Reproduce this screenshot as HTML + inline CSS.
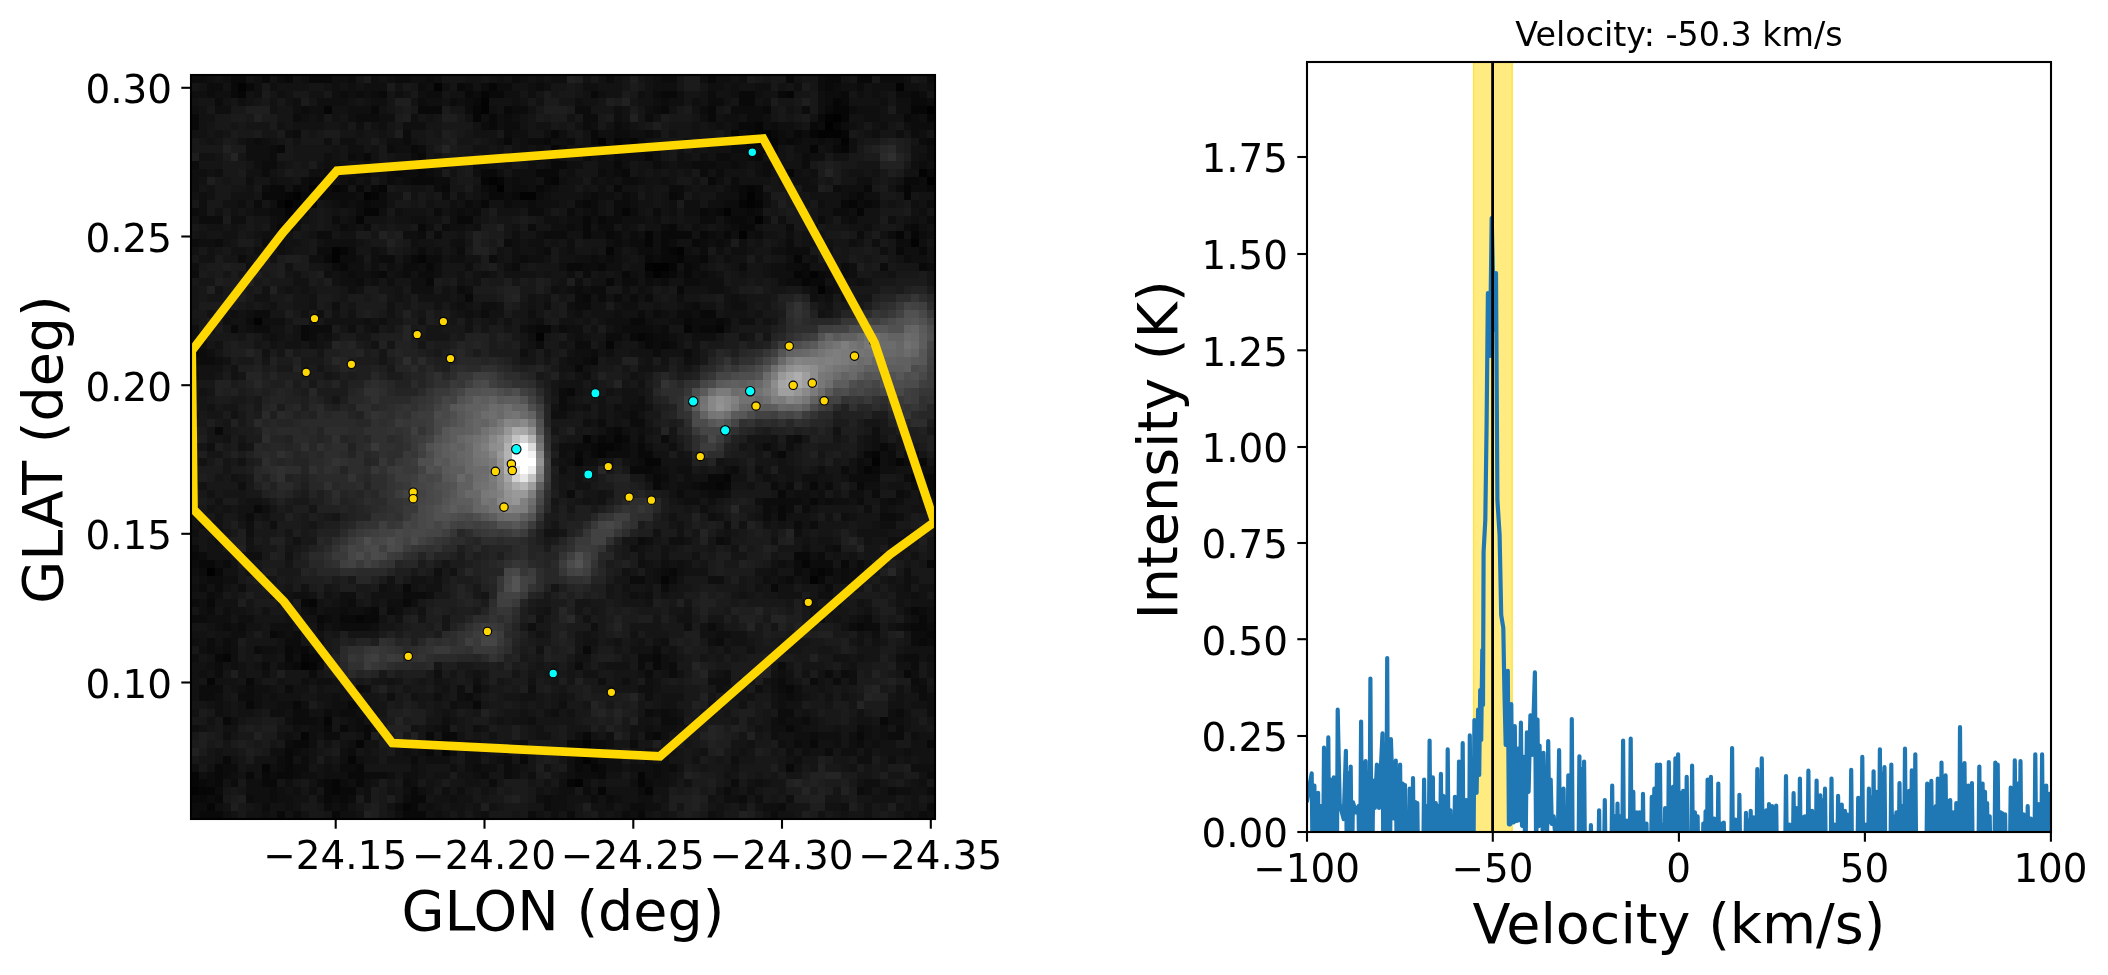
<!DOCTYPE html>
<html lang="en"><head><meta charset="utf-8"><title>Velocity: -50.3 km/s</title>
<style>html,body{margin:0;padding:0;background:#fff}body{width:2108px;height:975px;overflow:hidden}svg{display:block;will-change:transform;opacity:.999}text{font-family:"DejaVu Sans","Liberation Sans",sans-serif;fill:#000}</style>
</head><body>
<svg width="2108" height="975" viewBox="0 0 2108 975">
<rect width="2108" height="975" fill="#fff"/>
<defs><clipPath id="cl"><rect x="191.0" y="75.0" width="744.0" height="744.0"/></clipPath>
<clipPath id="cr"><rect x="1307.0" y="62.0" width="744.0" height="770.0"/></clipPath></defs>
<g clip-path="url(#cl)"><g transform="translate(183.54,67.11) scale(7.82700,7.82700)" shape-rendering="crispEdges">
<rect width="97" height="97" fill="rgb(18,18,18)"/>
<path fill="rgb(0,0,0)" d="M95 5h1v1h-1zM83 6h1v1h-1zM82 7h1v1h-1zM95 14h1v1h-1zM40 15h1v1h-1zM13 17h1v1h-1zM60 25h2v1h-2zM3 64h1v1h-1z"/>
<path fill="rgb(3,3,3)" d="M7 2h1v1h-1zM32 2h1v1h-1zM91 2h1v1h-1zM38 4h1v1h-1zM38 5h1v1h-1zM0 6h1v1h-1zM82 6h1v1h-1zM96 6h1v1h-1zM73 8h2v1h-2zM81 8h3v1h-3zM53 9h1v1h-1zM73 9h1v1h-1zM84 9h1v1h-1zM74 10h1v1h-1zM94 13h1v1h-1zM39 14h1v1h-1zM16 15h1v1h-1zM14 16h1v1h-1zM23 16h1v1h-1zM43 16h2v1h-2zM72 16h1v1h-1zM72 17h1v1h-1zM69 18h1v1h-1zM73 19h1v1h-1zM71 21h1v1h-1zM93 22h1v1h-1zM19 23h1v1h-1zM63 23h1v1h-1zM19 24h1v1h-1zM59 25h1v1h-1zM60 26h1v1h-1zM80 26h1v1h-1zM81 28h1v1h-1zM9 32h1v1h-1zM45 34h1v1h-1zM88 50h1v1h-1zM80 65h1v1h-1zM15 76h1v1h-1zM51 86h1v1h-1zM50 87h2v1h-2zM51 88h1v1h-1zM50 91h1v1h-1zM1 92h1v1h-1zM12 96h1v1h-1z"/>
<path fill="rgb(6,6,6)" d="M0 0h2v1h-2zM11 0h2v1h-2zM83 0h2v1h-2zM86 0h1v1h-1zM39 2h1v1h-1zM7 3h1v1h-1zM38 3h1v1h-1zM77 3h1v1h-1zM83 4h1v1h-1zM18 5h1v1h-1zM37 5h1v1h-1zM83 5h2v1h-2zM93 5h2v1h-2zM37 6h1v1h-1zM84 6h1v1h-1zM95 6h1v1h-1zM73 7h1v1h-1zM83 7h1v1h-1zM96 7h1v1h-1zM0 8h1v1h-1zM70 8h1v1h-1zM80 8h1v1h-1zM84 8h1v1h-1zM55 9h1v1h-1zM57 9h1v1h-1zM74 9h2v1h-2zM47 10h1v1h-1zM80 10h1v1h-1zM84 10h1v1h-1zM77 13h1v1h-1zM38 14h1v1h-1zM40 14h1v1h-1zM47 14h1v1h-1zM96 14h1v1h-1zM19 15h1v1h-1zM25 15h1v1h-1zM72 15h1v1h-1zM92 15h1v1h-1zM13 16h1v1h-1zM24 16h1v1h-1zM92 16h1v1h-1zM12 17h1v1h-1zM14 17h1v1h-1zM16 17h1v1h-1zM71 17h1v1h-1zM73 17h1v1h-1zM85 17h1v1h-1zM13 18h1v1h-1zM23 18h2v1h-2zM56 18h1v1h-1zM86 18h1v1h-1zM22 19h1v1h-1zM59 21h1v1h-1zM91 21h1v1h-1zM93 21h1v1h-1zM59 22h1v1h-1zM20 23h1v1h-1zM54 23h1v1h-1zM62 23h1v1h-1zM30 24h1v1h-1zM63 24h1v1h-1zM78 24h1v1h-1zM62 25h1v1h-1zM61 26h1v1h-1zM78 26h1v1h-1zM79 27h1v1h-1zM64 33h1v1h-1zM68 33h1v1h-1zM58 34h1v1h-1zM54 35h1v1h-1zM1 36h1v1h-1zM51 47h1v1h-1zM55 47h1v1h-1zM53 48h2v1h-2zM53 49h1v1h-1zM88 49h1v1h-1zM50 50h1v1h-1zM59 50h2v1h-2zM91 50h1v1h-1zM87 51h1v1h-1zM69 52h1v1h-1zM93 52h1v1h-1zM68 53h1v1h-1zM0 63h1v1h-1zM79 63h1v1h-1zM81 64h1v1h-1zM61 65h1v1h-1zM16 68h1v1h-1zM22 70h1v1h-1zM5 75h1v1h-1zM15 75h1v1h-1zM16 76h1v1h-1zM3 78h1v1h-1zM18 83h1v1h-1zM15 85h1v1h-1zM22 86h1v1h-1zM33 86h1v1h-1zM33 87h1v1h-1zM49 87h1v1h-1zM52 87h1v1h-1zM21 88h1v1h-1zM10 89h1v1h-1zM52 89h1v1h-1zM1 90h1v1h-1zM58 90h1v1h-1zM1 91h1v1h-1zM19 91h1v1h-1zM49 91h1v1h-1zM58 91h1v1h-1zM2 92h2v1h-2zM19 92h1v1h-1zM53 92h1v1h-1zM59 92h1v1h-1zM96 92h1v1h-1zM3 94h1v1h-1zM28 94h1v1h-1zM1 96h1v1h-1zM3 96h2v1h-2zM18 96h1v1h-1zM96 96h1v1h-1z"/>
<path fill="rgb(9,9,9)" d="M7 0h1v1h-1zM15 0h1v1h-1zM17 0h1v1h-1zM20 0h1v1h-1zM30 0h1v1h-1zM42 0h1v1h-1zM44 0h1v1h-1zM47 0h1v1h-1zM96 0h1v1h-1zM6 1h2v1h-2zM10 1h1v1h-1zM13 1h1v1h-1zM16 1h3v1h-3zM67 1h1v1h-1zM77 1h1v1h-1zM82 1h2v1h-2zM86 1h2v1h-2zM6 2h1v1h-1zM8 2h1v1h-1zM35 2h1v1h-1zM82 2h1v1h-1zM96 2h1v1h-1zM6 3h1v1h-1zM25 3h1v1h-1zM36 3h1v1h-1zM39 3h2v1h-2zM52 3h1v1h-1zM61 3h2v1h-2zM71 3h2v1h-2zM76 3h1v1h-1zM84 3h1v1h-1zM93 3h1v1h-1zM37 4h1v1h-1zM71 4h2v1h-2zM84 4h1v1h-1zM93 4h2v1h-2zM96 4h1v1h-1zM24 5h1v1h-1zM30 5h3v1h-3zM41 5h1v1h-1zM61 5h1v1h-1zM67 5h1v1h-1zM74 5h1v1h-1zM82 5h1v1h-1zM96 5h1v1h-1zM1 6h1v1h-1zM39 6h1v1h-1zM67 6h1v1h-1zM81 6h1v1h-1zM92 6h1v1h-1zM1 7h1v1h-1zM39 7h1v1h-1zM71 7h2v1h-2zM80 7h1v1h-1zM47 8h1v1h-1zM52 8h1v1h-1zM72 8h1v1h-1zM75 8h1v1h-1zM78 8h1v1h-1zM41 9h1v1h-1zM46 9h1v1h-1zM52 9h1v1h-1zM56 9h1v1h-1zM72 9h1v1h-1zM77 9h1v1h-1zM95 9h1v1h-1zM12 10h1v1h-1zM29 10h1v1h-1zM54 10h1v1h-1zM56 10h1v1h-1zM72 10h1v1h-1zM75 10h1v1h-1zM83 10h1v1h-1zM23 11h1v1h-1zM30 11h1v1h-1zM59 11h1v1h-1zM73 11h1v1h-1zM47 12h2v1h-2zM55 12h1v1h-1zM27 13h1v1h-1zM30 13h1v1h-1zM38 13h2v1h-2zM45 13h3v1h-3zM56 13h1v1h-1zM95 13h2v1h-2zM0 14h1v1h-1zM16 14h2v1h-2zM29 14h3v1h-3zM46 14h1v1h-1zM67 14h1v1h-1zM92 14h2v1h-2zM11 15h2v1h-2zM14 15h1v1h-1zM20 15h1v1h-1zM22 15h1v1h-1zM24 15h1v1h-1zM33 15h1v1h-1zM39 15h1v1h-1zM45 15h1v1h-1zM55 15h1v1h-1zM71 15h1v1h-1zM73 15h1v1h-1zM87 15h1v1h-1zM95 15h2v1h-2zM10 16h3v1h-3zM15 16h3v1h-3zM39 16h2v1h-2zM42 16h1v1h-1zM62 16h1v1h-1zM71 16h1v1h-1zM73 16h1v1h-1zM86 16h1v1h-1zM15 17h1v1h-1zM23 17h1v1h-1zM38 17h1v1h-1zM51 17h1v1h-1zM84 17h1v1h-1zM87 17h1v1h-1zM14 18h1v1h-1zM66 18h1v1h-1zM68 18h1v1h-1zM72 18h1v1h-1zM13 19h1v1h-1zM35 19h2v1h-2zM51 19h1v1h-1zM53 19h1v1h-1zM70 19h2v1h-2zM12 20h2v1h-2zM30 20h1v1h-1zM51 20h1v1h-1zM62 20h1v1h-1zM71 20h2v1h-2zM93 20h1v1h-1zM51 21h1v1h-1zM54 21h1v1h-1zM61 21h4v1h-4zM66 21h1v1h-1zM69 21h1v1h-1zM61 22h1v1h-1zM65 22h1v1h-1zM61 23h1v1h-1zM91 23h1v1h-1zM94 23h1v1h-1zM18 24h1v1h-1zM29 24h1v1h-1zM59 24h1v1h-1zM61 24h2v1h-2zM66 24h1v1h-1zM20 25h1v1h-1zM31 25h1v1h-1zM49 25h2v1h-2zM53 25h1v1h-1zM64 25h1v1h-1zM79 25h1v1h-1zM94 25h1v1h-1zM25 26h1v1h-1zM56 26h1v1h-1zM59 26h1v1h-1zM62 26h1v1h-1zM64 26h1v1h-1zM79 26h1v1h-1zM81 26h1v1h-1zM31 27h1v1h-1zM54 27h1v1h-1zM80 27h2v1h-2zM63 28h1v1h-1zM36 29h1v1h-1zM51 29h1v1h-1zM66 31h2v1h-2zM57 32h2v1h-2zM64 32h1v1h-1zM68 32h1v1h-1zM6 33h1v1h-1zM15 33h1v1h-1zM45 33h2v1h-2zM66 33h2v1h-2zM15 34h1v1h-1zM57 34h1v1h-1zM59 34h1v1h-1zM59 35h1v1h-1zM61 35h1v1h-1zM52 37h1v1h-1zM0 38h1v1h-1zM50 38h1v1h-1zM49 41h1v1h-1zM4 46h1v1h-1zM55 46h1v1h-1zM53 47h1v1h-1zM56 47h1v1h-1zM52 48h1v1h-1zM55 48h1v1h-1zM58 48h1v1h-1zM89 48h1v1h-1zM50 49h1v1h-1zM52 49h1v1h-1zM58 49h2v1h-2zM76 49h1v1h-1zM87 49h1v1h-1zM94 50h1v1h-1zM57 51h3v1h-3zM88 51h1v1h-1zM60 52h1v1h-1zM67 52h2v1h-2zM95 52h1v1h-1zM60 53h1v1h-1zM66 53h2v1h-2zM69 53h1v1h-1zM80 53h1v1h-1zM86 53h1v1h-1zM95 53h1v1h-1zM76 54h1v1h-1zM80 55h1v1h-1zM9 56h1v1h-1zM76 56h1v1h-1zM76 57h1v1h-1zM1 62h1v1h-1zM78 62h2v1h-2zM2 63h2v1h-2zM84 63h1v1h-1zM95 63h1v1h-1zM4 64h1v1h-1zM62 64h1v1h-1zM80 64h1v1h-1zM82 64h1v1h-1zM81 65h1v1h-1zM28 66h1v1h-1zM75 66h1v1h-1zM3 68h1v1h-1zM15 68h1v1h-1zM28 68h1v1h-1zM24 69h1v1h-1zM93 69h1v1h-1zM17 70h1v1h-1zM20 70h2v1h-2zM23 70h2v1h-2zM94 70h1v1h-1zM86 71h1v1h-1zM93 71h2v1h-2zM11 72h1v1h-1zM95 72h1v1h-1zM94 73h1v1h-1zM13 74h1v1h-1zM15 74h1v1h-1zM51 74h1v1h-1zM4 75h1v1h-1zM13 75h1v1h-1zM16 75h2v1h-2zM60 75h1v1h-1zM14 76h1v1h-1zM60 76h1v1h-1zM92 77h1v1h-1zM8 78h1v1h-1zM77 79h1v1h-1zM8 81h1v1h-1zM14 81h1v1h-1zM21 81h1v1h-1zM37 81h1v1h-1zM23 82h1v1h-1zM5 83h1v1h-1zM89 83h1v1h-1zM18 84h1v1h-1zM20 84h1v1h-1zM23 84h1v1h-1zM77 84h1v1h-1zM23 85h1v1h-1zM31 85h1v1h-1zM33 85h2v1h-2zM51 85h1v1h-1zM60 85h1v1h-1zM86 85h1v1h-1zM14 86h2v1h-2zM32 86h1v1h-1zM49 86h2v1h-2zM80 86h1v1h-1zM95 86h1v1h-1zM13 87h1v1h-1zM31 87h1v1h-1zM96 87h1v1h-1zM5 88h1v1h-1zM13 88h1v1h-1zM43 88h1v1h-1zM50 88h1v1h-1zM52 88h1v1h-1zM4 89h1v1h-1zM13 89h1v1h-1zM22 89h1v1h-1zM50 89h1v1h-1zM53 89h1v1h-1zM77 89h1v1h-1zM0 90h1v1h-1zM4 90h1v1h-1zM8 90h1v1h-1zM10 90h1v1h-1zM12 90h2v1h-2zM21 90h2v1h-2zM53 90h1v1h-1zM2 91h1v1h-1zM4 91h1v1h-1zM10 91h2v1h-2zM18 91h1v1h-1zM22 91h1v1h-1zM18 92h1v1h-1zM20 92h2v1h-2zM29 92h1v1h-1zM0 93h3v1h-3zM4 93h1v1h-1zM18 93h1v1h-1zM20 93h1v1h-1zM29 93h2v1h-2zM29 94h1v1h-1zM0 95h1v1h-1zM2 95h3v1h-3zM12 95h1v1h-1zM19 95h1v1h-1zM28 95h3v1h-3zM58 95h1v1h-1zM2 96h1v1h-1zM13 96h1v1h-1zM57 96h1v1h-1zM84 96h1v1h-1z"/>
<path fill="rgb(12,12,12)" d="M2 0h1v1h-1zM6 0h1v1h-1zM10 0h1v1h-1zM18 0h2v1h-2zM26 0h1v1h-1zM28 0h2v1h-2zM36 0h2v1h-2zM45 0h2v1h-2zM76 0h2v1h-2zM81 0h1v1h-1zM85 0h1v1h-1zM87 0h1v1h-1zM94 0h2v1h-2zM0 1h3v1h-3zM12 1h1v1h-1zM21 1h1v1h-1zM27 1h2v1h-2zM31 1h1v1h-1zM42 1h1v1h-1zM54 1h1v1h-1zM61 1h2v1h-2zM81 1h1v1h-1zM89 1h3v1h-3zM95 1h2v1h-2zM3 2h2v1h-2zM30 2h1v1h-1zM36 2h1v1h-1zM38 2h1v1h-1zM40 2h2v1h-2zM45 2h1v1h-1zM81 2h1v1h-1zM83 2h1v1h-1zM86 2h1v1h-1zM3 3h1v1h-1zM20 3h1v1h-1zM22 3h1v1h-1zM24 3h1v1h-1zM31 3h2v1h-2zM37 3h1v1h-1zM60 3h1v1h-1zM67 3h1v1h-1zM82 3h2v1h-2zM91 3h2v1h-2zM94 3h1v1h-1zM96 3h1v1h-1zM4 4h1v1h-1zM30 4h1v1h-1zM34 4h1v1h-1zM36 4h1v1h-1zM61 4h1v1h-1zM67 4h2v1h-2zM82 4h1v1h-1zM95 4h1v1h-1zM0 5h1v1h-1zM15 5h1v1h-1zM36 5h1v1h-1zM42 5h2v1h-2zM50 5h2v1h-2zM60 5h1v1h-1zM66 5h1v1h-1zM70 5h4v1h-4zM79 5h1v1h-1zM85 5h1v1h-1zM14 6h1v1h-1zM22 6h3v1h-3zM41 6h1v1h-1zM51 6h2v1h-2zM59 6h1v1h-1zM72 6h2v1h-2zM93 6h1v1h-1zM38 7h1v1h-1zM41 7h2v1h-2zM51 7h1v1h-1zM55 7h1v1h-1zM75 7h1v1h-1zM81 7h1v1h-1zM84 7h1v1h-1zM93 7h3v1h-3zM14 8h1v1h-1zM28 8h1v1h-1zM41 8h1v1h-1zM55 8h2v1h-2zM59 8h1v1h-1zM71 8h1v1h-1zM76 8h1v1h-1zM79 8h1v1h-1zM93 8h1v1h-1zM96 8h1v1h-1zM9 9h1v1h-1zM28 9h1v1h-1zM44 9h2v1h-2zM49 9h1v1h-1zM58 9h1v1h-1zM76 9h1v1h-1zM78 9h1v1h-1zM81 9h1v1h-1zM83 9h1v1h-1zM94 9h1v1h-1zM11 10h1v1h-1zM26 10h1v1h-1zM30 10h1v1h-1zM48 10h1v1h-1zM53 10h1v1h-1zM55 10h1v1h-1zM59 10h1v1h-1zM70 10h2v1h-2zM73 10h1v1h-1zM95 10h1v1h-1zM11 11h1v1h-1zM21 11h1v1h-1zM29 11h1v1h-1zM44 11h2v1h-2zM47 11h1v1h-1zM51 11h1v1h-1zM55 11h1v1h-1zM68 11h2v1h-2zM72 11h1v1h-1zM79 11h1v1h-1zM95 11h2v1h-2zM1 12h1v1h-1zM10 12h2v1h-2zM37 12h1v1h-1zM60 12h1v1h-1zM65 12h3v1h-3zM70 12h1v1h-1zM74 12h2v1h-2zM79 12h1v1h-1zM94 12h1v1h-1zM10 13h1v1h-1zM18 13h1v1h-1zM22 13h2v1h-2zM26 13h1v1h-1zM28 13h2v1h-2zM31 13h1v1h-1zM53 13h1v1h-1zM55 13h1v1h-1zM66 13h1v1h-1zM68 13h1v1h-1zM74 13h1v1h-1zM15 14h1v1h-1zM18 14h1v1h-1zM21 14h1v1h-1zM26 14h1v1h-1zM28 14h1v1h-1zM32 14h2v1h-2zM42 14h1v1h-1zM56 14h2v1h-2zM70 14h1v1h-1zM94 14h1v1h-1zM10 15h1v1h-1zM15 15h1v1h-1zM18 15h1v1h-1zM32 15h1v1h-1zM38 15h1v1h-1zM42 15h2v1h-2zM46 15h1v1h-1zM62 15h2v1h-2zM70 15h1v1h-1zM83 15h1v1h-1zM91 15h1v1h-1zM93 15h2v1h-2zM18 16h4v1h-4zM25 16h1v1h-1zM33 16h1v1h-1zM41 16h1v1h-1zM45 16h1v1h-1zM52 16h1v1h-1zM56 16h1v1h-1zM63 16h1v1h-1zM85 16h1v1h-1zM9 17h1v1h-1zM20 17h1v1h-1zM22 17h1v1h-1zM24 17h2v1h-2zM36 17h1v1h-1zM41 17h1v1h-1zM44 17h1v1h-1zM50 17h1v1h-1zM52 17h1v1h-1zM55 17h2v1h-2zM69 17h2v1h-2zM86 17h1v1h-1zM88 17h1v1h-1zM95 17h1v1h-1zM1 18h1v1h-1zM11 18h2v1h-2zM15 18h1v1h-1zM22 18h1v1h-1zM32 18h1v1h-1zM35 18h1v1h-1zM37 18h1v1h-1zM44 18h2v1h-2zM49 18h1v1h-1zM52 18h1v1h-1zM55 18h1v1h-1zM57 18h1v1h-1zM60 18h1v1h-1zM67 18h1v1h-1zM70 18h2v1h-2zM73 18h1v1h-1zM83 18h2v1h-2zM2 19h3v1h-3zM12 19h1v1h-1zM14 19h1v1h-1zM19 19h1v1h-1zM54 19h2v1h-2zM66 19h2v1h-2zM69 19h1v1h-1zM72 19h1v1h-1zM81 19h1v1h-1zM85 19h1v1h-1zM95 19h1v1h-1zM20 20h1v1h-1zM23 20h1v1h-1zM33 20h1v1h-1zM44 20h1v1h-1zM49 20h1v1h-1zM53 20h2v1h-2zM61 20h1v1h-1zM70 20h1v1h-1zM77 20h1v1h-1zM80 20h1v1h-1zM92 20h1v1h-1zM17 21h2v1h-2zM30 21h1v1h-1zM32 21h1v1h-1zM46 21h3v1h-3zM55 21h1v1h-1zM57 21h1v1h-1zM67 21h1v1h-1zM73 21h1v1h-1zM86 21h1v1h-1zM90 21h1v1h-1zM94 21h1v1h-1zM1 22h1v1h-1zM4 22h1v1h-1zM10 22h1v1h-1zM41 22h1v1h-1zM55 22h1v1h-1zM57 22h2v1h-2zM62 22h1v1h-1zM66 22h1v1h-1zM68 22h1v1h-1zM77 22h1v1h-1zM91 22h2v1h-2zM17 23h2v1h-2zM21 23h1v1h-1zM30 23h1v1h-1zM35 23h1v1h-1zM46 23h1v1h-1zM58 23h2v1h-2zM66 23h1v1h-1zM77 23h3v1h-3zM0 24h1v1h-1zM7 24h1v1h-1zM20 24h2v1h-2zM25 24h2v1h-2zM31 24h2v1h-2zM39 24h1v1h-1zM43 24h1v1h-1zM52 24h1v1h-1zM54 24h1v1h-1zM60 24h1v1h-1zM64 24h2v1h-2zM92 24h1v1h-1zM0 25h1v1h-1zM19 25h1v1h-1zM28 25h2v1h-2zM42 25h1v1h-1zM51 25h2v1h-2zM65 25h1v1h-1zM71 25h1v1h-1zM77 25h2v1h-2zM84 25h1v1h-1zM89 25h1v1h-1zM95 25h1v1h-1zM1 26h1v1h-1zM21 26h1v1h-1zM24 26h1v1h-1zM28 26h1v1h-1zM30 26h2v1h-2zM51 26h1v1h-1zM66 26h1v1h-1zM82 26h1v1h-1zM84 26h1v1h-1zM0 27h1v1h-1zM22 27h1v1h-1zM56 27h2v1h-2zM59 27h1v1h-1zM61 27h1v1h-1zM64 27h2v1h-2zM77 27h2v1h-2zM35 28h1v1h-1zM50 28h1v1h-1zM52 28h2v1h-2zM82 28h1v1h-1zM50 29h1v1h-1zM53 29h1v1h-1zM55 29h1v1h-1zM57 29h1v1h-1zM59 29h1v1h-1zM50 30h2v1h-2zM65 30h1v1h-1zM9 31h2v1h-2zM38 31h1v1h-1zM58 31h1v1h-1zM60 31h1v1h-1zM63 31h2v1h-2zM8 32h1v1h-1zM65 32h3v1h-3zM69 32h1v1h-1zM9 33h2v1h-2zM16 33h3v1h-3zM44 33h1v1h-1zM48 33h1v1h-1zM56 33h4v1h-4zM61 33h1v1h-1zM65 33h1v1h-1zM16 34h1v1h-1zM54 34h2v1h-2zM60 34h2v1h-2zM1 35h1v1h-1zM45 35h1v1h-1zM50 35h2v1h-2zM60 35h1v1h-1zM62 35h1v1h-1zM2 36h1v1h-1zM52 36h1v1h-1zM60 36h1v1h-1zM64 36h1v1h-1zM1 37h3v1h-3zM51 37h1v1h-1zM0 39h2v1h-2zM48 41h1v1h-1zM48 42h1v1h-1zM48 43h1v1h-1zM57 44h1v1h-1zM53 45h1v1h-1zM57 45h2v1h-2zM54 46h1v1h-1zM54 47h1v1h-1zM58 47h1v1h-1zM61 47h1v1h-1zM78 47h1v1h-1zM50 48h2v1h-2zM56 48h1v1h-1zM74 48h1v1h-1zM54 49h3v1h-3zM90 49h1v1h-1zM93 49h1v1h-1zM58 50h1v1h-1zM86 50h1v1h-1zM90 50h1v1h-1zM92 50h1v1h-1zM60 51h1v1h-1zM70 51h1v1h-1zM84 51h1v1h-1zM86 51h1v1h-1zM61 52h1v1h-1zM85 52h4v1h-4zM92 52h1v1h-1zM94 52h1v1h-1zM65 53h1v1h-1zM75 53h1v1h-1zM77 53h1v1h-1zM82 53h1v1h-1zM93 53h1v1h-1zM49 54h1v1h-1zM63 54h1v1h-1zM67 54h2v1h-2zM88 54h1v1h-1zM91 54h1v1h-1zM94 54h2v1h-2zM74 55h5v1h-5zM82 55h1v1h-1zM86 55h1v1h-1zM90 55h1v1h-1zM74 56h1v1h-1zM77 56h1v1h-1zM79 56h1v1h-1zM8 57h1v1h-1zM74 57h1v1h-1zM89 57h2v1h-2zM78 58h1v1h-1zM80 58h1v1h-1zM58 60h1v1h-1zM68 60h1v1h-1zM1 61h1v1h-1zM83 61h1v1h-1zM0 62h1v1h-1zM2 62h1v1h-1zM81 62h1v1h-1zM1 63h1v1h-1zM5 63h1v1h-1zM78 63h1v1h-1zM80 63h3v1h-3zM86 63h1v1h-1zM96 63h1v1h-1zM0 64h1v1h-1zM2 64h1v1h-1zM61 64h1v1h-1zM78 64h1v1h-1zM84 64h1v1h-1zM86 64h1v1h-1zM3 65h2v1h-2zM57 65h2v1h-2zM62 65h1v1h-1zM77 65h1v1h-1zM84 65h1v1h-1zM0 66h1v1h-1zM2 66h1v1h-1zM4 66h1v1h-1zM61 66h1v1h-1zM82 66h1v1h-1zM0 67h1v1h-1zM3 67h1v1h-1zM28 67h3v1h-3zM0 68h2v1h-2zM21 68h1v1h-1zM83 68h1v1h-1zM96 68h1v1h-1zM3 69h1v1h-1zM16 69h1v1h-1zM20 69h1v1h-1zM23 69h1v1h-1zM26 69h1v1h-1zM94 69h1v1h-1zM1 70h2v1h-2zM18 70h1v1h-1zM81 70h1v1h-1zM87 70h1v1h-1zM5 71h1v1h-1zM7 71h1v1h-1zM17 71h1v1h-1zM20 71h4v1h-4zM67 71h1v1h-1zM85 71h1v1h-1zM87 71h2v1h-2zM92 71h1v1h-1zM95 71h1v1h-1zM12 72h1v1h-1zM14 72h1v1h-1zM93 72h2v1h-2zM96 72h1v1h-1zM3 73h1v1h-1zM5 73h1v1h-1zM13 73h2v1h-2zM68 73h1v1h-1zM93 73h1v1h-1zM95 73h1v1h-1zM3 74h1v1h-1zM5 74h1v1h-1zM9 74h1v1h-1zM14 74h1v1h-1zM17 74h1v1h-1zM60 74h1v1h-1zM58 75h2v1h-2zM92 75h2v1h-2zM4 76h1v1h-1zM10 76h1v1h-1zM13 76h1v1h-1zM17 76h1v1h-1zM50 76h1v1h-1zM58 76h1v1h-1zM62 76h1v1h-1zM76 76h1v1h-1zM93 76h1v1h-1zM4 77h1v1h-1zM16 77h1v1h-1zM59 77h1v1h-1zM62 77h1v1h-1zM82 77h1v1h-1zM84 77h1v1h-1zM76 78h1v1h-1zM80 78h1v1h-1zM83 78h1v1h-1zM93 78h1v1h-1zM2 79h3v1h-3zM8 79h1v1h-1zM13 79h1v1h-1zM22 79h1v1h-1zM37 79h1v1h-1zM76 79h1v1h-1zM94 79h1v1h-1zM2 80h2v1h-2zM7 80h2v1h-2zM36 80h1v1h-1zM77 80h1v1h-1zM94 80h1v1h-1zM22 81h1v1h-1zM14 82h2v1h-2zM18 82h1v1h-1zM20 82h2v1h-2zM59 82h1v1h-1zM61 82h1v1h-1zM76 82h2v1h-2zM91 82h1v1h-1zM14 83h3v1h-3zM22 83h1v1h-1zM61 83h2v1h-2zM76 83h1v1h-1zM79 83h1v1h-1zM22 84h1v1h-1zM33 84h1v1h-1zM86 84h1v1h-1zM91 84h1v1h-1zM18 85h2v1h-2zM59 85h1v1h-1zM80 85h1v1h-1zM90 85h2v1h-2zM13 86h1v1h-1zM31 86h1v1h-1zM36 86h1v1h-1zM52 86h2v1h-2zM57 86h1v1h-1zM78 86h1v1h-1zM86 86h1v1h-1zM14 87h1v1h-1zM21 87h1v1h-1zM34 87h1v1h-1zM53 87h1v1h-1zM82 87h1v1h-1zM12 88h1v1h-1zM15 88h1v1h-1zM29 88h1v1h-1zM41 88h1v1h-1zM5 89h2v1h-2zM12 89h1v1h-1zM14 89h2v1h-2zM20 89h2v1h-2zM37 89h1v1h-1zM41 89h1v1h-1zM51 89h1v1h-1zM60 89h1v1h-1zM62 89h1v1h-1zM96 89h1v1h-1zM3 90h1v1h-1zM5 90h1v1h-1zM11 90h1v1h-1zM14 90h1v1h-1zM23 90h3v1h-3zM38 90h1v1h-1zM41 90h1v1h-1zM50 90h3v1h-3zM60 90h1v1h-1zM95 90h1v1h-1zM0 91h1v1h-1zM3 91h1v1h-1zM6 91h1v1h-1zM17 91h1v1h-1zM20 91h1v1h-1zM28 91h1v1h-1zM39 91h1v1h-1zM59 91h1v1h-1zM70 91h1v1h-1zM96 91h1v1h-1zM0 92h1v1h-1zM4 92h1v1h-1zM11 92h1v1h-1zM51 92h1v1h-1zM58 92h1v1h-1zM69 92h1v1h-1zM86 92h1v1h-1zM90 92h1v1h-1zM95 92h1v1h-1zM3 93h1v1h-1zM8 93h1v1h-1zM11 93h1v1h-1zM19 93h1v1h-1zM21 93h1v1h-1zM28 93h1v1h-1zM46 93h1v1h-1zM52 93h1v1h-1zM54 93h1v1h-1zM71 93h1v1h-1zM96 93h1v1h-1zM1 94h2v1h-2zM10 94h1v1h-1zM18 94h1v1h-1zM20 94h1v1h-1zM27 94h1v1h-1zM46 94h1v1h-1zM57 94h2v1h-2zM76 94h1v1h-1zM95 94h1v1h-1zM1 95h1v1h-1zM14 95h1v1h-1zM44 95h1v1h-1zM49 95h1v1h-1zM56 95h1v1h-1zM75 95h1v1h-1zM94 95h1v1h-1zM96 95h1v1h-1zM0 96h1v1h-1zM11 96h1v1h-1zM19 96h3v1h-3zM27 96h2v1h-2zM30 96h1v1h-1zM45 96h1v1h-1zM58 96h1v1h-1zM77 96h1v1h-1zM87 96h1v1h-1z"/>
<path fill="rgb(15,15,15)" d="M3 0h1v1h-1zM5 0h1v1h-1zM8 0h1v1h-1zM13 0h2v1h-2zM16 0h1v1h-1zM21 0h1v1h-1zM27 0h1v1h-1zM31 0h1v1h-1zM35 0h1v1h-1zM39 0h1v1h-1zM43 0h1v1h-1zM53 0h1v1h-1zM62 0h1v1h-1zM67 0h1v1h-1zM75 0h1v1h-1zM82 0h1v1h-1zM88 0h2v1h-2zM92 0h2v1h-2zM3 1h1v1h-1zM5 1h1v1h-1zM9 1h1v1h-1zM15 1h1v1h-1zM19 1h2v1h-2zM24 1h1v1h-1zM26 1h1v1h-1zM29 1h2v1h-2zM32 1h1v1h-1zM40 1h1v1h-1zM43 1h1v1h-1zM45 1h1v1h-1zM47 1h2v1h-2zM60 1h1v1h-1zM66 1h1v1h-1zM68 1h2v1h-2zM71 1h1v1h-1zM92 1h1v1h-1zM0 2h1v1h-1zM9 2h1v1h-1zM11 2h1v1h-1zM19 2h1v1h-1zM21 2h1v1h-1zM23 2h3v1h-3zM31 2h1v1h-1zM33 2h1v1h-1zM44 2h1v1h-1zM46 2h1v1h-1zM51 2h2v1h-2zM60 2h3v1h-3zM67 2h2v1h-2zM70 2h1v1h-1zM73 2h2v1h-2zM78 2h1v1h-1zM84 2h2v1h-2zM88 2h3v1h-3zM92 2h2v1h-2zM95 2h1v1h-1zM1 3h2v1h-2zM4 3h2v1h-2zM9 3h1v1h-1zM12 3h1v1h-1zM19 3h1v1h-1zM21 3h1v1h-1zM23 3h1v1h-1zM27 3h1v1h-1zM30 3h1v1h-1zM41 3h2v1h-2zM44 3h1v1h-1zM53 3h1v1h-1zM58 3h1v1h-1zM63 3h1v1h-1zM70 3h1v1h-1zM73 3h1v1h-1zM81 3h1v1h-1zM86 3h1v1h-1zM88 3h1v1h-1zM7 4h1v1h-1zM14 4h1v1h-1zM17 4h4v1h-4zM24 4h2v1h-2zM31 4h2v1h-2zM35 4h1v1h-1zM42 4h1v1h-1zM50 4h1v1h-1zM60 4h1v1h-1zM62 4h2v1h-2zM65 4h1v1h-1zM74 4h1v1h-1zM81 4h1v1h-1zM89 4h1v1h-1zM91 4h2v1h-2zM1 5h1v1h-1zM4 5h2v1h-2zM14 5h1v1h-1zM16 5h2v1h-2zM21 5h3v1h-3zM39 5h1v1h-1zM55 5h1v1h-1zM59 5h1v1h-1zM81 5h1v1h-1zM86 5h3v1h-3zM91 5h2v1h-2zM15 6h1v1h-1zM17 6h1v1h-1zM21 6h1v1h-1zM25 6h2v1h-2zM29 6h1v1h-1zM38 6h1v1h-1zM40 6h1v1h-1zM42 6h1v1h-1zM55 6h1v1h-1zM66 6h1v1h-1zM69 6h2v1h-2zM74 6h1v1h-1zM87 6h2v1h-2zM94 6h1v1h-1zM0 7h1v1h-1zM22 7h1v1h-1zM25 7h1v1h-1zM28 7h3v1h-3zM40 7h1v1h-1zM52 7h1v1h-1zM56 7h1v1h-1zM68 7h1v1h-1zM70 7h1v1h-1zM74 7h1v1h-1zM76 7h2v1h-2zM85 7h1v1h-1zM89 7h1v1h-1zM92 7h1v1h-1zM13 8h1v1h-1zM42 8h2v1h-2zM46 8h1v1h-1zM48 8h1v1h-1zM53 8h2v1h-2zM57 8h2v1h-2zM60 8h1v1h-1zM77 8h1v1h-1zM88 8h1v1h-1zM91 8h1v1h-1zM94 8h1v1h-1zM8 9h1v1h-1zM10 9h1v1h-1zM18 9h1v1h-1zM20 9h2v1h-2zM26 9h2v1h-2zM40 9h1v1h-1zM43 9h1v1h-1zM47 9h2v1h-2zM54 9h1v1h-1zM64 9h1v1h-1zM79 9h2v1h-2zM82 9h1v1h-1zM85 9h1v1h-1zM8 10h3v1h-3zM21 10h2v1h-2zM27 10h2v1h-2zM43 10h1v1h-1zM45 10h1v1h-1zM57 10h2v1h-2zM60 10h1v1h-1zM78 10h2v1h-2zM82 10h1v1h-1zM85 10h1v1h-1zM8 11h3v1h-3zM18 11h1v1h-1zM22 11h1v1h-1zM43 11h1v1h-1zM46 11h1v1h-1zM53 11h1v1h-1zM56 11h3v1h-3zM60 11h1v1h-1zM63 11h1v1h-1zM66 11h1v1h-1zM70 11h2v1h-2zM75 11h1v1h-1zM80 11h2v1h-2zM94 11h1v1h-1zM0 12h1v1h-1zM9 12h1v1h-1zM18 12h2v1h-2zM23 12h1v1h-1zM28 12h4v1h-4zM33 12h1v1h-1zM38 12h1v1h-1zM44 12h1v1h-1zM46 12h1v1h-1zM49 12h2v1h-2zM53 12h2v1h-2zM56 12h1v1h-1zM61 12h1v1h-1zM63 12h2v1h-2zM68 12h2v1h-2zM71 12h1v1h-1zM73 12h1v1h-1zM93 12h1v1h-1zM95 12h1v1h-1zM0 13h3v1h-3zM4 13h1v1h-1zM16 13h2v1h-2zM19 13h1v1h-1zM32 13h1v1h-1zM37 13h1v1h-1zM40 13h1v1h-1zM42 13h3v1h-3zM49 13h1v1h-1zM54 13h1v1h-1zM73 13h1v1h-1zM78 13h1v1h-1zM80 13h1v1h-1zM1 14h1v1h-1zM8 14h1v1h-1zM11 14h1v1h-1zM20 14h1v1h-1zM23 14h1v1h-1zM27 14h1v1h-1zM41 14h1v1h-1zM43 14h2v1h-2zM48 14h1v1h-1zM52 14h1v1h-1zM54 14h1v1h-1zM58 14h1v1h-1zM61 14h1v1h-1zM68 14h1v1h-1zM78 14h2v1h-2zM86 14h2v1h-2zM0 15h2v1h-2zM17 15h1v1h-1zM41 15h1v1h-1zM44 15h1v1h-1zM47 15h1v1h-1zM53 15h1v1h-1zM69 15h1v1h-1zM77 15h1v1h-1zM79 15h2v1h-2zM84 15h3v1h-3zM0 16h1v1h-1zM2 16h1v1h-1zM22 16h1v1h-1zM35 16h1v1h-1zM38 16h1v1h-1zM46 16h1v1h-1zM51 16h1v1h-1zM53 16h2v1h-2zM57 16h1v1h-1zM68 16h3v1h-3zM74 16h1v1h-1zM84 16h1v1h-1zM87 16h2v1h-2zM96 16h1v1h-1zM2 17h1v1h-1zM7 17h1v1h-1zM11 17h1v1h-1zM19 17h1v1h-1zM21 17h1v1h-1zM34 17h1v1h-1zM37 17h1v1h-1zM42 17h2v1h-2zM45 17h3v1h-3zM57 17h1v1h-1zM62 17h1v1h-1zM64 17h2v1h-2zM67 17h2v1h-2zM74 17h1v1h-1zM81 17h1v1h-1zM93 17h1v1h-1zM0 18h1v1h-1zM2 18h1v1h-1zM9 18h2v1h-2zM25 18h1v1h-1zM27 18h1v1h-1zM34 18h1v1h-1zM36 18h1v1h-1zM51 18h1v1h-1zM62 18h1v1h-1zM64 18h2v1h-2zM85 18h1v1h-1zM94 18h1v1h-1zM96 18h1v1h-1zM6 19h2v1h-2zM11 19h1v1h-1zM21 19h1v1h-1zM29 19h2v1h-2zM34 19h1v1h-1zM46 19h2v1h-2zM49 19h2v1h-2zM52 19h1v1h-1zM56 19h3v1h-3zM60 19h1v1h-1zM74 19h1v1h-1zM76 19h1v1h-1zM84 19h1v1h-1zM90 19h1v1h-1zM93 19h1v1h-1zM11 20h1v1h-1zM14 20h1v1h-1zM21 20h1v1h-1zM31 20h1v1h-1zM34 20h2v1h-2zM37 20h1v1h-1zM47 20h2v1h-2zM50 20h1v1h-1zM56 20h1v1h-1zM65 20h1v1h-1zM69 20h1v1h-1zM87 20h1v1h-1zM94 20h1v1h-1zM10 21h3v1h-3zM28 21h2v1h-2zM42 21h1v1h-1zM45 21h1v1h-1zM52 21h2v1h-2zM58 21h1v1h-1zM60 21h1v1h-1zM68 21h1v1h-1zM70 21h1v1h-1zM72 21h1v1h-1zM77 21h1v1h-1zM95 21h1v1h-1zM2 22h2v1h-2zM12 22h1v1h-1zM18 22h4v1h-4zM29 22h1v1h-1zM34 22h2v1h-2zM42 22h1v1h-1zM44 22h2v1h-2zM49 22h1v1h-1zM54 22h1v1h-1zM56 22h1v1h-1zM60 22h1v1h-1zM67 22h1v1h-1zM69 22h1v1h-1zM71 22h1v1h-1zM85 22h1v1h-1zM88 22h1v1h-1zM94 22h1v1h-1zM9 23h1v1h-1zM12 23h1v1h-1zM24 23h1v1h-1zM32 23h1v1h-1zM42 23h1v1h-1zM45 23h1v1h-1zM49 23h1v1h-1zM55 23h1v1h-1zM60 23h1v1h-1zM64 23h1v1h-1zM68 23h1v1h-1zM70 23h2v1h-2zM75 23h2v1h-2zM82 23h1v1h-1zM89 23h1v1h-1zM92 23h2v1h-2zM16 24h2v1h-2zM22 24h1v1h-1zM24 24h1v1h-1zM28 24h1v1h-1zM34 24h2v1h-2zM42 24h1v1h-1zM44 24h2v1h-2zM50 24h2v1h-2zM53 24h1v1h-1zM55 24h1v1h-1zM69 24h1v1h-1zM77 24h1v1h-1zM80 24h1v1h-1zM93 24h2v1h-2zM1 25h1v1h-1zM8 25h1v1h-1zM21 25h2v1h-2zM24 25h1v1h-1zM26 25h1v1h-1zM30 25h1v1h-1zM32 25h1v1h-1zM36 25h1v1h-1zM41 25h1v1h-1zM48 25h1v1h-1zM54 25h2v1h-2zM75 25h2v1h-2zM82 25h1v1h-1zM85 25h1v1h-1zM96 25h1v1h-1zM18 26h1v1h-1zM20 26h1v1h-1zM22 26h2v1h-2zM27 26h1v1h-1zM32 26h1v1h-1zM38 26h1v1h-1zM49 26h1v1h-1zM57 26h1v1h-1zM63 26h1v1h-1zM65 26h1v1h-1zM67 26h1v1h-1zM75 26h3v1h-3zM83 26h1v1h-1zM85 26h1v1h-1zM96 26h1v1h-1zM20 27h2v1h-2zM24 27h1v1h-1zM26 27h1v1h-1zM29 27h2v1h-2zM50 27h1v1h-1zM60 27h1v1h-1zM66 27h3v1h-3zM76 27h1v1h-1zM83 27h1v1h-1zM86 27h1v1h-1zM0 28h1v1h-1zM21 28h1v1h-1zM29 28h3v1h-3zM36 28h1v1h-1zM47 28h1v1h-1zM49 28h1v1h-1zM51 28h1v1h-1zM56 28h1v1h-1zM58 28h1v1h-1zM67 28h2v1h-2zM80 28h1v1h-1zM83 28h1v1h-1zM63 29h1v1h-1zM70 29h1v1h-1zM80 29h1v1h-1zM82 29h1v1h-1zM84 29h1v1h-1zM19 30h1v1h-1zM35 30h1v1h-1zM38 30h2v1h-2zM46 30h1v1h-1zM49 30h1v1h-1zM56 30h2v1h-2zM64 30h1v1h-1zM70 30h2v1h-2zM6 31h1v1h-1zM8 31h1v1h-1zM17 31h1v1h-1zM36 31h1v1h-1zM44 31h1v1h-1zM50 31h1v1h-1zM55 31h1v1h-1zM61 31h1v1h-1zM65 31h1v1h-1zM0 32h1v1h-1zM5 32h1v1h-1zM10 32h3v1h-3zM23 32h1v1h-1zM25 32h1v1h-1zM45 32h1v1h-1zM54 32h3v1h-3zM59 32h1v1h-1zM62 32h2v1h-2zM71 32h2v1h-2zM1 33h1v1h-1zM8 33h1v1h-1zM21 33h1v1h-1zM24 33h1v1h-1zM43 33h1v1h-1zM49 33h2v1h-2zM55 33h1v1h-1zM60 33h1v1h-1zM69 33h1v1h-1zM1 34h1v1h-1zM11 34h1v1h-1zM18 34h1v1h-1zM44 34h1v1h-1zM50 34h1v1h-1zM62 34h1v1h-1zM65 34h3v1h-3zM2 35h1v1h-1zM16 35h1v1h-1zM58 35h1v1h-1zM0 36h1v1h-1zM3 36h1v1h-1zM43 36h1v1h-1zM50 36h2v1h-2zM54 36h1v1h-1zM4 37h1v1h-1zM49 37h2v1h-2zM64 37h1v1h-1zM1 38h1v1h-1zM51 39h1v1h-1zM0 40h1v1h-1zM58 42h1v1h-1zM49 43h1v1h-1zM51 43h1v1h-1zM55 43h1v1h-1zM57 43h2v1h-2zM47 44h2v1h-2zM56 44h1v1h-1zM51 45h1v1h-1zM56 46h1v1h-1zM58 46h1v1h-1zM88 46h1v1h-1zM52 47h1v1h-1zM77 47h1v1h-1zM88 47h1v1h-1zM3 48h1v1h-1zM48 48h2v1h-2zM57 48h1v1h-1zM59 48h1v1h-1zM62 48h1v1h-1zM77 48h1v1h-1zM88 48h1v1h-1zM90 48h1v1h-1zM48 49h1v1h-1zM51 49h1v1h-1zM57 49h1v1h-1zM75 49h1v1h-1zM89 49h1v1h-1zM92 49h1v1h-1zM49 50h1v1h-1zM51 50h2v1h-2zM57 50h1v1h-1zM87 50h1v1h-1zM89 50h1v1h-1zM93 50h1v1h-1zM48 51h1v1h-1zM61 51h1v1h-1zM63 51h2v1h-2zM69 51h1v1h-1zM73 51h1v1h-1zM81 51h1v1h-1zM89 51h2v1h-2zM93 51h4v1h-4zM0 52h1v1h-1zM59 52h1v1h-1zM64 52h1v1h-1zM74 52h1v1h-1zM79 52h2v1h-2zM7 53h1v1h-1zM61 53h1v1h-1zM63 53h2v1h-2zM87 53h2v1h-2zM96 53h1v1h-1zM66 54h1v1h-1zM69 54h1v1h-1zM78 54h2v1h-2zM81 54h1v1h-1zM85 54h2v1h-2zM92 54h1v1h-1zM64 55h2v1h-2zM67 55h1v1h-1zM73 55h1v1h-1zM79 55h1v1h-1zM81 55h1v1h-1zM83 55h2v1h-2zM89 55h1v1h-1zM91 55h1v1h-1zM10 56h1v1h-1zM66 56h1v1h-1zM75 56h1v1h-1zM87 56h1v1h-1zM89 56h1v1h-1zM0 57h1v1h-1zM67 57h1v1h-1zM84 57h1v1h-1zM91 57h1v1h-1zM2 58h2v1h-2zM8 58h1v1h-1zM11 58h1v1h-1zM69 58h1v1h-1zM89 58h2v1h-2zM96 58h1v1h-1zM0 59h2v1h-2zM4 59h1v1h-1zM8 59h1v1h-1zM78 59h1v1h-1zM0 60h1v1h-1zM4 60h1v1h-1zM59 60h1v1h-1zM62 60h2v1h-2zM69 60h1v1h-1zM90 60h2v1h-2zM0 61h1v1h-1zM57 61h1v1h-1zM79 61h1v1h-1zM82 61h1v1h-1zM96 61h1v1h-1zM8 62h2v1h-2zM80 62h1v1h-1zM4 63h1v1h-1zM58 63h1v1h-1zM61 63h1v1h-1zM63 63h1v1h-1zM76 63h1v1h-1zM1 64h1v1h-1zM32 64h1v1h-1zM60 64h1v1h-1zM63 64h1v1h-1zM75 64h1v1h-1zM79 64h1v1h-1zM83 64h1v1h-1zM85 64h1v1h-1zM92 64h1v1h-1zM2 65h1v1h-1zM5 65h2v1h-2zM60 65h1v1h-1zM67 65h2v1h-2zM74 65h1v1h-1zM76 65h1v1h-1zM79 65h1v1h-1zM83 65h1v1h-1zM85 65h1v1h-1zM92 65h1v1h-1zM1 66h1v1h-1zM7 66h1v1h-1zM25 66h1v1h-1zM92 66h1v1h-1zM4 67h1v1h-1zM11 67h2v1h-2zM14 67h2v1h-2zM20 67h2v1h-2zM31 67h1v1h-1zM57 67h1v1h-1zM59 67h1v1h-1zM81 67h2v1h-2zM93 67h1v1h-1zM96 67h1v1h-1zM2 68h1v1h-1zM20 68h1v1h-1zM26 68h2v1h-2zM29 68h1v1h-1zM2 69h1v1h-1zM5 69h1v1h-1zM15 69h1v1h-1zM18 69h2v1h-2zM21 69h2v1h-2zM27 69h1v1h-1zM82 69h1v1h-1zM92 69h1v1h-1zM95 69h1v1h-1zM0 70h1v1h-1zM3 70h3v1h-3zM7 70h2v1h-2zM14 70h1v1h-1zM19 70h1v1h-1zM80 70h1v1h-1zM86 70h1v1h-1zM93 70h1v1h-1zM95 70h2v1h-2zM4 71h1v1h-1zM6 71h1v1h-1zM11 71h3v1h-3zM19 71h1v1h-1zM24 71h1v1h-1zM44 71h1v1h-1zM52 71h1v1h-1zM64 71h1v1h-1zM91 71h1v1h-1zM96 71h1v1h-1zM6 72h2v1h-2zM13 72h1v1h-1zM68 72h2v1h-2zM88 72h1v1h-1zM1 73h1v1h-1zM6 73h1v1h-1zM17 73h1v1h-1zM61 73h1v1h-1zM67 73h1v1h-1zM96 73h1v1h-1zM2 74h1v1h-1zM4 74h1v1h-1zM6 74h1v1h-1zM10 74h2v1h-2zM16 74h1v1h-1zM0 75h2v1h-2zM6 75h1v1h-1zM14 75h1v1h-1zM61 75h1v1h-1zM91 75h1v1h-1zM95 75h1v1h-1zM3 76h1v1h-1zM6 76h1v1h-1zM12 76h1v1h-1zM61 76h1v1h-1zM2 77h1v1h-1zM10 77h1v1h-1zM32 77h1v1h-1zM69 77h1v1h-1zM76 77h1v1h-1zM85 77h1v1h-1zM93 77h1v1h-1zM15 78h1v1h-1zM17 78h2v1h-2zM37 78h1v1h-1zM53 78h1v1h-1zM56 78h1v1h-1zM59 78h1v1h-1zM67 78h3v1h-3zM75 78h1v1h-1zM85 78h1v1h-1zM94 78h1v1h-1zM7 79h1v1h-1zM9 79h2v1h-2zM23 79h1v1h-1zM35 79h1v1h-1zM44 79h1v1h-1zM58 79h2v1h-2zM68 79h1v1h-1zM73 79h1v1h-1zM75 79h1v1h-1zM78 79h1v1h-1zM93 79h1v1h-1zM4 80h1v1h-1zM9 80h1v1h-1zM11 80h1v1h-1zM19 80h1v1h-1zM26 80h1v1h-1zM32 80h1v1h-1zM35 80h1v1h-1zM59 80h1v1h-1zM76 80h1v1h-1zM78 80h1v1h-1zM95 80h1v1h-1zM0 81h1v1h-1zM4 81h1v1h-1zM9 81h1v1h-1zM12 81h2v1h-2zM15 81h1v1h-1zM19 81h2v1h-2zM34 81h1v1h-1zM48 81h1v1h-1zM76 81h1v1h-1zM95 81h1v1h-1zM4 82h1v1h-1zM11 82h2v1h-2zM19 82h1v1h-1zM22 82h1v1h-1zM47 82h1v1h-1zM60 82h1v1h-1zM62 82h1v1h-1zM90 82h1v1h-1zM95 82h1v1h-1zM0 83h1v1h-1zM6 83h1v1h-1zM13 83h1v1h-1zM17 83h1v1h-1zM21 83h1v1h-1zM24 83h1v1h-1zM33 83h1v1h-1zM44 83h1v1h-1zM63 83h1v1h-1zM75 83h1v1h-1zM77 83h2v1h-2zM90 83h2v1h-2zM1 84h1v1h-1zM14 84h1v1h-1zM16 84h2v1h-2zM21 84h1v1h-1zM24 84h1v1h-1zM32 84h1v1h-1zM37 84h1v1h-1zM59 84h1v1h-1zM61 84h2v1h-2zM75 84h2v1h-2zM78 84h1v1h-1zM87 84h1v1h-1zM89 84h1v1h-1zM96 84h1v1h-1zM0 85h1v1h-1zM5 85h1v1h-1zM13 85h1v1h-1zM16 85h1v1h-1zM50 85h1v1h-1zM54 85h1v1h-1zM61 85h1v1h-1zM75 85h1v1h-1zM78 85h2v1h-2zM81 85h3v1h-3zM85 85h1v1h-1zM87 85h1v1h-1zM89 85h1v1h-1zM93 85h1v1h-1zM96 85h1v1h-1zM16 86h1v1h-1zM21 86h1v1h-1zM29 86h1v1h-1zM34 86h1v1h-1zM37 86h1v1h-1zM43 86h1v1h-1zM54 86h1v1h-1zM76 86h1v1h-1zM79 86h1v1h-1zM83 86h1v1h-1zM85 86h1v1h-1zM88 86h1v1h-1zM96 86h1v1h-1zM11 87h2v1h-2zM15 87h1v1h-1zM20 87h1v1h-1zM28 87h1v1h-1zM30 87h1v1h-1zM36 87h2v1h-2zM43 87h1v1h-1zM59 87h1v1h-1zM77 87h1v1h-1zM79 87h1v1h-1zM84 87h2v1h-2zM87 87h1v1h-1zM92 87h1v1h-1zM0 88h1v1h-1zM20 88h1v1h-1zM22 88h1v1h-1zM31 88h3v1h-3zM36 88h2v1h-2zM40 88h1v1h-1zM49 88h1v1h-1zM53 88h3v1h-3zM59 88h1v1h-1zM61 88h1v1h-1zM70 88h1v1h-1zM78 88h1v1h-1zM86 88h2v1h-2zM90 88h1v1h-1zM1 89h1v1h-1zM11 89h1v1h-1zM18 89h1v1h-1zM29 89h1v1h-1zM34 89h1v1h-1zM36 89h1v1h-1zM38 89h2v1h-2zM42 89h1v1h-1zM49 89h1v1h-1zM54 89h2v1h-2zM57 89h3v1h-3zM61 89h1v1h-1zM93 89h3v1h-3zM2 90h1v1h-1zM6 90h1v1h-1zM15 90h2v1h-2zM18 90h3v1h-3zM26 90h1v1h-1zM28 90h2v1h-2zM37 90h1v1h-1zM42 90h1v1h-1zM44 90h1v1h-1zM49 90h1v1h-1zM59 90h1v1h-1zM61 90h1v1h-1zM96 90h1v1h-1zM8 91h2v1h-2zM13 91h1v1h-1zM21 91h1v1h-1zM23 91h1v1h-1zM29 91h1v1h-1zM48 91h1v1h-1zM51 91h1v1h-1zM57 91h1v1h-1zM60 91h2v1h-2zM73 91h1v1h-1zM87 91h2v1h-2zM94 91h1v1h-1zM8 92h3v1h-3zM12 92h1v1h-1zM14 92h1v1h-1zM16 92h1v1h-1zM23 92h1v1h-1zM28 92h1v1h-1zM30 92h1v1h-1zM33 92h1v1h-1zM35 92h1v1h-1zM48 92h2v1h-2zM72 92h1v1h-1zM87 92h1v1h-1zM91 92h2v1h-2zM9 93h2v1h-2zM12 93h2v1h-2zM17 93h1v1h-1zM23 93h1v1h-1zM34 93h1v1h-1zM45 93h1v1h-1zM47 93h2v1h-2zM55 93h1v1h-1zM58 93h2v1h-2zM69 93h2v1h-2zM73 93h1v1h-1zM77 93h1v1h-1zM0 94h1v1h-1zM4 94h1v1h-1zM13 94h1v1h-1zM19 94h1v1h-1zM31 94h1v1h-1zM47 94h2v1h-2zM54 94h1v1h-1zM59 94h2v1h-2zM74 94h2v1h-2zM84 94h1v1h-1zM5 95h1v1h-1zM10 95h1v1h-1zM20 95h2v1h-2zM27 95h1v1h-1zM32 95h1v1h-1zM38 95h1v1h-1zM47 95h1v1h-1zM57 95h1v1h-1zM67 95h1v1h-1zM92 95h1v1h-1zM95 95h1v1h-1zM5 96h2v1h-2zM17 96h1v1h-1zM36 96h1v1h-1zM47 96h1v1h-1zM49 96h1v1h-1zM53 96h1v1h-1zM55 96h1v1h-1zM66 96h1v1h-1zM74 96h3v1h-3zM86 96h1v1h-1z"/>
<path fill="rgb(21,21,21)" d="M4 0h1v1h-1zM23 0h1v1h-1zM40 0h2v1h-2zM51 0h1v1h-1zM57 0h1v1h-1zM59 0h1v1h-1zM63 0h1v1h-1zM66 0h1v1h-1zM73 0h1v1h-1zM79 0h1v1h-1zM91 0h1v1h-1zM22 1h1v1h-1zM33 1h3v1h-3zM38 1h1v1h-1zM56 1h1v1h-1zM58 1h1v1h-1zM63 1h1v1h-1zM74 1h1v1h-1zM79 1h2v1h-2zM85 1h1v1h-1zM94 1h1v1h-1zM1 2h1v1h-1zM16 2h2v1h-2zM29 2h1v1h-1zM34 2h1v1h-1zM47 2h2v1h-2zM50 2h1v1h-1zM56 2h1v1h-1zM63 2h1v1h-1zM66 2h1v1h-1zM77 2h1v1h-1zM80 2h1v1h-1zM11 3h1v1h-1zM26 3h1v1h-1zM33 3h1v1h-1zM43 3h1v1h-1zM45 3h1v1h-1zM47 3h1v1h-1zM50 3h1v1h-1zM64 3h2v1h-2zM78 3h2v1h-2zM85 3h1v1h-1zM90 3h1v1h-1zM95 3h1v1h-1zM2 4h2v1h-2zM6 4h1v1h-1zM9 4h1v1h-1zM16 4h1v1h-1zM22 4h1v1h-1zM26 4h1v1h-1zM48 4h2v1h-2zM53 4h1v1h-1zM57 4h1v1h-1zM64 4h1v1h-1zM70 4h1v1h-1zM76 4h2v1h-2zM90 4h1v1h-1zM12 5h2v1h-2zM26 5h1v1h-1zM34 5h2v1h-2zM52 5h3v1h-3zM58 5h1v1h-1zM68 5h1v1h-1zM75 5h1v1h-1zM78 5h1v1h-1zM12 6h2v1h-2zM20 6h1v1h-1zM30 6h1v1h-1zM32 6h1v1h-1zM44 6h1v1h-1zM58 6h1v1h-1zM65 6h1v1h-1zM75 6h1v1h-1zM77 6h1v1h-1zM3 7h1v1h-1zM6 7h1v1h-1zM8 7h3v1h-3zM13 7h1v1h-1zM18 7h2v1h-2zM26 7h1v1h-1zM31 7h2v1h-2zM44 7h1v1h-1zM48 7h1v1h-1zM58 7h1v1h-1zM62 7h3v1h-3zM66 7h1v1h-1zM79 7h1v1h-1zM90 7h1v1h-1zM3 8h1v1h-1zM5 8h1v1h-1zM10 8h2v1h-2zM16 8h1v1h-1zM20 8h2v1h-2zM23 8h2v1h-2zM26 8h1v1h-1zM29 8h2v1h-2zM32 8h1v1h-1zM36 8h1v1h-1zM44 8h2v1h-2zM49 8h1v1h-1zM63 8h2v1h-2zM66 8h2v1h-2zM86 8h1v1h-1zM89 8h2v1h-2zM92 8h1v1h-1zM95 8h1v1h-1zM2 9h1v1h-1zM4 9h1v1h-1zM12 9h1v1h-1zM22 9h2v1h-2zM25 9h1v1h-1zM30 9h1v1h-1zM35 9h2v1h-2zM38 9h1v1h-1zM50 9h1v1h-1zM60 9h2v1h-2zM63 9h1v1h-1zM66 9h1v1h-1zM71 9h1v1h-1zM86 9h1v1h-1zM93 9h1v1h-1zM14 10h5v1h-5zM20 10h1v1h-1zM23 10h1v1h-1zM31 10h1v1h-1zM39 10h1v1h-1zM61 10h1v1h-1zM66 10h1v1h-1zM77 10h1v1h-1zM0 11h1v1h-1zM4 11h1v1h-1zM7 11h1v1h-1zM14 11h4v1h-4zM20 11h1v1h-1zM26 11h1v1h-1zM31 11h1v1h-1zM36 11h1v1h-1zM40 11h3v1h-3zM49 11h2v1h-2zM61 11h1v1h-1zM65 11h1v1h-1zM77 11h1v1h-1zM2 12h3v1h-3zM8 12h1v1h-1zM13 12h1v1h-1zM15 12h1v1h-1zM21 12h1v1h-1zM26 12h2v1h-2zM34 12h1v1h-1zM40 12h1v1h-1zM43 12h1v1h-1zM51 12h2v1h-2zM57 12h1v1h-1zM86 12h3v1h-3zM12 13h1v1h-1zM41 13h1v1h-1zM50 13h3v1h-3zM57 13h1v1h-1zM59 13h1v1h-1zM61 13h1v1h-1zM63 13h1v1h-1zM72 13h1v1h-1zM84 13h1v1h-1zM87 13h1v1h-1zM5 14h1v1h-1zM9 14h2v1h-2zM14 14h1v1h-1zM34 14h1v1h-1zM37 14h1v1h-1zM69 14h1v1h-1zM75 14h1v1h-1zM82 14h1v1h-1zM84 14h2v1h-2zM88 14h1v1h-1zM90 14h1v1h-1zM2 15h1v1h-1zM6 15h2v1h-2zM21 15h1v1h-1zM27 15h2v1h-2zM31 15h1v1h-1zM34 15h2v1h-2zM52 15h1v1h-1zM54 15h1v1h-1zM58 15h1v1h-1zM60 15h2v1h-2zM65 15h1v1h-1zM68 15h1v1h-1zM75 15h2v1h-2zM9 16h1v1h-1zM31 16h1v1h-1zM36 16h1v1h-1zM60 16h1v1h-1zM66 16h2v1h-2zM78 16h2v1h-2zM91 16h1v1h-1zM93 16h1v1h-1zM8 17h1v1h-1zM10 17h1v1h-1zM17 17h1v1h-1zM29 17h1v1h-1zM32 17h2v1h-2zM49 17h1v1h-1zM54 17h1v1h-1zM60 17h1v1h-1zM66 17h1v1h-1zM75 17h1v1h-1zM89 17h1v1h-1zM91 17h1v1h-1zM7 18h1v1h-1zM16 18h1v1h-1zM18 18h1v1h-1zM20 18h1v1h-1zM31 18h1v1h-1zM38 18h1v1h-1zM43 18h1v1h-1zM48 18h1v1h-1zM54 18h1v1h-1zM59 18h1v1h-1zM63 18h1v1h-1zM75 18h1v1h-1zM80 18h1v1h-1zM95 18h1v1h-1zM9 19h2v1h-2zM16 19h1v1h-1zM18 19h1v1h-1zM26 19h1v1h-1zM38 19h1v1h-1zM40 19h2v1h-2zM45 19h1v1h-1zM61 19h1v1h-1zM63 19h1v1h-1zM79 19h2v1h-2zM91 19h1v1h-1zM0 20h1v1h-1zM2 20h1v1h-1zM5 20h1v1h-1zM7 20h1v1h-1zM9 20h1v1h-1zM16 20h1v1h-1zM18 20h1v1h-1zM25 20h1v1h-1zM27 20h2v1h-2zM41 20h1v1h-1zM45 20h2v1h-2zM55 20h1v1h-1zM64 20h1v1h-1zM67 20h1v1h-1zM74 20h3v1h-3zM82 20h3v1h-3zM88 20h1v1h-1zM91 20h1v1h-1zM0 21h2v1h-2zM3 21h2v1h-2zM8 21h1v1h-1zM15 21h1v1h-1zM19 21h1v1h-1zM24 21h1v1h-1zM33 21h2v1h-2zM41 21h1v1h-1zM43 21h2v1h-2zM76 21h1v1h-1zM78 21h1v1h-1zM87 21h1v1h-1zM6 22h1v1h-1zM9 22h1v1h-1zM15 22h1v1h-1zM23 22h1v1h-1zM32 22h2v1h-2zM36 22h1v1h-1zM46 22h1v1h-1zM48 22h1v1h-1zM51 22h3v1h-3zM72 22h1v1h-1zM75 22h1v1h-1zM78 22h1v1h-1zM83 22h2v1h-2zM90 22h1v1h-1zM95 22h1v1h-1zM0 23h1v1h-1zM4 23h1v1h-1zM8 23h1v1h-1zM11 23h1v1h-1zM14 23h2v1h-2zM22 23h2v1h-2zM28 23h1v1h-1zM33 23h1v1h-1zM41 23h1v1h-1zM50 23h2v1h-2zM53 23h1v1h-1zM56 23h1v1h-1zM69 23h1v1h-1zM73 23h2v1h-2zM84 23h1v1h-1zM90 23h1v1h-1zM5 24h2v1h-2zM9 24h1v1h-1zM27 24h1v1h-1zM41 24h1v1h-1zM57 24h1v1h-1zM68 24h1v1h-1zM75 24h2v1h-2zM83 24h2v1h-2zM87 24h1v1h-1zM90 24h1v1h-1zM16 25h2v1h-2zM23 25h1v1h-1zM25 25h1v1h-1zM33 25h3v1h-3zM40 25h1v1h-1zM43 25h1v1h-1zM45 25h3v1h-3zM56 25h1v1h-1zM67 25h1v1h-1zM69 25h1v1h-1zM72 25h2v1h-2zM83 25h1v1h-1zM91 25h3v1h-3zM5 26h1v1h-1zM7 26h1v1h-1zM13 26h1v1h-1zM33 26h2v1h-2zM45 26h1v1h-1zM47 26h2v1h-2zM52 26h1v1h-1zM54 26h1v1h-1zM70 26h1v1h-1zM72 26h2v1h-2zM88 26h2v1h-2zM95 26h1v1h-1zM2 27h2v1h-2zM25 27h1v1h-1zM27 27h2v1h-2zM36 27h1v1h-1zM42 27h1v1h-1zM47 27h1v1h-1zM70 27h2v1h-2zM73 27h1v1h-1zM75 27h1v1h-1zM95 27h1v1h-1zM1 28h1v1h-1zM12 28h1v1h-1zM14 28h1v1h-1zM16 28h1v1h-1zM20 28h1v1h-1zM25 28h2v1h-2zM34 28h1v1h-1zM57 28h1v1h-1zM61 28h1v1h-1zM70 28h1v1h-1zM75 28h2v1h-2zM84 28h1v1h-1zM1 29h1v1h-1zM3 29h2v1h-2zM14 29h2v1h-2zM20 29h1v1h-1zM26 29h1v1h-1zM28 29h1v1h-1zM34 29h1v1h-1zM45 29h1v1h-1zM48 29h1v1h-1zM60 29h1v1h-1zM62 29h1v1h-1zM64 29h2v1h-2zM72 29h3v1h-3zM86 29h2v1h-2zM0 30h2v1h-2zM5 30h1v1h-1zM8 30h1v1h-1zM10 30h1v1h-1zM14 30h2v1h-2zM21 30h1v1h-1zM28 30h1v1h-1zM37 30h1v1h-1zM43 30h1v1h-1zM45 30h1v1h-1zM58 30h2v1h-2zM61 30h2v1h-2zM72 30h1v1h-1zM74 30h1v1h-1zM81 30h1v1h-1zM0 31h1v1h-1zM11 31h2v1h-2zM30 31h1v1h-1zM34 31h1v1h-1zM42 31h2v1h-2zM45 31h1v1h-1zM51 31h1v1h-1zM68 31h1v1h-1zM72 31h1v1h-1zM82 31h1v1h-1zM1 32h1v1h-1zM13 32h1v1h-1zM26 32h2v1h-2zM34 32h1v1h-1zM38 32h1v1h-1zM43 32h1v1h-1zM50 32h1v1h-1zM70 32h1v1h-1zM75 32h1v1h-1zM5 33h1v1h-1zM20 33h1v1h-1zM26 33h1v1h-1zM31 33h2v1h-2zM38 33h1v1h-1zM41 33h1v1h-1zM62 33h2v1h-2zM70 33h1v1h-1zM0 34h1v1h-1zM7 34h1v1h-1zM13 34h1v1h-1zM19 34h1v1h-1zM22 34h2v1h-2zM31 34h3v1h-3zM43 34h1v1h-1zM46 34h1v1h-1zM52 34h2v1h-2zM64 34h1v1h-1zM68 34h1v1h-1zM72 34h1v1h-1zM74 34h1v1h-1zM3 35h1v1h-1zM9 35h1v1h-1zM12 35h1v1h-1zM15 35h1v1h-1zM18 35h1v1h-1zM26 35h1v1h-1zM30 35h1v1h-1zM43 35h1v1h-1zM49 35h1v1h-1zM56 35h2v1h-2zM4 36h1v1h-1zM12 36h1v1h-1zM17 36h1v1h-1zM25 36h1v1h-1zM44 36h1v1h-1zM55 36h2v1h-2zM10 37h1v1h-1zM25 37h1v1h-1zM43 37h2v1h-2zM46 37h1v1h-1zM54 37h2v1h-2zM58 37h1v1h-1zM17 38h1v1h-1zM52 38h1v1h-1zM56 38h1v1h-1zM60 38h2v1h-2zM64 38h1v1h-1zM4 39h1v1h-1zM7 39h1v1h-1zM18 39h1v1h-1zM48 39h1v1h-1zM58 39h1v1h-1zM1 40h1v1h-1zM47 40h1v1h-1zM56 40h1v1h-1zM0 41h2v1h-2zM3 41h1v1h-1zM47 41h1v1h-1zM51 41h2v1h-2zM55 41h1v1h-1zM58 41h1v1h-1zM0 42h3v1h-3zM19 42h1v1h-1zM50 42h1v1h-1zM52 42h1v1h-1zM0 43h1v1h-1zM2 43h1v1h-1zM5 43h2v1h-2zM54 43h1v1h-1zM0 44h1v1h-1zM3 44h2v1h-2zM49 44h1v1h-1zM51 44h1v1h-1zM54 44h1v1h-1zM0 45h1v1h-1zM5 45h1v1h-1zM54 45h1v1h-1zM56 45h1v1h-1zM59 45h1v1h-1zM87 45h2v1h-2zM3 46h1v1h-1zM5 46h1v1h-1zM47 46h1v1h-1zM50 46h1v1h-1zM52 46h1v1h-1zM60 46h1v1h-1zM62 46h1v1h-1zM3 47h2v1h-2zM7 47h1v1h-1zM49 47h2v1h-2zM59 47h1v1h-1zM62 47h1v1h-1zM72 47h3v1h-3zM79 47h1v1h-1zM83 47h1v1h-1zM86 47h1v1h-1zM89 47h1v1h-1zM91 47h1v1h-1zM1 48h2v1h-2zM8 48h1v1h-1zM60 48h2v1h-2zM71 48h1v1h-1zM78 48h1v1h-1zM86 48h1v1h-1zM91 48h1v1h-1zM3 49h2v1h-2zM64 49h1v1h-1zM73 49h1v1h-1zM77 49h1v1h-1zM81 49h1v1h-1zM94 49h1v1h-1zM0 50h2v1h-2zM5 50h1v1h-1zM47 50h1v1h-1zM53 50h2v1h-2zM69 50h2v1h-2zM73 50h3v1h-3zM77 50h1v1h-1zM83 50h1v1h-1zM95 50h1v1h-1zM5 51h1v1h-1zM49 51h1v1h-1zM51 51h2v1h-2zM66 51h1v1h-1zM68 51h1v1h-1zM71 51h1v1h-1zM74 51h1v1h-1zM78 51h1v1h-1zM80 51h1v1h-1zM82 51h2v1h-2zM4 52h1v1h-1zM7 52h1v1h-1zM48 52h2v1h-2zM52 52h1v1h-1zM63 52h1v1h-1zM73 52h1v1h-1zM76 52h1v1h-1zM78 52h1v1h-1zM83 52h1v1h-1zM91 52h1v1h-1zM1 53h1v1h-1zM48 53h1v1h-1zM59 53h1v1h-1zM70 53h2v1h-2zM83 53h1v1h-1zM85 53h1v1h-1zM89 53h1v1h-1zM92 53h1v1h-1zM5 54h3v1h-3zM48 54h1v1h-1zM51 54h2v1h-2zM54 54h1v1h-1zM75 54h1v1h-1zM87 54h1v1h-1zM93 54h1v1h-1zM7 55h1v1h-1zM10 55h1v1h-1zM47 55h1v1h-1zM50 55h1v1h-1zM52 55h1v1h-1zM62 55h1v1h-1zM66 55h1v1h-1zM68 55h1v1h-1zM87 55h2v1h-2zM92 55h2v1h-2zM95 55h1v1h-1zM0 56h1v1h-1zM4 56h1v1h-1zM6 56h1v1h-1zM11 56h1v1h-1zM16 56h1v1h-1zM49 56h1v1h-1zM64 56h1v1h-1zM67 56h1v1h-1zM73 56h1v1h-1zM81 56h5v1h-5zM91 56h2v1h-2zM96 56h1v1h-1zM2 57h1v1h-1zM9 57h1v1h-1zM19 57h1v1h-1zM72 57h1v1h-1zM80 57h1v1h-1zM86 57h3v1h-3zM92 57h1v1h-1zM96 57h1v1h-1zM7 58h1v1h-1zM16 58h1v1h-1zM47 58h1v1h-1zM62 58h1v1h-1zM75 58h1v1h-1zM77 58h1v1h-1zM81 58h4v1h-4zM86 58h2v1h-2zM2 59h2v1h-2zM5 59h1v1h-1zM13 59h1v1h-1zM48 59h1v1h-1zM65 59h1v1h-1zM68 59h1v1h-1zM70 59h1v1h-1zM75 59h1v1h-1zM79 59h1v1h-1zM81 59h2v1h-2zM90 59h2v1h-2zM93 59h1v1h-1zM96 59h1v1h-1zM2 60h1v1h-1zM56 60h2v1h-2zM60 60h1v1h-1zM67 60h1v1h-1zM78 60h1v1h-1zM80 60h1v1h-1zM83 60h1v1h-1zM88 60h2v1h-2zM93 60h1v1h-1zM95 60h2v1h-2zM2 61h1v1h-1zM9 61h1v1h-1zM13 61h1v1h-1zM59 61h1v1h-1zM62 61h1v1h-1zM67 61h1v1h-1zM76 61h3v1h-3zM80 61h2v1h-2zM87 61h2v1h-2zM92 61h1v1h-1zM95 61h1v1h-1zM6 62h1v1h-1zM70 62h2v1h-2zM75 62h1v1h-1zM82 62h1v1h-1zM84 62h1v1h-1zM87 62h2v1h-2zM90 62h2v1h-2zM95 62h1v1h-1zM8 63h1v1h-1zM13 63h1v1h-1zM33 63h1v1h-1zM60 63h1v1h-1zM66 63h1v1h-1zM83 63h1v1h-1zM92 63h1v1h-1zM94 63h1v1h-1zM9 64h1v1h-1zM57 64h1v1h-1zM76 64h2v1h-2zM87 64h2v1h-2zM96 64h1v1h-1zM11 65h1v1h-1zM31 65h1v1h-1zM55 65h2v1h-2zM71 65h1v1h-1zM73 65h1v1h-1zM86 65h1v1h-1zM89 65h1v1h-1zM91 65h1v1h-1zM6 66h1v1h-1zM13 66h1v1h-1zM18 66h1v1h-1zM27 66h1v1h-1zM30 66h1v1h-1zM47 66h1v1h-1zM54 66h1v1h-1zM57 66h2v1h-2zM63 66h2v1h-2zM71 66h1v1h-1zM74 66h1v1h-1zM79 66h2v1h-2zM83 66h2v1h-2zM86 66h1v1h-1zM88 66h1v1h-1zM90 66h1v1h-1zM96 66h1v1h-1zM6 67h1v1h-1zM19 67h1v1h-1zM38 67h1v1h-1zM54 67h1v1h-1zM56 67h1v1h-1zM62 67h2v1h-2zM70 67h1v1h-1zM72 67h1v1h-1zM74 67h2v1h-2zM80 67h1v1h-1zM83 67h2v1h-2zM8 68h1v1h-1zM12 68h1v1h-1zM18 68h1v1h-1zM22 68h1v1h-1zM25 68h1v1h-1zM50 68h2v1h-2zM56 68h3v1h-3zM64 68h1v1h-1zM77 68h1v1h-1zM79 68h1v1h-1zM82 68h1v1h-1zM87 68h1v1h-1zM92 68h1v1h-1zM1 69h1v1h-1zM4 69h1v1h-1zM8 69h1v1h-1zM28 69h1v1h-1zM45 69h1v1h-1zM50 69h1v1h-1zM52 69h1v1h-1zM62 69h2v1h-2zM83 69h2v1h-2zM86 69h1v1h-1zM91 69h1v1h-1zM6 70h1v1h-1zM9 70h4v1h-4zM30 70h1v1h-1zM33 70h1v1h-1zM60 70h1v1h-1zM67 70h2v1h-2zM82 70h1v1h-1zM84 70h1v1h-1zM88 70h1v1h-1zM1 71h2v1h-2zM10 71h1v1h-1zM14 71h1v1h-1zM16 71h1v1h-1zM25 71h2v1h-2zM33 71h1v1h-1zM57 71h4v1h-4zM75 71h1v1h-1zM0 72h1v1h-1zM3 72h1v1h-1zM8 72h1v1h-1zM10 72h1v1h-1zM15 72h2v1h-2zM19 72h1v1h-1zM21 72h4v1h-4zM46 72h1v1h-1zM50 72h1v1h-1zM52 72h1v1h-1zM59 72h3v1h-3zM87 72h1v1h-1zM92 72h1v1h-1zM8 73h4v1h-4zM15 73h1v1h-1zM50 73h1v1h-1zM54 73h1v1h-1zM57 73h1v1h-1zM69 73h1v1h-1zM72 73h1v1h-1zM76 73h1v1h-1zM78 73h2v1h-2zM85 73h1v1h-1zM89 73h1v1h-1zM92 73h1v1h-1zM0 74h1v1h-1zM8 74h1v1h-1zM50 74h1v1h-1zM52 74h1v1h-1zM55 74h1v1h-1zM61 74h1v1h-1zM67 74h1v1h-1zM76 74h3v1h-3zM81 74h2v1h-2zM86 74h3v1h-3zM91 74h1v1h-1zM2 75h1v1h-1zM8 75h1v1h-1zM12 75h1v1h-1zM18 75h1v1h-1zM56 75h1v1h-1zM63 75h1v1h-1zM66 75h1v1h-1zM68 75h1v1h-1zM70 75h1v1h-1zM85 75h1v1h-1zM87 75h2v1h-2zM96 75h1v1h-1zM0 76h1v1h-1zM8 76h1v1h-1zM11 76h1v1h-1zM32 76h1v1h-1zM45 76h1v1h-1zM47 76h1v1h-1zM49 76h1v1h-1zM51 76h1v1h-1zM53 76h1v1h-1zM59 76h1v1h-1zM75 76h1v1h-1zM77 76h1v1h-1zM79 76h3v1h-3zM84 76h1v1h-1zM5 77h1v1h-1zM8 77h2v1h-2zM11 77h1v1h-1zM13 77h3v1h-3zM17 77h1v1h-1zM34 77h1v1h-1zM36 77h1v1h-1zM38 77h1v1h-1zM42 77h1v1h-1zM44 77h1v1h-1zM46 77h2v1h-2zM49 77h1v1h-1zM55 77h3v1h-3zM60 77h1v1h-1zM67 77h1v1h-1zM83 77h1v1h-1zM91 77h1v1h-1zM2 78h1v1h-1zM7 78h1v1h-1zM13 78h2v1h-2zM24 78h2v1h-2zM27 78h1v1h-1zM30 78h1v1h-1zM33 78h1v1h-1zM40 78h1v1h-1zM47 78h1v1h-1zM49 78h1v1h-1zM55 78h1v1h-1zM57 78h1v1h-1zM72 78h1v1h-1zM78 78h1v1h-1zM82 78h1v1h-1zM84 78h1v1h-1zM0 79h1v1h-1zM5 79h1v1h-1zM12 79h1v1h-1zM18 79h2v1h-2zM28 79h1v1h-1zM32 79h1v1h-1zM48 79h1v1h-1zM54 79h4v1h-4zM61 79h3v1h-3zM71 79h1v1h-1zM74 79h1v1h-1zM79 79h2v1h-2zM82 79h1v1h-1zM84 79h1v1h-1zM95 79h2v1h-2zM0 80h1v1h-1zM5 80h1v1h-1zM15 80h2v1h-2zM23 80h2v1h-2zM30 80h2v1h-2zM33 80h1v1h-1zM41 80h2v1h-2zM45 80h1v1h-1zM47 80h1v1h-1zM49 80h1v1h-1zM60 80h1v1h-1zM67 80h1v1h-1zM70 80h2v1h-2zM80 80h1v1h-1zM85 80h1v1h-1zM90 80h1v1h-1zM92 80h2v1h-2zM96 80h1v1h-1zM1 81h2v1h-2zM6 81h1v1h-1zM17 81h1v1h-1zM24 81h2v1h-2zM30 81h1v1h-1zM32 81h1v1h-1zM38 81h1v1h-1zM43 81h1v1h-1zM45 81h1v1h-1zM47 81h1v1h-1zM51 81h1v1h-1zM58 81h1v1h-1zM60 81h1v1h-1zM82 81h1v1h-1zM85 81h1v1h-1zM92 81h1v1h-1zM6 82h1v1h-1zM9 82h1v1h-1zM25 82h1v1h-1zM32 82h1v1h-1zM34 82h1v1h-1zM37 82h1v1h-1zM41 82h2v1h-2zM44 82h1v1h-1zM48 82h1v1h-1zM58 82h1v1h-1zM66 82h2v1h-2zM69 82h1v1h-1zM74 82h1v1h-1zM78 82h1v1h-1zM80 82h1v1h-1zM7 83h1v1h-1zM19 83h1v1h-1zM31 83h2v1h-2zM35 83h1v1h-1zM39 83h1v1h-1zM41 83h1v1h-1zM45 83h5v1h-5zM60 83h1v1h-1zM70 83h1v1h-1zM72 83h1v1h-1zM74 83h1v1h-1zM81 83h1v1h-1zM85 83h1v1h-1zM88 83h1v1h-1zM93 83h1v1h-1zM95 83h2v1h-2zM3 84h1v1h-1zM12 84h2v1h-2zM19 84h1v1h-1zM25 84h1v1h-1zM30 84h1v1h-1zM35 84h1v1h-1zM44 84h1v1h-1zM49 84h3v1h-3zM74 84h1v1h-1zM81 84h2v1h-2zM84 84h2v1h-2zM90 84h1v1h-1zM93 84h2v1h-2zM6 85h1v1h-1zM20 85h2v1h-2zM25 85h1v1h-1zM30 85h1v1h-1zM32 85h1v1h-1zM37 85h1v1h-1zM44 85h1v1h-1zM49 85h1v1h-1zM53 85h1v1h-1zM62 85h2v1h-2zM71 85h1v1h-1zM73 85h1v1h-1zM84 85h1v1h-1zM0 86h1v1h-1zM5 86h1v1h-1zM11 86h1v1h-1zM38 86h2v1h-2zM41 86h1v1h-1zM55 86h2v1h-2zM58 86h2v1h-2zM61 86h1v1h-1zM64 86h1v1h-1zM70 86h2v1h-2zM84 86h1v1h-1zM3 87h1v1h-1zM5 87h2v1h-2zM17 87h1v1h-1zM22 87h1v1h-1zM24 87h1v1h-1zM38 87h3v1h-3zM48 87h1v1h-1zM55 87h1v1h-1zM58 87h1v1h-1zM60 87h2v1h-2zM63 87h1v1h-1zM65 87h1v1h-1zM70 87h1v1h-1zM72 87h1v1h-1zM75 87h1v1h-1zM78 87h1v1h-1zM83 87h1v1h-1zM86 87h1v1h-1zM88 87h1v1h-1zM2 88h2v1h-2zM7 88h1v1h-1zM19 88h1v1h-1zM34 88h1v1h-1zM42 88h1v1h-1zM44 88h1v1h-1zM48 88h1v1h-1zM58 88h1v1h-1zM60 88h1v1h-1zM62 88h2v1h-2zM68 88h1v1h-1zM71 88h2v1h-2zM76 88h1v1h-1zM79 88h2v1h-2zM83 88h2v1h-2zM89 88h1v1h-1zM91 88h1v1h-1zM93 88h1v1h-1zM7 89h1v1h-1zM16 89h1v1h-1zM23 89h6v1h-6zM31 89h3v1h-3zM35 89h1v1h-1zM40 89h1v1h-1zM44 89h1v1h-1zM66 89h1v1h-1zM69 89h1v1h-1zM76 89h1v1h-1zM80 89h1v1h-1zM84 89h1v1h-1zM87 89h1v1h-1zM89 89h1v1h-1zM27 90h1v1h-1zM31 90h1v1h-1zM39 90h2v1h-2zM43 90h1v1h-1zM47 90h1v1h-1zM63 90h1v1h-1zM70 90h1v1h-1zM73 90h1v1h-1zM75 90h1v1h-1zM77 90h2v1h-2zM86 90h2v1h-2zM90 90h2v1h-2zM12 91h1v1h-1zM14 91h1v1h-1zM26 91h1v1h-1zM32 91h1v1h-1zM34 91h2v1h-2zM38 91h1v1h-1zM40 91h1v1h-1zM44 91h1v1h-1zM52 91h1v1h-1zM54 91h3v1h-3zM69 91h1v1h-1zM75 91h2v1h-2zM89 91h1v1h-1zM92 91h1v1h-1zM5 92h1v1h-1zM7 92h1v1h-1zM15 92h1v1h-1zM17 92h1v1h-1zM27 92h1v1h-1zM34 92h1v1h-1zM36 92h1v1h-1zM39 92h1v1h-1zM46 92h1v1h-1zM71 92h1v1h-1zM73 92h1v1h-1zM76 92h1v1h-1zM83 92h1v1h-1zM88 92h1v1h-1zM27 93h1v1h-1zM31 93h1v1h-1zM38 93h1v1h-1zM60 93h1v1h-1zM68 93h1v1h-1zM72 93h1v1h-1zM75 93h1v1h-1zM82 93h2v1h-2zM86 93h2v1h-2zM92 93h1v1h-1zM95 93h1v1h-1zM8 94h1v1h-1zM17 94h1v1h-1zM22 94h1v1h-1zM33 94h1v1h-1zM36 94h1v1h-1zM40 94h1v1h-1zM44 94h2v1h-2zM50 94h1v1h-1zM55 94h1v1h-1zM61 94h1v1h-1zM63 94h1v1h-1zM67 94h1v1h-1zM69 94h1v1h-1zM77 94h3v1h-3zM89 94h1v1h-1zM92 94h1v1h-1zM94 94h1v1h-1zM18 95h1v1h-1zM26 95h1v1h-1zM42 95h1v1h-1zM46 95h1v1h-1zM48 95h1v1h-1zM50 95h1v1h-1zM54 95h1v1h-1zM60 95h1v1h-1zM62 95h1v1h-1zM78 95h1v1h-1zM83 95h1v1h-1zM85 95h2v1h-2zM91 95h1v1h-1zM7 96h2v1h-2zM22 96h1v1h-1zM31 96h1v1h-1zM35 96h1v1h-1zM37 96h1v1h-1zM39 96h1v1h-1zM44 96h1v1h-1zM46 96h1v1h-1zM54 96h1v1h-1zM56 96h1v1h-1zM80 96h1v1h-1zM88 96h4v1h-4zM93 96h2v1h-2z"/>
<path fill="rgb(24,24,24)" d="M24 0h2v1h-2zM49 0h1v1h-1zM52 0h1v1h-1zM65 0h1v1h-1zM70 0h1v1h-1zM72 0h1v1h-1zM74 0h1v1h-1zM78 0h1v1h-1zM52 1h1v1h-1zM73 1h1v1h-1zM75 1h2v1h-2zM88 1h1v1h-1zM93 1h1v1h-1zM10 2h1v1h-1zM28 2h1v1h-1zM49 2h1v1h-1zM58 2h1v1h-1zM75 2h1v1h-1zM14 3h2v1h-2zM18 3h1v1h-1zM29 3h1v1h-1zM48 3h2v1h-2zM57 3h1v1h-1zM80 3h1v1h-1zM10 4h1v1h-1zM12 4h1v1h-1zM44 4h1v1h-1zM78 4h1v1h-1zM80 4h1v1h-1zM3 5h1v1h-1zM6 5h2v1h-2zM27 5h1v1h-1zM29 5h1v1h-1zM45 5h1v1h-1zM63 5h1v1h-1zM69 5h1v1h-1zM76 5h1v1h-1zM80 5h1v1h-1zM4 6h2v1h-2zM8 6h1v1h-1zM18 6h1v1h-1zM35 6h1v1h-1zM46 6h1v1h-1zM50 6h1v1h-1zM53 6h1v1h-1zM62 6h3v1h-3zM76 6h1v1h-1zM78 6h1v1h-1zM4 7h2v1h-2zM7 7h1v1h-1zM21 7h1v1h-1zM23 7h1v1h-1zM27 7h1v1h-1zM33 7h4v1h-4zM47 7h1v1h-1zM49 7h1v1h-1zM53 7h1v1h-1zM59 7h1v1h-1zM61 7h1v1h-1zM87 7h1v1h-1zM91 7h1v1h-1zM7 8h2v1h-2zM15 8h1v1h-1zM17 8h1v1h-1zM31 8h1v1h-1zM35 8h1v1h-1zM40 8h1v1h-1zM50 8h1v1h-1zM61 8h1v1h-1zM68 8h1v1h-1zM85 8h1v1h-1zM1 9h1v1h-1zM6 9h1v1h-1zM13 9h1v1h-1zM15 9h3v1h-3zM19 9h1v1h-1zM31 9h2v1h-2zM37 9h1v1h-1zM62 9h1v1h-1zM65 9h1v1h-1zM67 9h1v1h-1zM87 9h2v1h-2zM1 10h4v1h-4zM13 10h1v1h-1zM25 10h1v1h-1zM35 10h2v1h-2zM41 10h1v1h-1zM62 10h1v1h-1zM64 10h1v1h-1zM86 10h1v1h-1zM12 11h2v1h-2zM25 11h1v1h-1zM33 11h3v1h-3zM37 11h1v1h-1zM62 11h1v1h-1zM82 11h1v1h-1zM85 11h2v1h-2zM5 12h3v1h-3zM14 12h1v1h-1zM25 12h1v1h-1zM35 12h1v1h-1zM42 12h1v1h-1zM80 12h1v1h-1zM84 12h2v1h-2zM92 12h1v1h-1zM5 13h2v1h-2zM14 13h2v1h-2zM35 13h1v1h-1zM65 13h1v1h-1zM89 13h1v1h-1zM4 14h1v1h-1zM6 14h2v1h-2zM24 14h1v1h-1zM35 14h2v1h-2zM51 14h1v1h-1zM63 14h2v1h-2zM66 14h1v1h-1zM81 14h1v1h-1zM89 14h1v1h-1zM4 15h2v1h-2zM9 15h1v1h-1zM26 15h1v1h-1zM50 15h1v1h-1zM74 15h1v1h-1zM78 15h1v1h-1zM88 15h1v1h-1zM4 16h2v1h-2zM30 16h1v1h-1zM32 16h1v1h-1zM34 16h1v1h-1zM58 16h1v1h-1zM64 16h1v1h-1zM77 16h1v1h-1zM89 16h2v1h-2zM1 17h1v1h-1zM3 17h2v1h-2zM27 17h2v1h-2zM30 17h1v1h-1zM77 17h2v1h-2zM80 17h1v1h-1zM92 17h1v1h-1zM3 18h1v1h-1zM5 18h1v1h-1zM17 18h1v1h-1zM26 18h1v1h-1zM47 18h1v1h-1zM74 18h1v1h-1zM76 18h1v1h-1zM78 18h1v1h-1zM89 18h3v1h-3zM0 19h1v1h-1zM8 19h1v1h-1zM17 19h1v1h-1zM33 19h1v1h-1zM39 19h1v1h-1zM42 19h1v1h-1zM44 19h1v1h-1zM77 19h2v1h-2zM83 19h1v1h-1zM1 20h1v1h-1zM8 20h1v1h-1zM10 20h1v1h-1zM15 20h1v1h-1zM17 20h1v1h-1zM24 20h1v1h-1zM26 20h1v1h-1zM29 20h1v1h-1zM32 20h1v1h-1zM43 20h1v1h-1zM58 20h1v1h-1zM78 20h2v1h-2zM81 20h1v1h-1zM89 20h2v1h-2zM96 20h1v1h-1zM7 21h1v1h-1zM14 21h1v1h-1zM31 21h1v1h-1zM36 21h1v1h-1zM82 21h2v1h-2zM85 21h1v1h-1zM16 22h1v1h-1zM24 22h2v1h-2zM28 22h1v1h-1zM39 22h1v1h-1zM50 22h1v1h-1zM74 22h1v1h-1zM81 22h1v1h-1zM87 22h1v1h-1zM89 22h1v1h-1zM96 22h1v1h-1zM2 23h1v1h-1zM5 23h1v1h-1zM16 23h1v1h-1zM27 23h1v1h-1zM36 23h1v1h-1zM47 23h1v1h-1zM67 23h1v1h-1zM80 23h1v1h-1zM83 23h1v1h-1zM85 23h2v1h-2zM88 23h1v1h-1zM1 24h1v1h-1zM23 24h1v1h-1zM47 24h1v1h-1zM74 24h1v1h-1zM81 24h1v1h-1zM86 24h1v1h-1zM88 24h1v1h-1zM2 25h1v1h-1zM37 25h1v1h-1zM44 25h1v1h-1zM68 25h1v1h-1zM87 25h1v1h-1zM90 25h1v1h-1zM0 26h1v1h-1zM3 26h1v1h-1zM10 26h1v1h-1zM15 26h1v1h-1zM36 26h1v1h-1zM40 26h1v1h-1zM50 26h1v1h-1zM69 26h1v1h-1zM86 26h2v1h-2zM91 26h3v1h-3zM1 27h1v1h-1zM9 27h1v1h-1zM11 27h3v1h-3zM17 27h1v1h-1zM33 27h1v1h-1zM39 27h2v1h-2zM44 27h1v1h-1zM51 27h1v1h-1zM69 27h1v1h-1zM72 27h1v1h-1zM74 27h1v1h-1zM88 27h3v1h-3zM2 28h1v1h-1zM5 28h1v1h-1zM8 28h1v1h-1zM17 28h3v1h-3zM28 28h1v1h-1zM32 28h1v1h-1zM43 28h2v1h-2zM46 28h1v1h-1zM54 28h2v1h-2zM60 28h1v1h-1zM62 28h1v1h-1zM74 28h1v1h-1zM77 28h2v1h-2zM85 28h4v1h-4zM0 29h1v1h-1zM2 29h1v1h-1zM5 29h1v1h-1zM8 29h1v1h-1zM11 29h2v1h-2zM19 29h1v1h-1zM23 29h1v1h-1zM37 29h3v1h-3zM43 29h1v1h-1zM49 29h1v1h-1zM61 29h1v1h-1zM66 29h2v1h-2zM75 29h1v1h-1zM83 29h1v1h-1zM85 29h1v1h-1zM7 30h1v1h-1zM9 30h1v1h-1zM12 30h2v1h-2zM18 30h1v1h-1zM20 30h1v1h-1zM27 30h1v1h-1zM30 30h2v1h-2zM33 30h1v1h-1zM47 30h1v1h-1zM68 30h1v1h-1zM73 30h1v1h-1zM84 30h1v1h-1zM86 30h1v1h-1zM1 31h2v1h-2zM4 31h1v1h-1zM14 31h1v1h-1zM20 31h1v1h-1zM25 31h1v1h-1zM27 31h1v1h-1zM29 31h1v1h-1zM32 31h1v1h-1zM47 31h1v1h-1zM74 31h2v1h-2zM2 32h1v1h-1zM4 32h1v1h-1zM17 32h1v1h-1zM33 32h1v1h-1zM37 32h1v1h-1zM40 32h1v1h-1zM42 32h1v1h-1zM46 32h1v1h-1zM52 32h1v1h-1zM73 32h1v1h-1zM0 33h1v1h-1zM2 33h1v1h-1zM13 33h1v1h-1zM22 33h1v1h-1zM25 33h1v1h-1zM29 33h1v1h-1zM33 33h3v1h-3zM42 33h1v1h-1zM51 33h1v1h-1zM71 33h4v1h-4zM3 34h4v1h-4zM9 34h1v1h-1zM30 34h1v1h-1zM35 34h1v1h-1zM42 34h1v1h-1zM47 34h1v1h-1zM10 35h1v1h-1zM23 35h1v1h-1zM46 35h2v1h-2zM52 35h1v1h-1zM64 35h1v1h-1zM67 35h2v1h-2zM14 36h1v1h-1zM32 36h1v1h-1zM47 36h1v1h-1zM66 36h1v1h-1zM7 37h2v1h-2zM15 37h3v1h-3zM53 37h1v1h-1zM63 37h1v1h-1zM66 37h1v1h-1zM5 38h1v1h-1zM12 38h2v1h-2zM15 38h1v1h-1zM26 38h1v1h-1zM47 38h1v1h-1zM53 38h2v1h-2zM63 38h1v1h-1zM19 39h1v1h-1zM45 39h1v1h-1zM49 39h1v1h-1zM52 39h1v1h-1zM56 39h1v1h-1zM59 39h1v1h-1zM2 40h2v1h-2zM16 40h1v1h-1zM51 40h1v1h-1zM53 40h1v1h-1zM57 40h1v1h-1zM53 41h1v1h-1zM59 41h1v1h-1zM3 42h1v1h-1zM6 42h2v1h-2zM9 42h1v1h-1zM47 42h1v1h-1zM51 42h1v1h-1zM54 42h2v1h-2zM59 42h1v1h-1zM1 43h1v1h-1zM4 43h1v1h-1zM9 43h1v1h-1zM52 43h1v1h-1zM2 44h1v1h-1zM7 44h1v1h-1zM50 44h1v1h-1zM52 44h1v1h-1zM59 44h2v1h-2zM96 44h1v1h-1zM1 45h2v1h-2zM4 45h1v1h-1zM7 45h1v1h-1zM47 45h4v1h-4zM89 45h1v1h-1zM96 45h1v1h-1zM6 46h1v1h-1zM51 46h1v1h-1zM87 46h1v1h-1zM89 46h2v1h-2zM95 46h1v1h-1zM48 47h1v1h-1zM60 47h1v1h-1zM84 47h1v1h-1zM5 48h1v1h-1zM47 48h1v1h-1zM63 48h1v1h-1zM72 48h1v1h-1zM76 48h1v1h-1zM81 48h3v1h-3zM93 48h1v1h-1zM0 49h2v1h-2zM72 49h1v1h-1zM78 49h1v1h-1zM84 49h1v1h-1zM91 49h1v1h-1zM96 49h1v1h-1zM3 50h1v1h-1zM6 50h1v1h-1zM71 50h1v1h-1zM78 50h1v1h-1zM81 50h1v1h-1zM84 50h1v1h-1zM54 51h1v1h-1zM56 51h1v1h-1zM65 51h1v1h-1zM67 51h1v1h-1zM79 51h1v1h-1zM1 52h1v1h-1zM5 52h1v1h-1zM8 52h1v1h-1zM51 52h1v1h-1zM57 52h2v1h-2zM89 52h2v1h-2zM3 53h4v1h-4zM8 53h1v1h-1zM49 53h1v1h-1zM52 53h1v1h-1zM73 53h2v1h-2zM2 54h1v1h-1zM4 54h1v1h-1zM8 54h2v1h-2zM61 54h1v1h-1zM70 54h5v1h-5zM82 54h1v1h-1zM84 54h1v1h-1zM89 54h2v1h-2zM96 54h1v1h-1zM0 55h1v1h-1zM3 55h1v1h-1zM14 55h2v1h-2zM49 55h1v1h-1zM69 55h1v1h-1zM2 56h1v1h-1zM13 56h1v1h-1zM47 56h1v1h-1zM52 56h1v1h-1zM62 56h2v1h-2zM65 56h1v1h-1zM68 56h1v1h-1zM71 56h2v1h-2zM78 56h1v1h-1zM86 56h1v1h-1zM88 56h1v1h-1zM3 57h1v1h-1zM5 57h2v1h-2zM11 57h2v1h-2zM15 57h1v1h-1zM18 57h1v1h-1zM61 57h1v1h-1zM63 57h2v1h-2zM66 57h1v1h-1zM69 57h1v1h-1zM94 57h2v1h-2zM5 58h1v1h-1zM10 58h1v1h-1zM15 58h1v1h-1zM64 58h1v1h-1zM85 58h1v1h-1zM91 58h2v1h-2zM6 59h1v1h-1zM9 59h3v1h-3zM15 59h1v1h-1zM71 59h1v1h-1zM80 59h1v1h-1zM83 59h1v1h-1zM85 59h1v1h-1zM94 59h1v1h-1zM10 60h1v1h-1zM13 60h1v1h-1zM15 60h2v1h-2zM46 60h1v1h-1zM61 60h1v1h-1zM65 60h1v1h-1zM70 60h2v1h-2zM5 61h1v1h-1zM10 61h2v1h-2zM14 61h1v1h-1zM56 61h1v1h-1zM60 61h1v1h-1zM63 61h1v1h-1zM65 61h2v1h-2zM69 61h1v1h-1zM72 61h1v1h-1zM91 61h1v1h-1zM93 61h1v1h-1zM10 62h1v1h-1zM56 62h1v1h-1zM59 62h2v1h-2zM62 62h3v1h-3zM67 62h1v1h-1zM76 62h2v1h-2zM86 62h1v1h-1zM92 62h1v1h-1zM94 62h1v1h-1zM9 63h1v1h-1zM65 63h1v1h-1zM69 63h2v1h-2zM74 63h1v1h-1zM89 63h1v1h-1zM93 63h1v1h-1zM7 64h1v1h-1zM12 64h3v1h-3zM29 64h1v1h-1zM33 64h1v1h-1zM91 64h1v1h-1zM93 64h3v1h-3zM0 65h1v1h-1zM7 65h1v1h-1zM13 65h1v1h-1zM21 65h1v1h-1zM28 65h1v1h-1zM33 65h1v1h-1zM64 65h3v1h-3zM69 65h1v1h-1zM72 65h1v1h-1zM87 65h1v1h-1zM94 65h2v1h-2zM8 66h2v1h-2zM11 66h2v1h-2zM19 66h1v1h-1zM22 66h2v1h-2zM37 66h1v1h-1zM55 66h1v1h-1zM60 66h1v1h-1zM65 66h1v1h-1zM68 66h3v1h-3zM72 66h1v1h-1zM78 66h1v1h-1zM93 66h1v1h-1zM5 67h1v1h-1zM7 67h1v1h-1zM9 67h2v1h-2zM23 67h1v1h-1zM32 67h2v1h-2zM37 67h1v1h-1zM46 67h1v1h-1zM55 67h1v1h-1zM60 67h1v1h-1zM73 67h1v1h-1zM89 67h1v1h-1zM95 67h1v1h-1zM23 68h1v1h-1zM30 68h1v1h-1zM45 68h2v1h-2zM52 68h2v1h-2zM55 68h1v1h-1zM62 68h1v1h-1zM70 68h1v1h-1zM72 68h5v1h-5zM81 68h1v1h-1zM84 68h2v1h-2zM90 68h1v1h-1zM9 69h1v1h-1zM11 69h2v1h-2zM14 69h1v1h-1zM25 69h1v1h-1zM29 69h1v1h-1zM44 69h1v1h-1zM53 69h1v1h-1zM58 69h3v1h-3zM69 69h1v1h-1zM77 69h1v1h-1zM79 69h1v1h-1zM85 69h1v1h-1zM88 69h1v1h-1zM26 70h1v1h-1zM46 70h1v1h-1zM53 70h1v1h-1zM62 70h1v1h-1zM65 70h1v1h-1zM70 70h1v1h-1zM74 70h1v1h-1zM79 70h1v1h-1zM90 70h1v1h-1zM27 71h1v1h-1zM43 71h1v1h-1zM45 71h2v1h-2zM53 71h1v1h-1zM61 71h3v1h-3zM69 71h2v1h-2zM73 71h1v1h-1zM80 71h1v1h-1zM83 71h1v1h-1zM89 71h1v1h-1zM18 72h1v1h-1zM44 72h1v1h-1zM53 72h1v1h-1zM62 72h2v1h-2zM72 72h2v1h-2zM77 72h2v1h-2zM83 72h2v1h-2zM89 72h1v1h-1zM16 73h1v1h-1zM18 73h1v1h-1zM45 73h2v1h-2zM53 73h1v1h-1zM56 73h1v1h-1zM59 73h1v1h-1zM66 73h1v1h-1zM73 73h1v1h-1zM75 73h1v1h-1zM80 73h2v1h-2zM87 73h1v1h-1zM91 73h1v1h-1zM1 74h1v1h-1zM7 74h1v1h-1zM18 74h1v1h-1zM56 74h1v1h-1zM63 74h1v1h-1zM68 74h1v1h-1zM70 74h2v1h-2zM73 74h3v1h-3zM79 74h2v1h-2zM83 74h1v1h-1zM7 75h1v1h-1zM9 75h1v1h-1zM43 75h1v1h-1zM45 75h1v1h-1zM49 75h1v1h-1zM57 75h1v1h-1zM64 75h1v1h-1zM67 75h1v1h-1zM71 75h1v1h-1zM78 75h2v1h-2zM81 75h2v1h-2zM90 75h1v1h-1zM35 76h2v1h-2zM44 76h1v1h-1zM46 76h1v1h-1zM57 76h1v1h-1zM63 76h2v1h-2zM68 76h2v1h-2zM82 76h1v1h-1zM86 76h2v1h-2zM94 76h1v1h-1zM96 76h1v1h-1zM18 77h1v1h-1zM25 77h1v1h-1zM31 77h1v1h-1zM45 77h1v1h-1zM48 77h1v1h-1zM50 77h1v1h-1zM53 77h2v1h-2zM64 77h1v1h-1zM72 77h1v1h-1zM87 77h1v1h-1zM90 77h1v1h-1zM94 77h1v1h-1zM96 77h1v1h-1zM0 78h1v1h-1zM10 78h2v1h-2zM22 78h1v1h-1zM29 78h1v1h-1zM31 78h1v1h-1zM34 78h1v1h-1zM36 78h1v1h-1zM38 78h1v1h-1zM41 78h1v1h-1zM46 78h1v1h-1zM51 78h2v1h-2zM54 78h1v1h-1zM61 78h1v1h-1zM63 78h1v1h-1zM95 78h1v1h-1zM16 79h1v1h-1zM26 79h1v1h-1zM29 79h2v1h-2zM34 79h1v1h-1zM39 79h2v1h-2zM42 79h1v1h-1zM47 79h1v1h-1zM52 79h2v1h-2zM64 79h2v1h-2zM67 79h1v1h-1zM83 79h1v1h-1zM85 79h1v1h-1zM89 79h1v1h-1zM92 79h1v1h-1zM6 80h1v1h-1zM22 80h1v1h-1zM25 80h1v1h-1zM27 80h1v1h-1zM34 80h1v1h-1zM38 80h1v1h-1zM40 80h1v1h-1zM46 80h1v1h-1zM58 80h1v1h-1zM64 80h2v1h-2zM73 80h2v1h-2zM81 80h1v1h-1zM83 80h1v1h-1zM86 80h1v1h-1zM27 81h1v1h-1zM31 81h1v1h-1zM33 81h1v1h-1zM39 81h2v1h-2zM42 81h1v1h-1zM44 81h1v1h-1zM46 81h1v1h-1zM49 81h2v1h-2zM54 81h1v1h-1zM59 81h1v1h-1zM63 81h2v1h-2zM69 81h2v1h-2zM73 81h1v1h-1zM80 81h2v1h-2zM3 82h1v1h-1zM10 82h1v1h-1zM31 82h1v1h-1zM36 82h1v1h-1zM40 82h1v1h-1zM45 82h1v1h-1zM50 82h2v1h-2zM64 82h1v1h-1zM68 82h1v1h-1zM73 82h1v1h-1zM75 82h1v1h-1zM82 82h2v1h-2zM85 82h1v1h-1zM87 82h1v1h-1zM93 82h2v1h-2zM1 83h2v1h-2zM4 83h1v1h-1zM8 83h2v1h-2zM12 83h1v1h-1zM25 83h1v1h-1zM36 83h1v1h-1zM50 83h1v1h-1zM56 83h1v1h-1zM65 83h1v1h-1zM67 83h3v1h-3zM73 83h1v1h-1zM82 83h2v1h-2zM4 84h1v1h-1zM36 84h1v1h-1zM40 84h2v1h-2zM43 84h1v1h-1zM46 84h2v1h-2zM53 84h1v1h-1zM56 84h1v1h-1zM65 84h1v1h-1zM72 84h1v1h-1zM95 84h1v1h-1zM1 85h1v1h-1zM4 85h1v1h-1zM7 85h2v1h-2zM28 85h1v1h-1zM36 85h1v1h-1zM38 85h1v1h-1zM40 85h2v1h-2zM43 85h1v1h-1zM47 85h1v1h-1zM58 85h1v1h-1zM64 85h2v1h-2zM74 85h1v1h-1zM92 85h1v1h-1zM3 86h1v1h-1zM9 86h1v1h-1zM12 86h1v1h-1zM17 86h1v1h-1zM19 86h1v1h-1zM26 86h1v1h-1zM28 86h1v1h-1zM40 86h1v1h-1zM47 86h2v1h-2zM65 86h1v1h-1zM73 86h2v1h-2zM91 86h2v1h-2zM7 87h1v1h-1zM10 87h1v1h-1zM18 87h1v1h-1zM25 87h1v1h-1zM35 87h1v1h-1zM42 87h1v1h-1zM64 87h1v1h-1zM69 87h1v1h-1zM76 87h1v1h-1zM1 88h1v1h-1zM25 88h1v1h-1zM35 88h1v1h-1zM38 88h1v1h-1zM56 88h1v1h-1zM64 88h1v1h-1zM67 88h1v1h-1zM69 88h1v1h-1zM73 88h3v1h-3zM85 88h1v1h-1zM2 89h1v1h-1zM47 89h1v1h-1zM65 89h1v1h-1zM67 89h2v1h-2zM71 89h4v1h-4zM79 89h1v1h-1zM82 89h2v1h-2zM88 89h1v1h-1zM56 90h1v1h-1zM68 90h1v1h-1zM72 90h1v1h-1zM74 90h1v1h-1zM88 90h1v1h-1zM7 91h1v1h-1zM15 91h1v1h-1zM27 91h1v1h-1zM30 91h1v1h-1zM45 91h1v1h-1zM47 91h1v1h-1zM63 91h1v1h-1zM68 91h1v1h-1zM71 91h1v1h-1zM85 91h1v1h-1zM90 91h1v1h-1zM95 91h1v1h-1zM6 92h1v1h-1zM25 92h1v1h-1zM32 92h1v1h-1zM37 92h1v1h-1zM41 92h1v1h-1zM44 92h1v1h-1zM50 92h1v1h-1zM63 92h1v1h-1zM66 92h1v1h-1zM74 92h2v1h-2zM5 93h1v1h-1zM16 93h1v1h-1zM25 93h1v1h-1zM37 93h1v1h-1zM39 93h2v1h-2zM44 93h1v1h-1zM74 93h1v1h-1zM76 93h1v1h-1zM84 93h1v1h-1zM91 93h1v1h-1zM94 93h1v1h-1zM7 94h1v1h-1zM15 94h2v1h-2zM25 94h1v1h-1zM41 94h3v1h-3zM70 94h1v1h-1zM86 94h1v1h-1zM88 94h1v1h-1zM7 95h1v1h-1zM16 95h2v1h-2zM25 95h1v1h-1zM34 95h1v1h-1zM36 95h1v1h-1zM39 95h3v1h-3zM43 95h1v1h-1zM51 95h1v1h-1zM66 95h1v1h-1zM69 95h2v1h-2zM73 95h1v1h-1zM82 95h1v1h-1zM88 95h1v1h-1zM90 95h1v1h-1zM24 96h1v1h-1zM26 96h1v1h-1zM33 96h2v1h-2zM48 96h1v1h-1zM62 96h2v1h-2zM72 96h1v1h-1zM78 96h2v1h-2z"/>
<path fill="rgb(27,27,27)" d="M56 0h1v1h-1zM71 0h1v1h-1zM23 1h1v1h-1zM64 1h2v1h-2zM72 1h1v1h-1zM26 2h1v1h-1zM57 2h1v1h-1zM64 2h2v1h-2zM79 2h1v1h-1zM10 3h1v1h-1zM46 3h1v1h-1zM56 3h1v1h-1zM15 4h1v1h-1zM46 4h2v1h-2zM55 4h1v1h-1zM75 4h1v1h-1zM28 5h1v1h-1zM33 5h1v1h-1zM49 5h1v1h-1zM57 5h1v1h-1zM64 5h1v1h-1zM90 5h1v1h-1zM6 6h2v1h-2zM10 6h2v1h-2zM27 6h1v1h-1zM45 6h1v1h-1zM47 6h2v1h-2zM54 6h1v1h-1zM61 6h1v1h-1zM79 6h1v1h-1zM11 7h1v1h-1zM6 8h1v1h-1zM9 8h1v1h-1zM12 8h1v1h-1zM18 8h2v1h-2zM34 8h1v1h-1zM5 9h1v1h-1zM24 9h1v1h-1zM33 9h1v1h-1zM92 9h1v1h-1zM6 10h2v1h-2zM32 10h1v1h-1zM34 10h1v1h-1zM92 10h1v1h-1zM5 11h1v1h-1zM87 11h2v1h-2zM16 12h1v1h-1zM36 12h1v1h-1zM81 12h1v1h-1zM83 12h1v1h-1zM7 13h1v1h-1zM13 13h1v1h-1zM33 13h1v1h-1zM36 13h1v1h-1zM81 13h1v1h-1zM83 13h1v1h-1zM91 13h1v1h-1zM83 14h1v1h-1zM36 15h1v1h-1zM82 15h1v1h-1zM89 15h1v1h-1zM75 16h2v1h-2zM63 17h1v1h-1zM39 18h1v1h-1zM77 18h1v1h-1zM79 18h1v1h-1zM92 18h1v1h-1zM5 19h1v1h-1zM43 19h1v1h-1zM75 19h1v1h-1zM89 19h1v1h-1zM38 20h2v1h-2zM22 21h2v1h-2zM26 21h1v1h-1zM39 21h2v1h-2zM84 21h1v1h-1zM88 21h1v1h-1zM96 21h1v1h-1zM0 22h1v1h-1zM7 22h2v1h-2zM27 22h1v1h-1zM38 22h1v1h-1zM70 22h1v1h-1zM26 23h1v1h-1zM39 23h1v1h-1zM81 23h1v1h-1zM87 23h1v1h-1zM4 24h1v1h-1zM10 24h1v1h-1zM12 24h1v1h-1zM15 24h1v1h-1zM38 24h1v1h-1zM72 24h1v1h-1zM85 24h1v1h-1zM89 24h1v1h-1zM3 25h2v1h-2zM6 25h2v1h-2zM10 25h2v1h-2zM14 25h2v1h-2zM38 25h1v1h-1zM88 25h1v1h-1zM2 26h1v1h-1zM4 26h1v1h-1zM6 26h1v1h-1zM11 26h1v1h-1zM16 26h1v1h-1zM94 26h1v1h-1zM5 27h3v1h-3zM10 27h1v1h-1zM16 27h1v1h-1zM32 27h1v1h-1zM34 27h1v1h-1zM38 27h1v1h-1zM43 27h1v1h-1zM46 27h1v1h-1zM91 27h4v1h-4zM6 28h2v1h-2zM9 28h1v1h-1zM23 28h2v1h-2zM37 28h3v1h-3zM71 28h2v1h-2zM91 28h1v1h-1zM95 28h2v1h-2zM13 29h1v1h-1zM17 29h2v1h-2zM21 29h2v1h-2zM24 29h1v1h-1zM29 29h1v1h-1zM40 29h1v1h-1zM47 29h1v1h-1zM68 29h1v1h-1zM2 30h3v1h-3zM6 30h1v1h-1zM17 30h1v1h-1zM22 30h4v1h-4zM29 30h1v1h-1zM42 30h1v1h-1zM48 30h1v1h-1zM54 30h1v1h-1zM75 30h1v1h-1zM80 30h1v1h-1zM83 30h1v1h-1zM85 30h1v1h-1zM16 31h1v1h-1zM18 31h1v1h-1zM22 31h1v1h-1zM24 31h1v1h-1zM33 31h1v1h-1zM41 31h1v1h-1zM46 31h1v1h-1zM48 31h1v1h-1zM76 31h1v1h-1zM83 31h1v1h-1zM14 32h2v1h-2zM28 32h2v1h-2zM32 32h1v1h-1zM35 32h1v1h-1zM47 32h1v1h-1zM4 33h1v1h-1zM19 33h1v1h-1zM27 33h1v1h-1zM30 33h1v1h-1zM37 33h1v1h-1zM39 33h2v1h-2zM53 33h1v1h-1zM8 34h1v1h-1zM20 34h2v1h-2zM24 34h1v1h-1zM29 34h1v1h-1zM34 34h1v1h-1zM39 34h1v1h-1zM48 34h1v1h-1zM69 34h2v1h-2zM5 35h1v1h-1zM7 35h2v1h-2zM22 35h1v1h-1zM32 35h2v1h-2zM39 35h1v1h-1zM41 35h1v1h-1zM66 35h1v1h-1zM69 35h2v1h-2zM72 35h1v1h-1zM5 36h1v1h-1zM11 36h1v1h-1zM15 36h2v1h-2zM23 36h1v1h-1zM31 36h1v1h-1zM37 36h1v1h-1zM39 36h4v1h-4zM45 36h1v1h-1zM48 36h1v1h-1zM6 37h1v1h-1zM12 37h2v1h-2zM22 37h3v1h-3zM26 37h1v1h-1zM42 37h1v1h-1zM45 37h1v1h-1zM47 37h1v1h-1zM60 37h1v1h-1zM62 37h1v1h-1zM10 38h1v1h-1zM16 38h1v1h-1zM18 38h1v1h-1zM55 38h1v1h-1zM57 38h1v1h-1zM65 38h1v1h-1zM5 39h1v1h-1zM15 39h3v1h-3zM21 39h1v1h-1zM26 39h2v1h-2zM46 39h1v1h-1zM54 39h2v1h-2zM63 39h1v1h-1zM6 40h1v1h-1zM14 40h1v1h-1zM20 40h1v1h-1zM46 40h1v1h-1zM54 40h1v1h-1zM59 40h1v1h-1zM7 41h1v1h-1zM15 41h1v1h-1zM17 41h4v1h-4zM4 42h2v1h-2zM8 42h1v1h-1zM18 42h1v1h-1zM7 43h1v1h-1zM12 43h1v1h-1zM60 43h1v1h-1zM5 44h1v1h-1zM9 44h1v1h-1zM88 44h2v1h-2zM60 45h1v1h-1zM62 45h1v1h-1zM83 45h2v1h-2zM86 45h1v1h-1zM0 46h1v1h-1zM2 46h1v1h-1zM7 46h2v1h-2zM48 46h1v1h-1zM74 46h1v1h-1zM86 46h1v1h-1zM6 47h1v1h-1zM8 47h2v1h-2zM63 47h1v1h-1zM76 47h1v1h-1zM90 47h1v1h-1zM96 47h1v1h-1zM0 48h1v1h-1zM6 48h1v1h-1zM79 48h2v1h-2zM84 48h2v1h-2zM92 48h1v1h-1zM94 48h1v1h-1zM96 48h1v1h-1zM5 49h1v1h-1zM7 49h1v1h-1zM62 49h1v1h-1zM70 49h2v1h-2zM74 49h1v1h-1zM79 49h1v1h-1zM82 49h1v1h-1zM85 49h1v1h-1zM95 49h1v1h-1zM8 50h1v1h-1zM55 50h1v1h-1zM79 50h2v1h-2zM1 51h4v1h-4zM6 51h2v1h-2zM72 51h1v1h-1zM3 52h1v1h-1zM47 52h1v1h-1zM53 52h1v1h-1zM72 52h1v1h-1zM47 53h1v1h-1zM53 53h2v1h-2zM58 53h1v1h-1zM78 53h1v1h-1zM84 53h1v1h-1zM15 54h1v1h-1zM50 54h1v1h-1zM60 54h1v1h-1zM2 55h1v1h-1zM5 55h2v1h-2zM11 55h1v1h-1zM13 55h1v1h-1zM48 55h1v1h-1zM54 55h1v1h-1zM61 55h1v1h-1zM70 55h1v1h-1zM72 55h1v1h-1zM12 56h1v1h-1zM61 56h1v1h-1zM69 56h1v1h-1zM14 57h1v1h-1zM17 57h1v1h-1zM46 57h2v1h-2zM49 57h1v1h-1zM71 57h1v1h-1zM81 57h1v1h-1zM83 57h1v1h-1zM93 57h1v1h-1zM9 58h1v1h-1zM12 58h3v1h-3zM17 58h1v1h-1zM46 58h1v1h-1zM58 58h1v1h-1zM60 58h2v1h-2zM66 58h1v1h-1zM68 58h1v1h-1zM73 58h1v1h-1zM93 58h1v1h-1zM12 59h1v1h-1zM16 59h1v1h-1zM61 59h2v1h-2zM64 59h1v1h-1zM67 59h1v1h-1zM72 59h1v1h-1zM74 59h1v1h-1zM76 59h1v1h-1zM95 59h1v1h-1zM5 60h1v1h-1zM9 60h1v1h-1zM47 60h1v1h-1zM72 60h3v1h-3zM86 60h1v1h-1zM15 61h1v1h-1zM46 61h1v1h-1zM55 61h1v1h-1zM64 61h1v1h-1zM68 61h1v1h-1zM73 61h1v1h-1zM84 61h2v1h-2zM89 61h1v1h-1zM94 61h1v1h-1zM14 62h1v1h-1zM35 62h1v1h-1zM55 62h1v1h-1zM57 62h1v1h-1zM66 62h1v1h-1zM72 62h2v1h-2zM7 63h1v1h-1zM10 63h3v1h-3zM30 63h1v1h-1zM32 63h1v1h-1zM34 63h2v1h-2zM54 63h1v1h-1zM57 63h1v1h-1zM67 63h1v1h-1zM73 63h1v1h-1zM88 63h1v1h-1zM91 63h1v1h-1zM31 64h1v1h-1zM55 64h1v1h-1zM58 64h1v1h-1zM67 64h1v1h-1zM69 64h4v1h-4zM8 65h1v1h-1zM12 65h1v1h-1zM14 65h1v1h-1zM19 65h1v1h-1zM25 65h1v1h-1zM35 65h2v1h-2zM54 65h1v1h-1zM88 65h1v1h-1zM10 66h1v1h-1zM14 66h1v1h-1zM16 66h1v1h-1zM24 66h1v1h-1zM33 66h1v1h-1zM66 66h2v1h-2zM89 66h1v1h-1zM17 67h1v1h-1zM22 67h1v1h-1zM64 67h2v1h-2zM67 67h1v1h-1zM69 67h1v1h-1zM79 67h1v1h-1zM85 67h4v1h-4zM90 67h1v1h-1zM9 68h3v1h-3zM14 68h1v1h-1zM31 68h1v1h-1zM38 68h1v1h-1zM44 68h1v1h-1zM47 68h2v1h-2zM54 68h1v1h-1zM61 68h1v1h-1zM68 68h2v1h-2zM71 68h1v1h-1zM34 69h1v1h-1zM37 69h1v1h-1zM47 69h1v1h-1zM51 69h1v1h-1zM55 69h1v1h-1zM57 69h1v1h-1zM61 69h1v1h-1zM65 69h1v1h-1zM67 69h2v1h-2zM74 69h1v1h-1zM76 69h1v1h-1zM47 70h1v1h-1zM50 70h1v1h-1zM52 70h1v1h-1zM54 70h1v1h-1zM56 70h2v1h-2zM89 70h1v1h-1zM91 70h1v1h-1zM28 71h1v1h-1zM31 71h1v1h-1zM49 71h3v1h-3zM56 71h1v1h-1zM65 71h1v1h-1zM71 71h1v1h-1zM77 71h1v1h-1zM79 71h1v1h-1zM81 71h2v1h-2zM9 72h1v1h-1zM25 72h1v1h-1zM27 72h1v1h-1zM32 72h1v1h-1zM49 72h1v1h-1zM54 72h1v1h-1zM56 72h1v1h-1zM58 72h1v1h-1zM75 72h2v1h-2zM85 72h1v1h-1zM7 73h1v1h-1zM19 73h1v1h-1zM44 73h1v1h-1zM62 73h1v1h-1zM64 73h1v1h-1zM74 73h1v1h-1zM77 73h1v1h-1zM82 73h2v1h-2zM90 73h1v1h-1zM19 74h1v1h-1zM43 74h1v1h-1zM47 74h1v1h-1zM53 74h2v1h-2zM65 74h2v1h-2zM85 74h1v1h-1zM89 74h2v1h-2zM44 75h1v1h-1zM52 75h1v1h-1zM55 75h1v1h-1zM65 75h1v1h-1zM69 75h1v1h-1zM72 75h2v1h-2zM76 75h2v1h-2zM18 76h1v1h-1zM37 76h2v1h-2zM40 76h1v1h-1zM42 76h1v1h-1zM48 76h1v1h-1zM52 76h1v1h-1zM67 76h1v1h-1zM70 76h4v1h-4zM78 76h1v1h-1zM83 76h1v1h-1zM88 76h2v1h-2zM0 77h1v1h-1zM19 77h1v1h-1zM27 77h1v1h-1zM33 77h1v1h-1zM35 77h1v1h-1zM43 77h1v1h-1zM70 77h2v1h-2zM78 77h1v1h-1zM80 77h1v1h-1zM86 77h1v1h-1zM89 77h1v1h-1zM20 78h2v1h-2zM23 78h1v1h-1zM28 78h1v1h-1zM35 78h1v1h-1zM42 78h2v1h-2zM45 78h1v1h-1zM58 78h1v1h-1zM62 78h1v1h-1zM64 78h1v1h-1zM70 78h1v1h-1zM79 78h1v1h-1zM86 78h3v1h-3zM91 78h2v1h-2zM24 79h1v1h-1zM27 79h1v1h-1zM31 79h1v1h-1zM36 79h1v1h-1zM41 79h1v1h-1zM45 79h1v1h-1zM49 79h2v1h-2zM66 79h1v1h-1zM72 79h1v1h-1zM86 79h1v1h-1zM90 79h1v1h-1zM28 80h1v1h-1zM39 80h1v1h-1zM50 80h1v1h-1zM52 80h4v1h-4zM68 80h1v1h-1zM16 81h1v1h-1zM26 81h1v1h-1zM29 81h1v1h-1zM41 81h1v1h-1zM56 81h1v1h-1zM72 81h1v1h-1zM74 81h1v1h-1zM79 81h1v1h-1zM83 81h2v1h-2zM87 81h3v1h-3zM2 82h1v1h-1zM35 82h1v1h-1zM39 82h1v1h-1zM57 82h1v1h-1zM65 82h1v1h-1zM70 82h1v1h-1zM81 82h1v1h-1zM84 82h1v1h-1zM88 82h2v1h-2zM10 83h2v1h-2zM26 83h1v1h-1zM28 83h1v1h-1zM37 83h2v1h-2zM51 83h2v1h-2zM54 83h1v1h-1zM64 83h1v1h-1zM66 83h1v1h-1zM84 83h1v1h-1zM94 83h1v1h-1zM7 84h1v1h-1zM9 84h1v1h-1zM34 84h1v1h-1zM39 84h1v1h-1zM48 84h1v1h-1zM55 84h1v1h-1zM66 84h1v1h-1zM69 84h1v1h-1zM3 85h1v1h-1zM10 85h2v1h-2zM26 85h1v1h-1zM48 85h1v1h-1zM56 85h1v1h-1zM70 85h1v1h-1zM1 86h1v1h-1zM4 86h1v1h-1zM6 86h1v1h-1zM8 86h1v1h-1zM10 86h1v1h-1zM25 86h1v1h-1zM44 86h3v1h-3zM63 86h1v1h-1zM66 86h1v1h-1zM75 86h1v1h-1zM2 87h1v1h-1zM9 87h1v1h-1zM19 87h1v1h-1zM26 87h1v1h-1zM45 87h1v1h-1zM47 87h1v1h-1zM56 87h1v1h-1zM74 87h1v1h-1zM8 88h1v1h-1zM17 88h1v1h-1zM45 88h1v1h-1zM47 88h1v1h-1zM66 88h1v1h-1zM82 88h1v1h-1zM88 88h1v1h-1zM48 89h1v1h-1zM64 89h1v1h-1zM86 89h1v1h-1zM90 89h2v1h-2zM34 90h1v1h-1zM45 90h1v1h-1zM66 90h2v1h-2zM71 90h1v1h-1zM76 90h1v1h-1zM79 90h1v1h-1zM84 90h2v1h-2zM92 90h2v1h-2zM25 91h1v1h-1zM33 91h1v1h-1zM41 91h3v1h-3zM65 91h2v1h-2zM82 91h2v1h-2zM91 91h1v1h-1zM24 92h1v1h-1zM40 92h1v1h-1zM42 92h2v1h-2zM62 92h1v1h-1zM64 92h1v1h-1zM67 92h1v1h-1zM77 92h2v1h-2zM80 92h1v1h-1zM85 92h1v1h-1zM6 93h1v1h-1zM22 93h1v1h-1zM24 93h1v1h-1zM43 93h1v1h-1zM85 93h1v1h-1zM23 94h1v1h-1zM66 94h1v1h-1zM72 94h1v1h-1zM52 95h1v1h-1zM63 95h1v1h-1zM65 95h1v1h-1zM80 95h1v1h-1zM89 95h1v1h-1zM15 96h1v1h-1zM50 96h2v1h-2zM65 96h1v1h-1zM69 96h1v1h-1zM73 96h1v1h-1zM81 96h1v1h-1z"/>
<path fill="rgb(30,30,30)" d="M50 0h1v1h-1zM58 0h1v1h-1zM64 0h1v1h-1zM50 1h1v1h-1zM57 1h1v1h-1zM27 4h2v1h-2zM54 4h1v1h-1zM79 4h1v1h-1zM8 5h3v1h-3zM46 5h3v1h-3zM28 6h1v1h-1zM33 6h2v1h-2zM60 7h1v1h-1zM27 8h1v1h-1zM33 8h1v1h-1zM34 9h1v1h-1zM89 9h1v1h-1zM91 9h1v1h-1zM87 10h1v1h-1zM91 10h1v1h-1zM1 11h1v1h-1zM92 11h1v1h-1zM82 12h1v1h-1zM90 13h1v1h-1zM3 14h1v1h-1zM81 15h1v1h-1zM28 16h1v1h-1zM76 17h1v1h-1zM27 21h1v1h-1zM38 21h1v1h-1zM40 22h1v1h-1zM13 24h2v1h-2zM5 25h1v1h-1zM12 25h1v1h-1zM39 25h1v1h-1zM86 25h1v1h-1zM9 26h1v1h-1zM12 26h1v1h-1zM17 26h1v1h-1zM4 27h1v1h-1zM18 27h1v1h-1zM41 27h1v1h-1zM45 27h1v1h-1zM49 27h1v1h-1zM40 28h1v1h-1zM45 28h1v1h-1zM73 28h1v1h-1zM89 28h2v1h-2zM6 29h2v1h-2zM25 29h1v1h-1zM96 29h1v1h-1zM41 30h1v1h-1zM76 30h1v1h-1zM87 30h1v1h-1zM96 30h1v1h-1zM13 31h1v1h-1zM23 31h1v1h-1zM31 31h1v1h-1zM3 32h1v1h-1zM31 32h1v1h-1zM76 32h1v1h-1zM75 33h1v1h-1zM25 34h3v1h-3zM41 34h1v1h-1zM6 35h1v1h-1zM29 35h1v1h-1zM31 35h1v1h-1zM34 35h1v1h-1zM40 35h1v1h-1zM42 35h1v1h-1zM73 35h1v1h-1zM6 36h2v1h-2zM9 36h1v1h-1zM18 36h2v1h-2zM24 36h1v1h-1zM30 36h1v1h-1zM33 36h1v1h-1zM67 36h1v1h-1zM70 36h1v1h-1zM9 37h1v1h-1zM18 37h1v1h-1zM21 37h1v1h-1zM32 37h2v1h-2zM7 38h2v1h-2zM11 38h1v1h-1zM19 38h1v1h-1zM22 38h2v1h-2zM25 38h1v1h-1zM33 38h1v1h-1zM43 38h1v1h-1zM46 38h1v1h-1zM62 38h1v1h-1zM10 39h1v1h-1zM12 39h3v1h-3zM20 39h1v1h-1zM22 39h2v1h-2zM64 39h1v1h-1zM7 40h1v1h-1zM11 40h2v1h-2zM18 40h1v1h-1zM5 41h1v1h-1zM8 41h1v1h-1zM10 41h1v1h-1zM14 41h1v1h-1zM46 41h1v1h-1zM15 42h1v1h-1zM20 42h1v1h-1zM46 42h1v1h-1zM8 43h1v1h-1zM15 43h1v1h-1zM19 43h1v1h-1zM61 43h1v1h-1zM8 44h1v1h-1zM11 44h1v1h-1zM83 44h1v1h-1zM3 45h1v1h-1zM8 45h1v1h-1zM61 45h1v1h-1zM63 45h1v1h-1zM95 45h1v1h-1zM9 46h1v1h-1zM73 46h1v1h-1zM78 46h1v1h-1zM80 46h1v1h-1zM82 46h1v1h-1zM84 46h2v1h-2zM91 46h3v1h-3zM96 46h1v1h-1zM2 47h1v1h-1zM47 47h1v1h-1zM71 47h1v1h-1zM81 47h2v1h-2zM85 47h1v1h-1zM93 47h2v1h-2zM4 48h1v1h-1zM70 48h1v1h-1zM2 49h1v1h-1zM47 49h1v1h-1zM69 49h1v1h-1zM83 49h1v1h-1zM4 50h1v1h-1zM9 50h1v1h-1zM66 50h1v1h-1zM72 50h1v1h-1zM82 50h1v1h-1zM8 51h1v1h-1zM47 51h1v1h-1zM55 51h1v1h-1zM75 51h1v1h-1zM2 52h1v1h-1zM15 53h1v1h-1zM57 53h1v1h-1zM1 54h1v1h-1zM14 54h1v1h-1zM17 54h1v1h-1zM47 54h1v1h-1zM59 54h1v1h-1zM16 55h2v1h-2zM71 55h1v1h-1zM14 56h2v1h-2zM48 56h1v1h-1zM50 56h2v1h-2zM53 56h1v1h-1zM95 56h1v1h-1zM16 57h1v1h-1zM20 57h1v1h-1zM48 57h1v1h-1zM50 57h2v1h-2zM60 57h1v1h-1zM70 57h1v1h-1zM6 58h1v1h-1zM18 58h2v1h-2zM48 58h1v1h-1zM65 58h1v1h-1zM67 58h1v1h-1zM70 58h1v1h-1zM94 58h1v1h-1zM7 59h1v1h-1zM14 59h1v1h-1zM45 59h1v1h-1zM58 59h2v1h-2zM73 59h1v1h-1zM84 59h1v1h-1zM6 60h2v1h-2zM45 60h1v1h-1zM76 60h1v1h-1zM84 60h1v1h-1zM94 60h1v1h-1zM6 61h1v1h-1zM12 61h1v1h-1zM35 61h1v1h-1zM71 61h1v1h-1zM75 61h1v1h-1zM12 62h1v1h-1zM37 62h1v1h-1zM40 62h1v1h-1zM68 62h2v1h-2zM74 62h1v1h-1zM14 63h2v1h-2zM36 63h1v1h-1zM55 63h1v1h-1zM68 63h1v1h-1zM72 63h1v1h-1zM90 63h1v1h-1zM10 64h2v1h-2zM27 64h2v1h-2zM30 64h1v1h-1zM35 64h1v1h-1zM54 64h1v1h-1zM68 64h1v1h-1zM89 64h1v1h-1zM9 65h1v1h-1zM15 65h3v1h-3zM20 65h1v1h-1zM27 65h1v1h-1zM34 65h1v1h-1zM37 65h1v1h-1zM70 65h1v1h-1zM17 66h1v1h-1zM20 66h2v1h-2zM34 66h1v1h-1zM36 66h1v1h-1zM48 66h1v1h-1zM52 66h2v1h-2zM87 66h1v1h-1zM8 67h1v1h-1zM34 67h1v1h-1zM47 67h1v1h-1zM49 67h1v1h-1zM51 67h1v1h-1zM53 67h1v1h-1zM68 67h1v1h-1zM7 68h1v1h-1zM32 68h3v1h-3zM60 68h1v1h-1zM65 68h1v1h-1zM78 68h1v1h-1zM88 68h2v1h-2zM31 69h1v1h-1zM33 69h1v1h-1zM35 69h2v1h-2zM43 69h1v1h-1zM49 69h1v1h-1zM54 69h1v1h-1zM56 69h1v1h-1zM71 69h2v1h-2zM75 69h1v1h-1zM78 69h1v1h-1zM89 69h2v1h-2zM28 70h1v1h-1zM31 70h2v1h-2zM34 70h2v1h-2zM43 70h1v1h-1zM58 70h2v1h-2zM61 70h1v1h-1zM66 70h1v1h-1zM69 70h1v1h-1zM73 70h1v1h-1zM77 70h2v1h-2zM29 71h2v1h-2zM47 71h2v1h-2zM54 71h1v1h-1zM74 71h1v1h-1zM20 72h1v1h-1zM29 72h2v1h-2zM47 72h1v1h-1zM55 72h1v1h-1zM64 72h2v1h-2zM74 72h1v1h-1zM80 72h1v1h-1zM90 72h1v1h-1zM21 73h1v1h-1zM24 73h1v1h-1zM29 73h1v1h-1zM43 73h1v1h-1zM47 73h1v1h-1zM49 73h1v1h-1zM63 73h1v1h-1zM65 73h1v1h-1zM84 73h1v1h-1zM44 74h1v1h-1zM48 74h1v1h-1zM64 74h1v1h-1zM84 74h1v1h-1zM47 75h2v1h-2zM53 75h2v1h-2zM74 75h2v1h-2zM89 75h1v1h-1zM33 76h2v1h-2zM39 76h1v1h-1zM43 76h1v1h-1zM66 76h1v1h-1zM90 76h1v1h-1zM6 77h1v1h-1zM12 77h1v1h-1zM28 77h3v1h-3zM39 77h3v1h-3zM65 77h1v1h-1zM39 78h1v1h-1zM48 78h1v1h-1zM65 78h2v1h-2zM73 78h1v1h-1zM89 78h1v1h-1zM96 78h1v1h-1zM21 79h1v1h-1zM43 79h1v1h-1zM46 79h1v1h-1zM51 79h1v1h-1zM51 80h1v1h-1zM56 80h1v1h-1zM28 81h1v1h-1zM53 81h1v1h-1zM55 81h1v1h-1zM57 81h1v1h-1zM66 81h1v1h-1zM26 82h2v1h-2zM29 82h2v1h-2zM54 82h1v1h-1zM56 82h1v1h-1zM71 82h2v1h-2zM29 83h2v1h-2zM53 83h1v1h-1zM71 83h1v1h-1zM8 84h1v1h-1zM10 84h2v1h-2zM42 84h1v1h-1zM52 84h1v1h-1zM71 84h1v1h-1zM2 85h1v1h-1zM24 85h1v1h-1zM42 85h1v1h-1zM69 85h1v1h-1zM2 86h1v1h-1zM7 86h1v1h-1zM60 86h1v1h-1zM68 86h2v1h-2zM8 87h1v1h-1zM67 87h1v1h-1zM73 87h1v1h-1zM46 88h1v1h-1zM81 88h1v1h-1zM45 89h1v1h-1zM75 89h1v1h-1zM92 89h1v1h-1zM46 90h1v1h-1zM65 90h1v1h-1zM89 90h1v1h-1zM67 91h1v1h-1zM79 91h1v1h-1zM81 91h1v1h-1zM84 91h1v1h-1zM65 92h1v1h-1zM82 92h1v1h-1zM7 93h1v1h-1zM26 93h1v1h-1zM41 93h1v1h-1zM62 93h3v1h-3zM66 93h1v1h-1zM78 93h2v1h-2zM6 94h1v1h-1zM24 94h1v1h-1zM38 94h1v1h-1zM51 94h1v1h-1zM62 94h1v1h-1zM64 94h1v1h-1zM80 94h2v1h-2zM85 94h1v1h-1zM90 94h1v1h-1zM24 95h1v1h-1zM64 95h1v1h-1zM72 95h1v1h-1zM79 95h1v1h-1zM52 96h1v1h-1z"/>
<path fill="rgb(33,33,33)" d="M49 1h1v1h-1zM56 4h1v1h-1zM9 6h1v1h-1zM57 6h1v1h-1zM90 9h1v1h-1zM5 10h1v1h-1zM88 10h1v1h-1zM89 12h3v1h-3zM40 20h1v1h-1zM25 21h1v1h-1zM37 21h1v1h-1zM26 22h1v1h-1zM37 22h1v1h-1zM37 23h2v1h-2zM8 27h1v1h-1zM3 28h1v1h-1zM11 28h1v1h-1zM41 28h2v1h-2zM92 28h1v1h-1zM41 29h1v1h-1zM76 29h2v1h-2zM79 29h1v1h-1zM88 29h1v1h-1zM28 31h1v1h-1zM80 31h1v1h-1zM76 33h1v1h-1zM36 34h3v1h-3zM40 34h1v1h-1zM73 34h1v1h-1zM20 35h1v1h-1zM25 35h1v1h-1zM27 35h2v1h-2zM36 35h1v1h-1zM38 35h1v1h-1zM71 35h1v1h-1zM74 35h1v1h-1zM13 36h1v1h-1zM20 36h2v1h-2zM26 36h1v1h-1zM28 36h2v1h-2zM36 36h1v1h-1zM38 36h1v1h-1zM11 37h1v1h-1zM14 37h1v1h-1zM27 37h1v1h-1zM29 37h1v1h-1zM31 37h1v1h-1zM34 37h1v1h-1zM41 37h1v1h-1zM56 37h2v1h-2zM9 38h1v1h-1zM21 38h1v1h-1zM24 38h1v1h-1zM30 38h1v1h-1zM32 38h1v1h-1zM42 38h1v1h-1zM44 38h1v1h-1zM25 39h1v1h-1zM28 39h1v1h-1zM47 39h1v1h-1zM53 39h1v1h-1zM60 39h1v1h-1zM62 39h1v1h-1zM65 39h1v1h-1zM4 40h2v1h-2zM8 40h1v1h-1zM10 40h1v1h-1zM15 40h1v1h-1zM17 40h1v1h-1zM21 40h2v1h-2zM27 40h2v1h-2zM45 40h1v1h-1zM60 40h1v1h-1zM4 41h1v1h-1zM6 41h1v1h-1zM9 41h1v1h-1zM11 41h1v1h-1zM13 41h1v1h-1zM10 42h1v1h-1zM13 42h2v1h-2zM17 42h1v1h-1zM60 42h1v1h-1zM18 43h1v1h-1zM21 43h1v1h-1zM62 43h1v1h-1zM84 43h1v1h-1zM14 44h1v1h-1zM16 44h1v1h-1zM22 44h1v1h-1zM61 44h1v1h-1zM84 44h3v1h-3zM6 45h1v1h-1zM85 45h1v1h-1zM90 45h1v1h-1zM1 46h1v1h-1zM49 46h1v1h-1zM75 46h2v1h-2zM79 46h1v1h-1zM94 46h1v1h-1zM0 47h1v1h-1zM13 47h1v1h-1zM64 47h1v1h-1zM70 47h1v1h-1zM80 47h1v1h-1zM92 47h1v1h-1zM95 47h1v1h-1zM21 48h1v1h-1zM64 48h1v1h-1zM69 48h1v1h-1zM95 48h1v1h-1zM6 49h1v1h-1zM8 49h1v1h-1zM80 49h1v1h-1zM65 50h1v1h-1zM10 52h1v1h-1zM13 52h1v1h-1zM15 52h1v1h-1zM54 52h1v1h-1zM9 53h1v1h-1zM11 53h1v1h-1zM55 53h2v1h-2zM10 54h1v1h-1zM55 54h3v1h-3zM1 55h1v1h-1zM12 55h1v1h-1zM20 55h1v1h-1zM55 55h1v1h-1zM17 56h3v1h-3zM21 56h1v1h-1zM13 57h1v1h-1zM21 57h1v1h-1zM65 57h1v1h-1zM49 58h2v1h-2zM59 58h1v1h-1zM72 58h1v1h-1zM95 58h1v1h-1zM17 59h3v1h-3zM49 59h1v1h-1zM57 59h1v1h-1zM11 60h2v1h-2zM55 60h1v1h-1zM66 60h1v1h-1zM77 60h1v1h-1zM7 61h1v1h-1zM16 61h1v1h-1zM38 61h1v1h-1zM54 61h1v1h-1zM74 61h1v1h-1zM11 62h1v1h-1zM15 62h1v1h-1zM34 62h1v1h-1zM38 62h1v1h-1zM31 63h1v1h-1zM37 63h1v1h-1zM56 63h1v1h-1zM71 63h1v1h-1zM16 64h1v1h-1zM37 64h1v1h-1zM18 65h1v1h-1zM24 65h1v1h-1zM38 66h1v1h-1zM46 66h1v1h-1zM36 67h1v1h-1zM45 67h1v1h-1zM52 67h1v1h-1zM66 67h1v1h-1zM35 68h1v1h-1zM37 68h1v1h-1zM49 68h1v1h-1zM63 68h1v1h-1zM66 68h2v1h-2zM32 69h1v1h-1zM66 69h1v1h-1zM70 69h1v1h-1zM29 70h1v1h-1zM44 70h1v1h-1zM55 70h1v1h-1zM71 70h2v1h-2zM32 71h1v1h-1zM34 71h1v1h-1zM76 71h1v1h-1zM78 71h1v1h-1zM26 72h1v1h-1zM28 72h1v1h-1zM31 72h1v1h-1zM43 72h1v1h-1zM79 72h1v1h-1zM81 72h2v1h-2zM91 72h1v1h-1zM20 73h1v1h-1zM48 73h1v1h-1zM42 74h1v1h-1zM46 74h1v1h-1zM49 74h1v1h-1zM19 75h1v1h-1zM41 75h1v1h-1zM46 75h1v1h-1zM80 75h1v1h-1zM19 76h1v1h-1zM74 76h1v1h-1zM26 77h1v1h-1zM73 77h2v1h-2zM88 77h1v1h-1zM50 78h1v1h-1zM90 78h1v1h-1zM25 79h1v1h-1zM87 79h1v1h-1zM66 80h1v1h-1zM88 80h2v1h-2zM65 81h1v1h-1zM28 82h1v1h-1zM38 82h1v1h-1zM52 82h1v1h-1zM55 83h1v1h-1zM57 83h1v1h-1zM26 84h3v1h-3zM54 84h1v1h-1zM68 84h1v1h-1zM70 84h1v1h-1zM9 85h1v1h-1zM29 85h1v1h-1zM55 85h1v1h-1zM66 85h1v1h-1zM68 85h1v1h-1zM72 85h1v1h-1zM67 86h1v1h-1zM1 87h1v1h-1zM46 87h1v1h-1zM68 87h1v1h-1zM81 89h1v1h-1zM64 90h1v1h-1zM80 90h2v1h-2zM77 91h1v1h-1zM80 91h1v1h-1zM81 92h1v1h-1zM84 92h1v1h-1zM42 93h1v1h-1zM65 93h1v1h-1zM80 93h2v1h-2zM65 94h1v1h-1zM23 95h1v1h-1zM71 95h1v1h-1zM23 96h1v1h-1zM64 96h1v1h-1zM70 96h2v1h-2z"/>
<path fill="rgb(36,36,36)" d="M33 10h1v1h-1zM6 11h1v1h-1zM91 11h1v1h-1zM82 13h1v1h-1zM93 28h2v1h-2zM42 29h1v1h-1zM89 29h2v1h-2zM84 31h2v1h-2zM28 33h1v1h-1zM28 34h1v1h-1zM75 34h1v1h-1zM19 35h1v1h-1zM21 35h1v1h-1zM35 35h1v1h-1zM37 35h1v1h-1zM8 36h1v1h-1zM22 36h1v1h-1zM27 36h1v1h-1zM34 36h1v1h-1zM69 36h1v1h-1zM20 37h1v1h-1zM38 37h1v1h-1zM40 37h1v1h-1zM67 37h1v1h-1zM14 38h1v1h-1zM20 38h1v1h-1zM27 38h2v1h-2zM45 38h1v1h-1zM8 39h2v1h-2zM11 39h1v1h-1zM29 39h2v1h-2zM44 39h1v1h-1zM13 40h1v1h-1zM19 40h1v1h-1zM30 40h1v1h-1zM55 40h1v1h-1zM12 41h1v1h-1zM21 41h1v1h-1zM27 41h3v1h-3zM11 42h2v1h-2zM16 42h1v1h-1zM61 42h1v1h-1zM96 42h1v1h-1zM10 43h1v1h-1zM13 43h1v1h-1zM20 43h1v1h-1zM46 43h1v1h-1zM15 44h1v1h-1zM21 44h1v1h-1zM46 44h1v1h-1zM62 44h1v1h-1zM87 44h1v1h-1zM10 45h1v1h-1zM12 45h2v1h-2zM46 45h1v1h-1zM82 45h1v1h-1zM17 46h1v1h-1zM61 46h1v1h-1zM63 46h1v1h-1zM72 46h1v1h-1zM77 46h1v1h-1zM81 46h1v1h-1zM1 47h1v1h-1zM11 47h2v1h-2zM17 47h1v1h-1zM20 47h1v1h-1zM10 48h1v1h-1zM13 48h1v1h-1zM14 49h1v1h-1zM21 49h1v1h-1zM65 49h1v1h-1zM12 50h1v1h-1zM14 50h2v1h-2zM23 50h1v1h-1zM67 50h1v1h-1zM15 51h1v1h-1zM20 51h1v1h-1zM14 52h1v1h-1zM55 52h2v1h-2zM14 53h1v1h-1zM23 53h1v1h-1zM11 54h1v1h-1zM13 54h1v1h-1zM16 54h1v1h-1zM18 54h1v1h-1zM20 54h1v1h-1zM22 54h1v1h-1zM58 54h1v1h-1zM18 55h1v1h-1zM21 55h1v1h-1zM20 56h1v1h-1zM22 56h1v1h-1zM54 56h1v1h-1zM22 57h2v1h-2zM20 58h1v1h-1zM66 59h1v1h-1zM77 59h1v1h-1zM18 60h1v1h-1zM37 60h1v1h-1zM44 60h1v1h-1zM48 60h1v1h-1zM85 60h1v1h-1zM17 61h1v1h-1zM36 61h1v1h-1zM39 61h3v1h-3zM44 61h2v1h-2zM86 61h1v1h-1zM30 62h1v1h-1zM32 62h2v1h-2zM36 62h1v1h-1zM39 62h1v1h-1zM44 62h1v1h-1zM46 62h2v1h-2zM27 63h1v1h-1zM38 63h1v1h-1zM46 63h1v1h-1zM53 63h1v1h-1zM15 64h1v1h-1zM26 64h1v1h-1zM38 64h3v1h-3zM38 65h1v1h-1zM52 65h2v1h-2zM35 66h1v1h-1zM39 66h1v1h-1zM49 66h1v1h-1zM51 66h1v1h-1zM35 67h1v1h-1zM39 67h1v1h-1zM44 67h1v1h-1zM48 67h1v1h-1zM50 67h1v1h-1zM36 68h1v1h-1zM43 68h1v1h-1zM38 69h1v1h-1zM73 69h1v1h-1zM36 70h1v1h-1zM48 70h1v1h-1zM75 70h2v1h-2zM42 71h1v1h-1zM55 71h1v1h-1zM72 71h1v1h-1zM48 72h1v1h-1zM22 73h2v1h-2zM27 73h1v1h-1zM42 73h1v1h-1zM37 75h1v1h-1zM42 75h1v1h-1zM41 76h1v1h-1zM65 76h1v1h-1zM20 77h1v1h-1zM22 77h1v1h-1zM24 77h1v1h-1zM66 77h1v1h-1zM88 79h1v1h-1zM57 80h1v1h-1zM87 80h1v1h-1zM52 81h1v1h-1zM86 81h1v1h-1zM53 82h1v1h-1zM55 82h1v1h-1zM27 83h1v1h-1zM67 84h1v1h-1zM27 85h1v1h-1zM67 85h1v1h-1zM82 90h2v1h-2zM78 91h1v1h-1zM79 92h1v1h-1z"/>
<path fill="rgb(39,39,39)" d="M89 10h1v1h-1zM78 29h1v1h-1zM95 29h1v1h-1zM88 30h1v1h-1zM80 32h3v1h-3zM76 34h1v1h-1zM35 36h1v1h-1zM68 36h1v1h-1zM71 36h1v1h-1zM19 37h1v1h-1zM35 37h3v1h-3zM39 37h1v1h-1zM70 37h1v1h-1zM31 38h1v1h-1zM41 38h1v1h-1zM66 38h1v1h-1zM24 39h1v1h-1zM33 39h1v1h-1zM43 39h1v1h-1zM61 39h1v1h-1zM9 40h1v1h-1zM26 40h1v1h-1zM63 40h1v1h-1zM16 41h1v1h-1zM22 41h1v1h-1zM26 41h1v1h-1zM60 41h1v1h-1zM21 42h2v1h-2zM11 43h1v1h-1zM14 43h1v1h-1zM16 43h1v1h-1zM24 43h1v1h-1zM86 43h2v1h-2zM89 43h1v1h-1zM95 43h2v1h-2zM13 44h1v1h-1zM18 44h1v1h-1zM90 44h1v1h-1zM94 44h2v1h-2zM11 45h1v1h-1zM14 45h1v1h-1zM22 45h2v1h-2zM77 45h1v1h-1zM80 45h2v1h-2zM91 45h2v1h-2zM11 46h1v1h-1zM15 46h1v1h-1zM64 46h1v1h-1zM71 46h1v1h-1zM16 47h1v1h-1zM18 47h1v1h-1zM21 47h1v1h-1zM23 47h1v1h-1zM9 48h1v1h-1zM11 48h2v1h-2zM14 48h1v1h-1zM16 48h1v1h-1zM9 49h1v1h-1zM11 49h1v1h-1zM15 49h1v1h-1zM17 49h1v1h-1zM23 49h1v1h-1zM11 50h1v1h-1zM13 50h1v1h-1zM24 50h1v1h-1zM9 51h1v1h-1zM53 51h1v1h-1zM9 52h1v1h-1zM16 52h1v1h-1zM23 52h1v1h-1zM10 53h1v1h-1zM16 53h2v1h-2zM19 53h1v1h-1zM12 54h1v1h-1zM21 54h1v1h-1zM24 54h1v1h-1zM22 55h1v1h-1zM56 55h1v1h-1zM60 55h1v1h-1zM23 56h1v1h-1zM46 56h1v1h-1zM60 56h1v1h-1zM70 56h1v1h-1zM52 57h1v1h-1zM21 58h1v1h-1zM45 58h1v1h-1zM35 59h1v1h-1zM50 59h1v1h-1zM17 60h1v1h-1zM36 60h1v1h-1zM47 61h1v1h-1zM41 62h1v1h-1zM45 62h1v1h-1zM53 62h2v1h-2zM16 63h2v1h-2zM28 63h2v1h-2zM39 63h1v1h-1zM45 63h1v1h-1zM17 64h3v1h-3zM36 64h1v1h-1zM46 64h2v1h-2zM53 64h1v1h-1zM90 64h1v1h-1zM22 65h2v1h-2zM39 65h1v1h-1zM46 65h2v1h-2zM50 66h1v1h-1zM48 69h1v1h-1zM35 71h1v1h-1zM42 72h1v1h-1zM28 73h1v1h-1zM30 73h1v1h-1zM35 75h2v1h-2zM20 76h1v1h-1zM29 76h2v1h-2zM23 77h1v1h-1z"/>
<path fill="rgb(42,42,42)" d="M90 10h1v1h-1zM89 11h1v1h-1zM77 30h1v1h-1zM79 30h1v1h-1zM86 31h1v1h-1zM77 32h1v1h-1zM79 32h1v1h-1zM83 32h1v1h-1zM77 33h1v1h-1zM72 36h1v1h-1zM30 37h1v1h-1zM68 37h1v1h-1zM29 38h1v1h-1zM34 38h1v1h-1zM36 38h2v1h-2zM40 38h1v1h-1zM67 38h1v1h-1zM31 39h1v1h-1zM96 39h1v1h-1zM23 40h1v1h-1zM25 40h1v1h-1zM29 40h1v1h-1zM31 40h1v1h-1zM30 41h1v1h-1zM45 41h1v1h-1zM23 42h1v1h-1zM25 42h4v1h-4zM17 43h1v1h-1zM25 43h1v1h-1zM83 43h1v1h-1zM10 44h1v1h-1zM12 44h1v1h-1zM17 44h1v1h-1zM19 44h2v1h-2zM81 44h2v1h-2zM93 44h1v1h-1zM9 45h1v1h-1zM15 45h7v1h-7zM73 45h1v1h-1zM75 45h1v1h-1zM10 46h1v1h-1zM12 46h3v1h-3zM16 46h1v1h-1zM21 46h2v1h-2zM14 47h2v1h-2zM22 47h1v1h-1zM26 47h1v1h-1zM18 48h1v1h-1zM22 48h1v1h-1zM10 49h1v1h-1zM13 49h1v1h-1zM16 49h1v1h-1zM20 49h1v1h-1zM24 49h1v1h-1zM16 50h2v1h-2zM10 51h1v1h-1zM17 51h1v1h-1zM23 51h1v1h-1zM11 52h1v1h-1zM17 52h4v1h-4zM22 52h1v1h-1zM12 53h2v1h-2zM20 53h2v1h-2zM23 54h1v1h-1zM19 55h1v1h-1zM24 55h2v1h-2zM46 55h1v1h-1zM24 56h1v1h-1zM51 58h1v1h-1zM20 59h1v1h-1zM44 59h1v1h-1zM40 60h1v1h-1zM43 60h1v1h-1zM18 61h1v1h-1zM33 61h2v1h-2zM37 61h1v1h-1zM42 61h1v1h-1zM48 61h1v1h-1zM16 62h2v1h-2zM42 62h1v1h-1zM40 63h1v1h-1zM44 63h1v1h-1zM47 63h1v1h-1zM22 64h4v1h-4zM48 65h1v1h-1zM42 70h1v1h-1zM49 70h1v1h-1zM33 72h1v1h-1zM41 72h1v1h-1zM20 74h1v1h-1zM28 74h1v1h-1zM20 75h1v1h-1zM32 75h3v1h-3zM38 75h1v1h-1zM27 76h2v1h-2zM31 76h1v1h-1zM21 77h1v1h-1z"/>
<path fill="rgb(45,45,45)" d="M91 29h2v1h-2zM94 29h1v1h-1zM89 30h1v1h-1zM95 30h1v1h-1zM77 31h1v1h-1zM79 31h1v1h-1zM87 31h1v1h-1zM96 31h1v1h-1zM78 33h3v1h-3zM75 35h1v1h-1zM73 36h1v1h-1zM28 37h1v1h-1zM35 38h1v1h-1zM34 39h1v1h-1zM41 39h2v1h-2zM24 40h1v1h-1zM44 40h1v1h-1zM62 40h1v1h-1zM25 41h1v1h-1zM61 41h3v1h-3zM96 41h1v1h-1zM62 42h1v1h-1zM89 42h1v1h-1zM22 43h2v1h-2zM26 43h1v1h-1zM88 43h1v1h-1zM23 44h1v1h-1zM26 44h1v1h-1zM91 44h1v1h-1zM25 45h1v1h-1zM64 45h1v1h-1zM74 45h1v1h-1zM79 45h1v1h-1zM93 45h2v1h-2zM18 46h3v1h-3zM46 46h1v1h-1zM10 47h1v1h-1zM27 47h1v1h-1zM65 47h1v1h-1zM69 47h1v1h-1zM19 48h2v1h-2zM23 48h1v1h-1zM27 48h1v1h-1zM65 48h1v1h-1zM18 49h2v1h-2zM22 49h1v1h-1zM26 49h2v1h-2zM67 49h2v1h-2zM10 50h1v1h-1zM18 50h1v1h-1zM21 50h2v1h-2zM26 50h1v1h-1zM11 51h1v1h-1zM13 51h2v1h-2zM19 51h1v1h-1zM21 51h2v1h-2zM24 52h2v1h-2zM22 53h1v1h-1zM24 53h2v1h-2zM19 54h1v1h-1zM46 54h1v1h-1zM23 55h1v1h-1zM57 55h2v1h-2zM25 56h1v1h-1zM55 56h1v1h-1zM58 57h2v1h-2zM36 59h1v1h-1zM56 59h1v1h-1zM19 60h1v1h-1zM34 60h2v1h-2zM38 60h2v1h-2zM41 60h2v1h-2zM49 60h1v1h-1zM43 61h1v1h-1zM29 62h1v1h-1zM31 62h1v1h-1zM43 62h1v1h-1zM18 63h1v1h-1zM20 64h2v1h-2zM45 64h1v1h-1zM52 64h1v1h-1zM45 65h1v1h-1zM45 66h1v1h-1zM39 68h1v1h-1zM42 69h1v1h-1zM37 70h2v1h-2zM40 70h1v1h-1zM41 71h1v1h-1zM34 72h1v1h-1zM26 73h1v1h-1zM32 73h1v1h-1zM34 73h1v1h-1zM29 74h1v1h-1zM41 74h1v1h-1zM28 75h1v1h-1zM31 75h1v1h-1zM40 75h1v1h-1zM26 76h1v1h-1z"/>
<path fill="rgb(48,48,48)" d="M90 11h1v1h-1zM90 30h1v1h-1zM78 32h1v1h-1zM77 34h1v1h-1zM71 37h2v1h-2zM96 37h1v1h-1zM38 38h2v1h-2zM32 39h1v1h-1zM66 39h1v1h-1zM32 40h2v1h-2zM42 40h2v1h-2zM64 40h1v1h-1zM23 41h2v1h-2zM24 42h1v1h-1zM29 42h1v1h-1zM63 42h1v1h-1zM88 42h1v1h-1zM94 42h1v1h-1zM27 43h1v1h-1zM29 43h1v1h-1zM63 43h1v1h-1zM85 43h1v1h-1zM90 43h1v1h-1zM94 43h1v1h-1zM25 44h1v1h-1zM28 44h1v1h-1zM63 44h1v1h-1zM24 45h1v1h-1zM26 45h1v1h-1zM71 45h1v1h-1zM76 45h1v1h-1zM78 45h1v1h-1zM23 46h3v1h-3zM27 46h1v1h-1zM70 46h1v1h-1zM19 47h1v1h-1zM24 47h2v1h-2zM46 47h1v1h-1zM15 48h1v1h-1zM17 48h1v1h-1zM25 48h2v1h-2zM28 48h1v1h-1zM12 49h1v1h-1zM25 49h1v1h-1zM20 50h1v1h-1zM12 51h1v1h-1zM16 51h1v1h-1zM18 51h1v1h-1zM25 51h1v1h-1zM12 52h1v1h-1zM18 53h1v1h-1zM25 54h1v1h-1zM59 55h1v1h-1zM26 56h1v1h-1zM57 56h1v1h-1zM59 56h1v1h-1zM24 57h2v1h-2zM27 57h1v1h-1zM57 57h1v1h-1zM22 58h1v1h-1zM57 58h1v1h-1zM54 60h1v1h-1zM31 61h1v1h-1zM49 61h1v1h-1zM18 62h1v1h-1zM28 62h1v1h-1zM19 63h1v1h-1zM41 63h1v1h-1zM49 65h2v1h-2zM39 69h1v1h-1zM36 71h1v1h-1zM25 73h1v1h-1zM31 73h1v1h-1zM33 73h1v1h-1zM41 73h1v1h-1zM21 74h2v1h-2zM27 74h1v1h-1zM30 74h1v1h-1zM36 74h1v1h-1zM29 75h1v1h-1zM21 76h2v1h-2z"/>
<path fill="rgb(51,51,51)" d="M78 30h1v1h-1zM78 31h1v1h-1zM89 31h1v1h-1zM96 32h1v1h-1zM69 37h1v1h-1zM68 38h1v1h-1zM40 39h1v1h-1zM61 40h1v1h-1zM65 40h1v1h-1zM96 40h1v1h-1zM31 41h1v1h-1zM30 42h1v1h-1zM45 42h1v1h-1zM84 42h1v1h-1zM86 42h1v1h-1zM95 42h1v1h-1zM28 43h1v1h-1zM92 43h1v1h-1zM24 44h1v1h-1zM27 44h1v1h-1zM64 44h1v1h-1zM80 44h1v1h-1zM72 45h1v1h-1zM26 46h1v1h-1zM28 46h1v1h-1zM30 46h1v1h-1zM28 47h1v1h-1zM46 48h1v1h-1zM68 48h1v1h-1zM66 49h1v1h-1zM19 50h1v1h-1zM21 52h1v1h-1zM26 52h1v1h-1zM26 53h1v1h-1zM26 54h1v1h-1zM26 55h2v1h-2zM27 56h1v1h-1zM56 56h1v1h-1zM26 57h1v1h-1zM45 57h1v1h-1zM53 57h1v1h-1zM23 58h2v1h-2zM21 59h1v1h-1zM20 60h1v1h-1zM33 60h1v1h-1zM19 61h1v1h-1zM30 61h1v1h-1zM32 61h1v1h-1zM53 61h1v1h-1zM48 62h1v1h-1zM26 63h1v1h-1zM43 63h1v1h-1zM52 63h1v1h-1zM51 65h1v1h-1zM44 66h1v1h-1zM39 70h1v1h-1zM41 70h1v1h-1zM35 72h1v1h-1zM35 73h1v1h-1zM26 74h1v1h-1zM31 74h1v1h-1zM34 74h2v1h-2zM40 74h1v1h-1zM22 75h1v1h-1zM30 75h1v1h-1zM39 75h1v1h-1zM25 76h1v1h-1z"/>
<path fill="rgb(54,54,54)" d="M93 29h1v1h-1zM88 31h1v1h-1zM84 32h2v1h-2zM78 34h1v1h-1zM74 36h1v1h-1zM70 38h1v1h-1zM35 39h2v1h-2zM67 39h1v1h-1zM35 40h1v1h-1zM41 40h1v1h-1zM64 41h1v1h-1zM94 41h2v1h-2zM31 42h1v1h-1zM85 42h1v1h-1zM30 43h1v1h-1zM91 43h1v1h-1zM93 43h1v1h-1zM92 44h1v1h-1zM28 45h1v1h-1zM66 47h1v1h-1zM29 49h1v1h-1zM25 50h1v1h-1zM27 50h1v1h-1zM24 51h1v1h-1zM27 53h1v1h-1zM46 53h1v1h-1zM28 55h1v1h-1zM58 56h1v1h-1zM54 57h1v1h-1zM26 58h1v1h-1zM56 58h1v1h-1zM34 59h1v1h-1zM37 59h1v1h-1zM51 59h1v1h-1zM55 59h1v1h-1zM32 60h1v1h-1zM29 61h1v1h-1zM25 63h1v1h-1zM42 63h1v1h-1zM43 64h1v1h-1zM48 64h1v1h-1zM40 65h1v1h-1zM40 66h1v1h-1zM40 69h2v1h-2zM37 71h1v1h-1zM40 71h1v1h-1zM36 72h1v1h-1zM23 74h1v1h-1zM25 74h1v1h-1zM21 75h1v1h-1zM25 75h1v1h-1zM24 76h1v1h-1z"/>
<path fill="rgb(57,57,57)" d="M91 30h1v1h-1zM90 31h1v1h-1zM95 31h1v1h-1zM96 36h1v1h-1zM73 37h1v1h-1zM96 38h1v1h-1zM34 40h1v1h-1zM40 40h1v1h-1zM32 41h2v1h-2zM44 41h1v1h-1zM87 42h1v1h-1zM90 42h2v1h-2zM31 43h1v1h-1zM82 43h1v1h-1zM29 44h1v1h-1zM27 45h1v1h-1zM29 45h2v1h-2zM65 46h1v1h-1zM69 46h1v1h-1zM29 47h1v1h-1zM24 48h1v1h-1zM29 48h1v1h-1zM28 49h1v1h-1zM46 49h1v1h-1zM28 50h1v1h-1zM26 51h1v1h-1zM28 51h2v1h-2zM28 53h1v1h-1zM28 56h2v1h-2zM28 57h1v1h-1zM27 58h1v1h-1zM52 58h1v1h-1zM22 59h1v1h-1zM38 59h1v1h-1zM40 59h1v1h-1zM50 60h2v1h-2zM52 61h1v1h-1zM19 62h2v1h-2zM27 62h1v1h-1zM52 62h1v1h-1zM22 63h1v1h-1zM43 67h1v1h-1zM42 68h1v1h-1zM39 71h1v1h-1zM37 73h1v1h-1zM40 73h1v1h-1zM24 74h1v1h-1zM32 74h2v1h-2zM37 74h3v1h-3zM27 75h1v1h-1z"/>
<path fill="rgb(60,60,60)" d="M86 32h1v1h-1zM79 34h1v1h-1zM96 34h1v1h-1zM76 35h1v1h-1zM69 38h1v1h-1zM39 39h1v1h-1zM95 39h1v1h-1zM95 40h1v1h-1zM93 41h1v1h-1zM32 42h1v1h-1zM93 42h1v1h-1zM30 44h2v1h-2zM79 44h1v1h-1zM31 45h1v1h-1zM31 46h1v1h-1zM30 47h1v1h-1zM68 47h1v1h-1zM66 48h2v1h-2zM29 50h1v1h-1zM27 51h1v1h-1zM46 51h1v1h-1zM27 52h2v1h-2zM46 52h1v1h-1zM27 54h1v1h-1zM29 54h1v1h-1zM44 58h1v1h-1zM23 59h1v1h-1zM39 59h1v1h-1zM41 59h1v1h-1zM43 59h1v1h-1zM21 60h1v1h-1zM31 60h1v1h-1zM20 61h1v1h-1zM28 61h1v1h-1zM50 61h2v1h-2zM26 62h1v1h-1zM24 63h1v1h-1zM48 63h1v1h-1zM44 64h1v1h-1zM38 71h1v1h-1zM37 72h1v1h-1zM40 72h1v1h-1zM23 75h1v1h-1zM26 75h1v1h-1zM23 76h1v1h-1z"/>
<path fill="rgb(63,63,63)" d="M94 30h1v1h-1zM88 32h1v1h-1zM81 33h2v1h-2zM80 34h1v1h-1zM75 36h1v1h-1zM71 38h1v1h-1zM95 38h1v1h-1zM37 39h2v1h-2zM36 40h1v1h-1zM39 40h1v1h-1zM94 40h1v1h-1zM34 41h1v1h-1zM43 41h1v1h-1zM88 41h1v1h-1zM92 41h1v1h-1zM64 42h1v1h-1zM92 42h1v1h-1zM45 43h1v1h-1zM64 43h1v1h-1zM81 43h1v1h-1zM75 44h1v1h-1zM29 46h1v1h-1zM30 49h1v1h-1zM46 50h1v1h-1zM29 52h1v1h-1zM29 55h1v1h-1zM45 56h1v1h-1zM55 57h2v1h-2zM25 58h1v1h-1zM35 58h1v1h-1zM37 58h1v1h-1zM24 59h1v1h-1zM33 59h1v1h-1zM25 61h1v1h-1zM49 62h1v1h-1zM20 63h1v1h-1zM51 64h1v1h-1zM44 65h1v1h-1zM40 67h1v1h-1zM40 68h2v1h-2zM36 73h1v1h-1zM24 75h1v1h-1z"/>
<path fill="rgb(66,66,66)" d="M93 30h1v1h-1zM91 31h1v1h-1zM87 32h1v1h-1zM83 33h2v1h-2zM96 33h1v1h-1zM95 37h1v1h-1zM72 38h1v1h-1zM87 41h1v1h-1zM90 41h1v1h-1zM34 42h1v1h-1zM44 42h1v1h-1zM82 42h2v1h-2zM32 43h1v1h-1zM73 44h2v1h-2zM31 47h1v1h-1zM30 48h1v1h-1zM30 51h1v1h-1zM29 53h1v1h-1zM28 54h1v1h-1zM30 54h1v1h-1zM29 57h1v1h-1zM29 58h1v1h-1zM34 58h1v1h-1zM36 58h1v1h-1zM38 58h1v1h-1zM55 58h1v1h-1zM25 59h2v1h-2zM42 59h1v1h-1zM52 59h3v1h-3zM22 60h1v1h-1zM28 60h1v1h-1zM30 60h1v1h-1zM52 60h2v1h-2zM22 61h1v1h-1zM23 62h1v1h-1zM51 62h1v1h-1zM21 63h1v1h-1zM23 63h1v1h-1zM49 64h1v1h-1zM43 65h1v1h-1zM43 66h1v1h-1zM41 67h2v1h-2zM38 72h2v1h-2z"/>
<path fill="rgb(69,69,69)" d="M92 30h1v1h-1zM89 32h1v1h-1zM95 32h1v1h-1zM96 35h1v1h-1zM95 36h1v1h-1zM74 37h1v1h-1zM68 39h2v1h-2zM66 40h1v1h-1zM88 40h1v1h-1zM35 41h1v1h-1zM85 41h1v1h-1zM89 41h1v1h-1zM33 42h1v1h-1zM45 44h1v1h-1zM77 44h1v1h-1zM70 45h1v1h-1zM66 46h3v1h-3zM31 52h1v1h-1zM30 53h1v1h-1zM30 55h1v1h-1zM28 58h1v1h-1zM32 58h1v1h-1zM39 58h1v1h-1zM53 58h1v1h-1zM28 59h1v1h-1zM31 59h2v1h-2zM24 60h1v1h-1zM21 61h1v1h-1zM21 62h1v1h-1zM51 63h1v1h-1zM41 64h1v1h-1zM50 64h1v1h-1zM38 73h2v1h-2z"/>
<path fill="rgb(72,72,72)" d="M94 31h1v1h-1zM95 35h1v1h-1zM94 39h1v1h-1zM37 40h1v1h-1zM86 40h1v1h-1zM41 41h1v1h-1zM86 41h1v1h-1zM91 41h1v1h-1zM33 43h1v1h-1zM33 44h1v1h-1zM76 44h1v1h-1zM32 45h1v1h-1zM32 46h1v1h-1zM67 47h1v1h-1zM30 52h1v1h-1zM32 52h1v1h-1zM31 53h1v1h-1zM31 54h1v1h-1zM31 55h1v1h-1zM45 55h1v1h-1zM30 56h1v1h-1zM30 57h1v1h-1zM36 57h1v1h-1zM30 58h1v1h-1zM54 58h1v1h-1zM27 59h1v1h-1zM29 59h2v1h-2zM25 60h1v1h-1zM27 60h1v1h-1zM23 61h1v1h-1zM27 61h1v1h-1zM25 62h1v1h-1zM42 64h1v1h-1zM41 65h1v1h-1z"/>
<path fill="rgb(75,75,75)" d="M90 32h1v1h-1zM73 38h1v1h-1zM93 38h1v1h-1zM70 39h1v1h-1zM38 40h1v1h-1zM67 40h1v1h-1zM87 40h1v1h-1zM92 40h2v1h-2zM83 41h1v1h-1zM80 43h1v1h-1zM32 44h1v1h-1zM65 44h1v1h-1zM72 44h1v1h-1zM78 44h1v1h-1zM33 45h1v1h-1zM65 45h2v1h-2zM31 49h1v1h-1zM32 54h1v1h-1zM32 55h1v1h-1zM31 56h1v1h-1zM31 57h1v1h-1zM35 57h1v1h-1zM31 58h1v1h-1zM33 58h1v1h-1zM29 60h1v1h-1zM24 61h1v1h-1zM26 61h1v1h-1zM22 62h1v1h-1zM24 62h1v1h-1zM49 63h1v1h-1zM41 66h1v1h-1z"/>
<path fill="rgb(78,78,78)" d="M85 33h2v1h-2zM95 33h1v1h-1zM77 35h2v1h-2zM94 38h1v1h-1zM71 39h2v1h-2zM89 39h1v1h-1zM92 39h1v1h-1zM85 40h1v1h-1zM90 40h2v1h-2zM40 41h1v1h-1zM42 41h1v1h-1zM65 41h1v1h-1zM84 41h1v1h-1zM44 43h1v1h-1zM34 44h1v1h-1zM30 50h2v1h-2zM32 51h1v1h-1zM32 53h1v1h-1zM45 54h1v1h-1zM34 57h1v1h-1zM37 57h1v1h-1zM43 58h1v1h-1zM23 60h1v1h-1zM26 60h1v1h-1zM50 62h1v1h-1z"/>
<path fill="rgb(81,81,81)" d="M92 31h2v1h-2zM91 32h1v1h-1zM94 32h1v1h-1zM90 33h2v1h-2zM95 34h1v1h-1zM75 37h1v1h-1zM90 39h1v1h-1zM93 39h1v1h-1zM89 40h1v1h-1zM36 41h2v1h-2zM35 42h1v1h-1zM34 45h1v1h-1zM45 45h1v1h-1zM32 47h1v1h-1zM31 48h1v1h-1zM31 51h1v1h-1zM33 53h1v1h-1zM33 54h1v1h-1zM32 56h1v1h-1zM32 57h2v1h-2zM40 58h2v1h-2z"/>
<path fill="rgb(84,84,84)" d="M92 32h1v1h-1zM81 34h1v1h-1zM79 35h1v1h-1zM76 36h1v1h-1zM73 39h1v1h-1zM87 39h1v1h-1zM38 41h2v1h-2zM43 42h1v1h-1zM81 42h1v1h-1zM69 45h1v1h-1zM34 53h1v1h-1zM33 55h1v1h-1zM44 57h1v1h-1zM50 63h1v1h-1zM42 65h1v1h-1zM42 66h1v1h-1z"/>
<path fill="rgb(87,87,87)" d="M93 32h1v1h-1zM87 33h3v1h-3zM94 36h1v1h-1zM94 37h1v1h-1zM74 38h1v1h-1zM88 39h1v1h-1zM91 39h1v1h-1zM36 42h1v1h-1zM34 43h1v1h-1zM35 44h1v1h-1zM71 44h1v1h-1zM35 45h1v1h-1zM67 45h1v1h-1zM33 46h1v1h-1zM45 46h1v1h-1zM33 47h1v1h-1zM32 48h1v1h-1zM32 49h1v1h-1zM33 50h1v1h-1zM33 52h1v1h-1zM34 54h1v1h-1zM33 56h1v1h-1zM35 56h1v1h-1zM38 57h1v1h-1zM42 58h1v1h-1z"/>
<path fill="rgb(90,90,90)" d="M94 33h1v1h-1zM83 34h1v1h-1zM80 35h1v1h-1zM93 37h1v1h-1zM89 38h1v1h-1zM68 40h1v1h-1zM66 41h1v1h-1zM82 41h1v1h-1zM40 42h1v1h-1zM65 42h1v1h-1zM35 43h1v1h-1zM74 43h1v1h-1zM70 44h1v1h-1zM32 50h1v1h-1zM33 51h1v1h-1zM34 52h1v1h-1zM34 55h1v1h-1zM36 56h1v1h-1z"/>
<path fill="rgb(93,93,93)" d="M94 34h1v1h-1zM94 35h1v1h-1zM90 38h2v1h-2zM86 39h1v1h-1zM69 40h1v1h-1zM71 40h1v1h-1zM83 40h2v1h-2zM38 42h1v1h-1zM41 42h2v1h-2zM65 43h1v1h-1zM73 43h1v1h-1zM75 43h1v1h-1zM36 44h1v1h-1zM68 45h1v1h-1zM34 46h2v1h-2zM34 47h1v1h-1zM33 48h1v1h-1zM33 49h1v1h-1zM34 51h2v1h-2zM35 55h2v1h-2zM34 56h1v1h-1zM39 57h1v1h-1z"/>
<path fill="rgb(96,96,96)" d="M84 34h2v1h-2zM91 37h2v1h-2zM87 38h2v1h-2zM92 38h1v1h-1zM70 40h1v1h-1zM37 42h1v1h-1zM36 43h2v1h-2zM79 43h1v1h-1zM36 45h1v1h-1zM36 46h1v1h-1zM35 48h1v1h-1zM34 49h1v1h-1zM34 50h1v1h-1zM36 52h1v1h-1zM35 53h2v1h-2zM45 53h1v1h-1zM35 54h1v1h-1zM43 57h1v1h-1z"/>
<path fill="rgb(99,99,99)" d="M92 33h1v1h-1zM82 34h1v1h-1zM90 34h2v1h-2zM77 36h1v1h-1zM89 37h2v1h-2zM84 39h1v1h-1zM72 40h1v1h-1zM39 42h1v1h-1zM80 42h1v1h-1zM38 43h1v1h-1zM37 44h1v1h-1zM44 44h1v1h-1zM66 44h1v1h-1zM38 45h1v1h-1zM34 48h1v1h-1zM35 50h1v1h-1z"/>
<path fill="rgb(102,102,102)" d="M93 33h1v1h-1zM91 35h1v1h-1zM78 36h1v1h-1zM91 36h1v1h-1zM93 36h1v1h-1zM88 37h1v1h-1zM72 41h1v1h-1zM42 43h2v1h-2zM72 43h1v1h-1zM77 43h1v1h-1zM37 45h1v1h-1zM37 46h1v1h-1zM35 47h1v1h-1zM35 49h1v1h-1zM37 55h1v1h-1zM37 56h1v1h-1zM44 56h1v1h-1z"/>
<path fill="rgb(105,105,105)" d="M86 34h1v1h-1zM89 34h1v1h-1zM93 34h1v1h-1zM81 35h1v1h-1zM79 36h1v1h-1zM89 36h2v1h-2zM76 37h1v1h-1zM86 38h1v1h-1zM85 39h1v1h-1zM73 40h1v1h-1zM73 42h1v1h-1zM40 43h1v1h-1zM71 43h1v1h-1zM76 43h1v1h-1zM78 43h1v1h-1zM40 44h1v1h-1zM36 48h1v1h-1zM36 49h1v1h-1zM36 50h1v1h-1zM36 51h1v1h-1zM35 52h1v1h-1zM36 54h2v1h-2zM38 56h1v1h-1zM40 57h1v1h-1z"/>
<path fill="rgb(108,108,108)" d="M92 34h1v1h-1zM89 35h2v1h-2zM93 35h1v1h-1zM92 36h1v1h-1zM86 37h1v1h-1zM85 38h1v1h-1zM74 39h1v1h-1zM83 39h1v1h-1zM70 41h1v1h-1zM81 41h1v1h-1zM39 43h1v1h-1zM38 44h1v1h-1zM43 44h1v1h-1zM39 45h1v1h-1zM36 47h1v1h-1zM45 47h1v1h-1zM37 51h2v1h-2zM37 52h1v1h-1zM41 57h2v1h-2z"/>
<path fill="rgb(111,111,111)" d="M88 34h1v1h-1zM82 35h1v1h-1zM86 35h1v1h-1zM80 36h1v1h-1zM87 37h1v1h-1zM75 38h1v1h-1zM82 40h1v1h-1zM67 41h1v1h-1zM71 41h1v1h-1zM74 42h1v1h-1zM41 43h1v1h-1zM39 44h1v1h-1zM69 44h1v1h-1zM38 52h1v1h-1zM37 53h1v1h-1zM44 55h1v1h-1z"/>
<path fill="rgb(114,114,114)" d="M87 34h1v1h-1zM88 35h1v1h-1zM92 35h1v1h-1zM87 36h1v1h-1zM84 38h1v1h-1zM73 41h1v1h-1zM66 42h1v1h-1zM71 42h2v1h-2zM41 44h1v1h-1zM38 46h1v1h-1zM37 47h1v1h-1zM37 50h1v1h-1zM38 53h1v1h-1zM39 55h1v1h-1zM39 56h1v1h-1z"/>
<path fill="rgb(117,117,117)" d="M83 35h1v1h-1zM85 35h1v1h-1zM81 36h1v1h-1zM86 36h1v1h-1zM88 36h1v1h-1zM85 37h1v1h-1zM83 38h1v1h-1zM82 39h1v1h-1zM74 40h1v1h-1zM66 43h1v1h-1zM42 44h1v1h-1zM67 44h1v1h-1zM37 48h1v1h-1zM37 49h1v1h-1zM38 50h1v1h-1zM38 55h1v1h-1zM40 56h1v1h-1z"/>
<path fill="rgb(120,120,120)" d="M87 35h1v1h-1zM81 39h1v1h-1zM81 40h1v1h-1zM79 42h1v1h-1zM68 44h1v1h-1zM40 45h1v1h-1zM44 45h1v1h-1zM38 47h1v1h-1zM45 48h1v1h-1zM38 49h1v1h-1zM39 51h1v1h-1zM39 53h1v1h-1zM38 54h1v1h-1z"/>
<path fill="rgb(123,123,123)" d="M82 36h1v1h-1zM84 36h2v1h-2zM77 37h1v1h-1zM84 37h1v1h-1zM82 38h1v1h-1zM68 41h2v1h-2zM74 41h1v1h-1zM80 41h1v1h-1zM76 42h1v1h-1zM70 43h1v1h-1zM39 46h1v1h-1zM39 50h1v1h-1zM39 52h1v1h-1zM45 52h1v1h-1zM39 54h1v1h-1z"/>
<path fill="rgb(126,126,126)" d="M84 35h1v1h-1zM83 36h1v1h-1zM81 37h1v1h-1zM83 37h1v1h-1zM75 39h1v1h-1zM75 42h1v1h-1zM38 48h1v1h-1zM44 54h1v1h-1zM43 56h1v1h-1z"/>
<path fill="rgb(129,129,129)" d="M79 37h2v1h-2zM82 37h1v1h-1zM76 38h1v1h-1zM81 38h1v1h-1zM70 42h1v1h-1zM78 42h1v1h-1zM40 46h1v1h-1zM40 54h1v1h-1zM43 55h1v1h-1zM42 56h1v1h-1z"/>
<path fill="rgb(132,132,132)" d="M78 37h1v1h-1zM42 45h1v1h-1zM39 49h1v1h-1zM41 56h1v1h-1z"/>
<path fill="rgb(135,135,135)" d="M75 41h1v1h-1zM67 42h1v1h-1zM77 42h1v1h-1zM67 43h1v1h-1zM41 45h1v1h-1zM39 47h1v1h-1zM45 51h1v1h-1zM40 53h1v1h-1zM40 55h1v1h-1z"/>
<path fill="rgb(138,138,138)" d="M79 41h1v1h-1zM69 42h1v1h-1zM69 43h1v1h-1zM43 45h1v1h-1zM45 49h1v1h-1zM40 52h1v1h-1z"/>
<path fill="rgb(141,141,141)" d="M80 38h1v1h-1zM80 39h1v1h-1zM75 40h1v1h-1zM80 40h1v1h-1zM39 48h1v1h-1zM40 51h1v1h-1z"/>
<path fill="rgb(144,144,144)" d="M77 38h1v1h-1zM68 42h1v1h-1zM40 48h1v1h-1zM41 55h1v1h-1z"/>
<path fill="rgb(147,147,147)" d="M79 38h1v1h-1zM68 43h1v1h-1zM44 46h1v1h-1zM40 47h1v1h-1zM40 50h1v1h-1zM45 50h1v1h-1zM41 54h1v1h-1z"/>
<path fill="rgb(150,150,150)" d="M78 38h1v1h-1zM78 41h1v1h-1zM41 46h1v1h-1zM42 55h1v1h-1z"/>
<path fill="rgb(153,153,153)" d="M76 39h1v1h-1zM40 49h1v1h-1zM41 53h1v1h-1zM42 54h2v1h-2z"/>
<path fill="rgb(156,156,156)" d="M44 53h1v1h-1z"/>
<path fill="rgb(159,159,159)" d="M79 39h1v1h-1zM79 40h1v1h-1zM76 41h2v1h-2z"/>
<path fill="rgb(165,165,165)" d="M77 39h1v1h-1zM76 40h1v1h-1zM41 47h1v1h-1zM41 52h1v1h-1z"/>
<path fill="rgb(168,168,168)" d="M43 46h1v1h-1z"/>
<path fill="rgb(171,171,171)" d="M77 40h2v1h-2zM42 46h1v1h-1zM42 53h1v1h-1z"/>
<path fill="rgb(174,174,174)" d="M78 39h1v1h-1z"/>
<path fill="rgb(177,177,177)" d="M41 48h1v1h-1zM41 50h1v1h-1z"/>
<path fill="rgb(180,180,180)" d="M44 47h1v1h-1zM41 49h1v1h-1zM41 51h1v1h-1z"/>
<path fill="rgb(183,183,183)" d="M43 53h1v1h-1z"/>
<path fill="rgb(195,195,195)" d="M42 47h1v1h-1zM44 52h1v1h-1z"/>
<path fill="rgb(210,210,210)" d="M43 47h1v1h-1zM42 52h1v1h-1z"/>
<path fill="rgb(219,219,219)" d="M44 48h1v1h-1z"/>
<path fill="rgb(222,222,222)" d="M42 48h1v1h-1z"/>
<path fill="rgb(228,228,228)" d="M42 51h1v1h-1z"/>
<path fill="rgb(231,231,231)" d="M43 52h1v1h-1z"/>
<path fill="rgb(237,237,237)" d="M44 51h1v1h-1z"/>
<path fill="rgb(243,243,243)" d="M44 49h1v1h-1z"/>
<path fill="rgb(249,249,249)" d="M42 49h1v1h-1z"/>
<path fill="rgb(252,252,252)" d="M42 50h1v1h-1z"/>
<path fill="rgb(255,255,255)" d="M43 48h1v1h-1zM43 49h1v1h-1zM43 50h2v1h-2zM43 51h1v1h-1z"/>
</g></g>
<g clip-path="url(#cl)">
<circle cx="873.6" cy="341.5" r="4.0" fill="#ffd700" stroke="#000" stroke-width="1.39"/>
<polygon points="763.1,138.5 336.9,170.8 283.1,232.3 191.7,350.9 193.5,509.4 284.0,601.5 392.3,743.1 660.0,756.3 889.9,554.5 934.5,521.9 874.4,342.3" fill="none" stroke="#ffd700" stroke-width="8.7" stroke-linejoin="miter"/>
<circle cx="314.5" cy="318.5" r="4.2" fill="#ffd700" stroke="#000" stroke-width="1.15"/>
<circle cx="443.4" cy="321.5" r="4.2" fill="#ffd700" stroke="#000" stroke-width="1.15"/>
<circle cx="417.2" cy="334.5" r="4.2" fill="#ffd700" stroke="#000" stroke-width="1.15"/>
<circle cx="450.5" cy="358.5" r="4.2" fill="#ffd700" stroke="#000" stroke-width="1.15"/>
<circle cx="351.4" cy="364.3" r="4.2" fill="#ffd700" stroke="#000" stroke-width="1.15"/>
<circle cx="306.2" cy="372.3" r="4.2" fill="#ffd700" stroke="#000" stroke-width="1.15"/>
<circle cx="752.3" cy="152.3" r="4.3" fill="#00ffff" stroke="#000" stroke-width="1.15"/>
<circle cx="789.2" cy="346.1" r="4.2" fill="#ffd700" stroke="#000" stroke-width="1.15"/>
<circle cx="854.5" cy="356.1" r="4.2" fill="#ffd700" stroke="#000" stroke-width="1.15"/>
<circle cx="793.2" cy="385.3" r="4.2" fill="#ffd700" stroke="#000" stroke-width="1.15"/>
<circle cx="812.3" cy="383.1" r="4.2" fill="#ffd700" stroke="#000" stroke-width="1.15"/>
<circle cx="824.2" cy="400.8" r="4.2" fill="#ffd700" stroke="#000" stroke-width="1.15"/>
<circle cx="750.2" cy="391.2" r="4.7" fill="#00ffff" stroke="#000" stroke-width="1.15"/>
<circle cx="693.2" cy="401.4" r="4.7" fill="#00ffff" stroke="#000" stroke-width="1.15"/>
<circle cx="756.0" cy="406.0" r="4.2" fill="#ffd700" stroke="#000" stroke-width="1.15"/>
<circle cx="725.2" cy="430.3" r="4.7" fill="#00ffff" stroke="#000" stroke-width="1.15"/>
<circle cx="700.3" cy="456.5" r="4.2" fill="#ffd700" stroke="#000" stroke-width="1.15"/>
<circle cx="651.4" cy="500.2" r="4.2" fill="#ffd700" stroke="#000" stroke-width="1.15"/>
<circle cx="808.3" cy="602.3" r="4.2" fill="#ffd700" stroke="#000" stroke-width="1.15"/>
<circle cx="595.4" cy="393.2" r="4.5" fill="#00ffff" stroke="#000" stroke-width="1.15"/>
<circle cx="516.3" cy="449.2" r="4.7" fill="#00ffff" stroke="#000" stroke-width="1.15"/>
<circle cx="511.4" cy="464.0" r="4.2" fill="#ffd700" stroke="#000" stroke-width="1.15"/>
<circle cx="512.3" cy="470.5" r="4.2" fill="#ffd700" stroke="#000" stroke-width="1.15"/>
<circle cx="495.4" cy="471.4" r="4.2" fill="#ffd700" stroke="#000" stroke-width="1.15"/>
<circle cx="504.0" cy="507.1" r="4.2" fill="#ffd700" stroke="#000" stroke-width="1.15"/>
<circle cx="588.3" cy="474.5" r="4.5" fill="#00ffff" stroke="#000" stroke-width="1.15"/>
<circle cx="608.3" cy="466.5" r="4.2" fill="#ffd700" stroke="#000" stroke-width="1.15"/>
<circle cx="629.2" cy="497.2" r="4.2" fill="#ffd700" stroke="#000" stroke-width="1.15"/>
<circle cx="413.2" cy="492.2" r="4.2" fill="#ffd700" stroke="#000" stroke-width="1.15"/>
<circle cx="413.2" cy="498.7" r="4.2" fill="#ffd700" stroke="#000" stroke-width="1.15"/>
<circle cx="487.4" cy="631.4" r="4.2" fill="#ffd700" stroke="#000" stroke-width="1.15"/>
<circle cx="408.3" cy="656.3" r="4.2" fill="#ffd700" stroke="#000" stroke-width="1.15"/>
<circle cx="553.2" cy="673.4" r="4.3" fill="#00ffff" stroke="#000" stroke-width="1.15"/>
<circle cx="611.4" cy="692.3" r="4.2" fill="#ffd700" stroke="#000" stroke-width="1.15"/>
</g>
<rect x="191.0" y="75.0" width="744.0" height="744.0" fill="none" stroke="#000" stroke-width="2.1"/>
<line x1="181.3" y1="87.8" x2="191.0" y2="87.8" stroke="#000" stroke-width="2.1"/>
<text x="172.0" y="103.1" font-size="38.89" text-anchor="end">0.30</text>
<line x1="181.3" y1="236.5" x2="191.0" y2="236.5" stroke="#000" stroke-width="2.1"/>
<text x="172.0" y="251.8" font-size="38.89" text-anchor="end">0.25</text>
<line x1="181.3" y1="385.2" x2="191.0" y2="385.2" stroke="#000" stroke-width="2.1"/>
<text x="172.0" y="400.5" font-size="38.89" text-anchor="end">0.20</text>
<line x1="181.3" y1="533.8" x2="191.0" y2="533.8" stroke="#000" stroke-width="2.1"/>
<text x="172.0" y="549.1" font-size="38.89" text-anchor="end">0.15</text>
<line x1="181.3" y1="682.5" x2="191.0" y2="682.5" stroke="#000" stroke-width="2.1"/>
<text x="172.0" y="697.8" font-size="38.89" text-anchor="end">0.10</text>
<line x1="335.7" y1="819.0" x2="335.7" y2="828.7" stroke="#000" stroke-width="2.1"/>
<text x="335.2" y="869.2" font-size="38.89" text-anchor="middle">−24.15</text>
<line x1="484.5" y1="819.0" x2="484.5" y2="828.7" stroke="#000" stroke-width="2.1"/>
<text x="484.0" y="869.2" font-size="38.89" text-anchor="middle">−24.20</text>
<line x1="633.3" y1="819.0" x2="633.3" y2="828.7" stroke="#000" stroke-width="2.1"/>
<text x="632.8" y="869.2" font-size="38.89" text-anchor="middle">−24.25</text>
<line x1="782.0" y1="819.0" x2="782.0" y2="828.7" stroke="#000" stroke-width="2.1"/>
<text x="781.5" y="869.2" font-size="38.89" text-anchor="middle">−24.30</text>
<line x1="930.8" y1="819.0" x2="930.8" y2="828.7" stroke="#000" stroke-width="2.1"/>
<text x="930.3" y="869.2" font-size="38.89" text-anchor="middle">−24.35</text>
<text x="563.0" y="930.3" font-size="55.56" text-anchor="middle">GLON (deg)</text>
<text transform="translate(62.0,449.5) rotate(-90)" font-size="55.56" text-anchor="middle">GLAT (deg)</text>
<g clip-path="url(#cr)">
<rect x="1473.1" y="62.0" width="39.6" height="770.0" fill="#ffd700" fill-opacity="0.5"/>
<path d="M1473.6 62.0V832.0M1512.2 62.0V832.0" stroke="#ffd700" stroke-opacity="0.5" stroke-width="1.4" fill="none"/>
<path d="M1306.8 802.1 L1309.2 787.7 L1311.7 773.3 L1312.8 885.0 L1313.3 885.0 L1314.4 785.6 L1315.5 885.0 L1317.0 885.0 L1318.1 792.8 L1319.2 885.0 L1319.4 885.0 L1320.5 806.2 L1321.6 885.0 L1322.9 885.0 L1324.0 747.7 L1325.0 885.0 L1326.1 756.9 L1327.2 885.0 L1327.2 885.0 L1328.3 737.4 L1329.4 885.0 L1330.7 885.0 L1331.8 779.5 L1332.8 885.0 L1333.8 777.4 L1334.9 885.0 L1335.9 785.6 L1336.8 885.0 L1337.7 709.7 L1339.7 804.1 L1341.6 811.1 L1343.7 819.1 L1345.9 750.8 L1347.0 885.0 L1347.3 885.0 L1348.4 773.3 L1349.5 885.0 L1349.6 885.0 L1350.7 766.6 L1351.8 885.0 L1351.8 885.0 L1352.9 802.1 L1356.0 812.3 L1358.5 806.2 L1359.6 885.0 L1360.0 885.0 L1361.1 721.6 L1362.2 885.0 L1362.5 885.0 L1363.6 763.1 L1364.6 885.0 L1365.6 761.0 L1366.7 885.0 L1366.8 885.0 L1367.9 773.3 L1369.0 885.0 L1369.3 885.0 L1370.4 678.6 L1371.5 885.0 L1372.1 885.0 L1373.2 780.5 L1374.9 808.0 L1376.9 764.5 L1379.0 808.0 L1382.5 733.3 L1383.5 885.0 L1384.5 744.6 L1385.6 885.0 L1386.1 885.0 L1387.2 658.1 L1388.1 885.0 L1389.0 740.5 L1389.9 885.0 L1390.9 739.1 L1393.5 818.5 L1395.8 760.6 L1396.9 885.0 L1397.0 885.0 L1398.1 773.3 L1399.1 885.0 L1400.1 764.5 L1401.2 885.0 L1401.5 885.0 L1402.6 783.6 L1403.7 885.0 L1403.9 885.0 L1405.0 785.0 L1406.1 885.0 L1408.6 885.0 L1409.7 788.7 L1410.6 885.0 L1411.4 797.9 L1412.2 885.0 L1413.0 778.1 L1414.1 885.0 L1414.2 885.0 L1415.3 802.1 L1416.3 885.0 L1417.3 803.1 L1418.4 885.0 L1423.0 885.0 L1424.1 779.5 L1425.2 885.0 L1425.7 885.0 L1426.8 806.2 L1427.9 885.0 L1428.5 885.0 L1429.6 740.5 L1430.6 885.0 L1431.5 778.5 L1432.2 885.0 L1432.9 777.4 L1433.6 885.0 L1434.4 804.1 L1435.1 885.0 L1435.8 803.1 L1436.9 885.0 L1437.4 885.0 L1438.5 806.2 L1439.6 885.0 L1439.8 885.0 L1440.9 773.9 L1442.0 885.0 L1442.1 885.0 L1443.2 795.9 L1443.9 885.0 L1444.6 796.9 L1445.3 885.0 L1446.1 806.2 L1446.9 885.0 L1447.7 749.3 L1448.8 885.0 L1449.3 885.0 L1450.4 810.3 L1451.5 885.0 L1453.8 885.0 L1454.9 796.9 L1455.9 885.0 L1456.9 806.2 L1457.9 885.0 L1459.0 761.6 L1459.9 885.0 L1460.8 773.3 L1461.7 885.0 L1462.7 743.2 L1463.7 885.0 L1464.7 800.0 L1465.6 885.0 L1466.6 800.0 L1467.4 885.0 L1468.2 810.3 L1469.0 885.0 L1469.8 735.4 L1470.9 885.0 L1471.0 885.0 L1472.1 765.1 L1473.2 885.0 L1473.3 885.0 L1474.4 720.0 L1476.6 792.8 L1478.1 709.7 L1479.2 775.0 L1480.2 690.0 L1481.2 740.0 L1482.3 650.0 L1483.0 705.0 L1483.6 552.0 L1485.3 520.0 L1486.6 425.0 L1487.9 293.0 L1489.9 356.0 L1491.7 218.0 L1494.2 330.0 L1496.0 273.0 L1497.4 500.0 L1499.6 535.0 L1501.2 615.0 L1503.3 628.0 L1504.4 690.0 L1505.7 745.0 L1507.8 670.8 L1508.9 824.3 L1510.2 824.3 L1511.3 704.2 L1512.4 822.4 L1513.7 822.4 L1514.8 726.2 L1515.9 821.0 L1517.0 821.0 L1518.1 748.7 L1519.2 820.1 L1519.8 820.1 L1520.9 722.7 L1522.0 825.8 L1522.7 825.8 L1523.8 756.9 L1524.9 831.9 L1525.8 831.9 L1526.9 732.3 L1528.6 791.8 L1530.4 715.3 L1532.4 754.9 L1534.9 672.4 L1536.0 831.9 L1536.4 831.9 L1537.5 719.6 L1538.6 826.1 L1539.6 745.6 L1540.6 823.9 L1541.6 765.1 L1542.6 829.9 L1543.5 752.8 L1544.6 822.1 L1544.6 822.1 L1545.7 785.6 L1546.8 831.9 L1547.1 831.9 L1548.2 741.1 L1549.3 822.1 L1549.6 822.1 L1550.7 779.5 L1551.8 824.0 L1552.6 824.0 L1553.7 816.4 L1554.8 829.9 L1558.0 829.9 L1559.1 750.2 L1560.2 885.0 L1560.4 885.0 L1561.5 789.7 L1562.6 885.0 L1563.6 788.7 L1564.7 885.0 L1567.2 885.0 L1568.3 775.4 L1569.1 885.0 L1569.9 783.6 L1570.9 885.0 L1571.8 719.0 L1572.9 885.0 L1578.3 885.0 L1579.4 756.3 L1580.5 885.0 L1580.5 885.0 L1581.6 769.2 L1582.7 885.0 L1583.0 885.0 L1584.1 761.6 L1585.2 885.0 L1589.8 885.0 L1590.9 825.2 L1592.0 885.0 L1598.0 885.0 L1599.1 810.3 L1600.2 885.0 L1603.7 885.0 L1604.8 800.0 L1605.9 885.0 L1611.1 885.0 L1612.2 785.6 L1613.3 885.0 L1613.8 885.0 L1614.9 816.4 L1616.0 885.0 L1616.4 885.0 L1617.5 803.5 L1618.6 885.0 L1618.9 885.0 L1620.0 816.4 L1621.1 885.0 L1622.0 885.0 L1623.1 740.5 L1624.2 885.0 L1625.7 885.0 L1626.8 820.5 L1627.9 885.0 L1629.6 885.0 L1630.7 738.5 L1631.8 885.0 L1632.2 885.0 L1633.3 791.8 L1634.4 885.0 L1635.7 885.0 L1636.8 812.3 L1637.5 885.0 L1638.3 820.5 L1639.0 885.0 L1639.7 812.3 L1640.5 885.0 L1641.3 822.6 L1642.2 885.0 L1643.0 793.8 L1644.1 885.0 L1645.4 885.0 L1646.5 823.6 L1647.6 885.0 L1650.7 885.0 L1651.8 796.9 L1652.4 885.0 L1653.0 802.1 L1653.6 885.0 L1654.3 788.7 L1655.0 885.0 L1655.7 793.8 L1656.3 885.0 L1656.9 764.5 L1657.7 885.0 L1658.6 773.3 L1659.3 885.0 L1660.0 764.5 L1661.1 885.0 L1662.0 885.0 L1663.1 824.6 L1664.1 885.0 L1665.1 808.2 L1665.9 885.0 L1666.8 816.4 L1667.8 885.0 L1668.8 762.1 L1669.9 885.0 L1670.8 885.0 L1671.9 787.7 L1672.6 885.0 L1673.3 786.7 L1674.4 885.0 L1675.4 758.4 L1676.1 885.0 L1676.8 765.1 L1677.4 885.0 L1678.1 754.3 L1679.2 885.0 L1679.4 885.0 L1680.5 792.8 L1681.6 885.0 L1682.1 885.0 L1683.2 790.8 L1684.0 885.0 L1684.8 797.9 L1685.7 885.0 L1686.7 776.8 L1687.8 885.0 L1691.0 885.0 L1692.1 765.7 L1693.2 885.0 L1693.8 885.0 L1694.9 812.3 L1696.0 885.0 L1696.5 885.0 L1697.6 816.4 L1698.7 885.0 L1702.2 885.0 L1703.3 823.6 L1704.4 885.0 L1704.5 885.0 L1705.6 811.3 L1706.6 885.0 L1707.6 779.5 L1708.5 885.0 L1709.3 789.7 L1710.1 885.0 L1710.9 776.8 L1712.0 885.0 L1713.1 885.0 L1714.2 818.5 L1715.3 885.0 L1717.2 885.0 L1718.3 783.6 L1719.4 885.0 L1720.1 885.0 L1721.2 823.6 L1722.3 885.0 L1722.7 885.0 L1723.8 822.6 L1724.9 885.0 L1731.0 885.0 L1732.1 748.1 L1733.2 885.0 L1734.4 885.0 L1735.5 819.5 L1736.6 885.0 L1738.3 885.0 L1739.4 794.9 L1740.5 885.0 L1744.9 885.0 L1746.0 812.9 L1747.1 885.0 L1747.2 885.0 L1748.3 820.5 L1749.4 885.0 L1749.6 885.0 L1750.7 810.9 L1751.8 885.0 L1752.5 885.0 L1753.6 817.4 L1754.7 885.0 L1756.2 885.0 L1757.3 769.2 L1758.4 885.0 L1758.4 885.0 L1759.5 781.5 L1760.6 885.0 L1760.7 885.0 L1761.8 758.4 L1762.9 885.0 L1763.4 885.0 L1764.5 812.3 L1765.4 885.0 L1766.3 810.3 L1767.4 885.0 L1767.9 885.0 L1769.0 804.1 L1769.8 885.0 L1770.6 812.3 L1771.3 885.0 L1772.1 806.2 L1773.1 885.0 L1774.1 814.4 L1775.1 885.0 L1776.2 805.5 L1777.3 885.0 L1784.9 885.0 L1786.0 776.0 L1787.1 885.0 L1788.4 885.0 L1789.5 824.6 L1790.6 885.0 L1792.5 885.0 L1793.6 793.2 L1794.7 885.0 L1795.2 885.0 L1796.3 808.2 L1797.4 885.0 L1798.8 885.0 L1799.9 778.5 L1801.0 885.0 L1802.1 885.0 L1803.2 817.4 L1804.1 885.0 L1804.9 816.4 L1806.0 885.0 L1807.3 885.0 L1808.4 770.7 L1809.5 885.0 L1811.0 885.0 L1812.1 810.9 L1813.1 885.0 L1814.1 822.6 L1815.2 885.0 L1815.5 885.0 L1816.6 780.5 L1817.7 885.0 L1817.7 885.0 L1818.8 797.9 L1819.5 885.0 L1820.3 795.3 L1821.3 885.0 L1822.3 800.0 L1823.4 885.0 L1823.9 885.0 L1825.0 788.7 L1826.1 885.0 L1830.4 885.0 L1831.5 778.5 L1832.6 885.0 L1833.5 885.0 L1834.6 824.6 L1835.7 885.0 L1837.0 885.0 L1838.1 795.9 L1839.2 885.0 L1839.3 885.0 L1840.4 806.2 L1841.1 885.0 L1841.8 804.7 L1842.6 885.0 L1843.4 814.4 L1844.2 885.0 L1844.9 810.9 L1845.9 885.0 L1846.9 814.4 L1848.0 885.0 L1850.1 885.0 L1851.2 769.8 L1852.3 885.0 L1857.1 885.0 L1858.2 797.9 L1859.2 885.0 L1860.3 806.2 L1861.3 885.0 L1862.3 756.9 L1863.4 885.0 L1864.9 885.0 L1866.0 824.6 L1867.1 885.0 L1867.8 885.0 L1868.9 788.7 L1870.0 885.0 L1870.0 885.0 L1871.1 797.9 L1872.2 885.0 L1872.5 885.0 L1873.6 771.3 L1874.7 885.0 L1875.2 885.0 L1876.3 791.8 L1877.4 885.0 L1878.8 885.0 L1879.9 749.3 L1881.0 885.0 L1881.3 885.0 L1882.4 773.3 L1883.4 885.0 L1884.5 767.2 L1885.6 885.0 L1890.2 885.0 L1891.3 764.5 L1892.4 885.0 L1893.7 885.0 L1894.8 816.4 L1895.6 885.0 L1896.4 812.3 L1897.5 885.0 L1898.4 885.0 L1899.5 783.0 L1900.6 885.0 L1901.1 885.0 L1902.2 806.2 L1903.3 885.0 L1903.9 885.0 L1905.0 748.7 L1906.1 885.0 L1906.6 885.0 L1907.7 804.1 L1908.5 885.0 L1909.3 790.8 L1910.4 885.0 L1910.7 885.0 L1911.8 770.3 L1912.6 885.0 L1913.4 775.4 L1914.4 885.0 L1915.3 754.3 L1916.4 885.0 L1926.1 885.0 L1927.2 783.6 L1928.2 885.0 L1929.2 789.7 L1930.3 885.0 L1931.3 780.9 L1932.4 885.0 L1932.6 885.0 L1933.7 808.2 L1934.8 885.0 L1935.8 806.2 L1936.8 885.0 L1937.8 778.5 L1938.7 885.0 L1939.5 783.6 L1940.5 885.0 L1941.5 762.5 L1942.6 885.0 L1942.7 885.0 L1943.8 779.5 L1944.7 885.0 L1945.6 775.4 L1946.7 885.0 L1947.2 885.0 L1948.3 801.0 L1949.2 885.0 L1950.2 800.0 L1951.3 885.0 L1952.1 885.0 L1953.2 812.3 L1954.3 885.0 L1955.2 885.0 L1956.3 803.1 L1957.2 885.0 L1958.2 806.2 L1959.1 885.0 L1960.0 727.2 L1961.1 885.0 L1961.4 885.0 L1962.5 765.1 L1963.5 885.0 L1964.5 763.1 L1965.6 885.0 L1967.1 885.0 L1968.2 785.6 L1969.3 885.0 L1970.8 885.0 L1971.9 783.0 L1973.0 885.0 L1978.2 885.0 L1979.3 766.6 L1980.4 885.0 L1981.5 885.0 L1982.6 783.6 L1983.7 885.0 L1983.9 885.0 L1985.0 791.8 L1986.1 885.0 L1987.1 803.1 L1988.2 885.0 L1988.6 885.0 L1989.7 816.4 L1990.8 885.0 L1994.2 885.0 L1995.3 762.5 L1996.4 885.0 L1996.6 885.0 L1997.7 764.5 L1998.8 885.0 L1999.5 885.0 L2000.6 812.3 L2001.4 885.0 L2002.3 813.3 L2003.4 885.0 L2004.0 885.0 L2005.1 814.4 L2006.2 885.0 L2009.6 885.0 L2010.7 787.7 L2011.6 885.0 L2012.5 791.8 L2013.6 885.0 L2013.7 885.0 L2014.8 760.4 L2015.9 885.0 L2016.3 885.0 L2017.4 783.6 L2018.5 885.0 L2019.4 885.0 L2020.5 761.0 L2021.6 885.0 L2022.5 885.0 L2023.6 814.4 L2024.4 885.0 L2025.2 816.4 L2026.3 885.0 L2026.6 885.0 L2027.7 806.2 L2028.8 885.0 L2029.7 885.0 L2030.8 818.5 L2031.9 885.0 L2034.2 885.0 L2035.3 754.3 L2036.4 885.0 L2037.3 885.0 L2038.4 804.1 L2039.5 885.0 L2041.0 885.0 L2042.1 754.3 L2043.2 885.0 L2045.1 885.0 L2046.2 785.6 L2047.3 885.0 L2048.1 885.0 L2049.2 793.8 L2051.5 802.1" fill="none" stroke="#1f77b4" stroke-width="4.17" stroke-linejoin="round" stroke-linecap="butt"/>
<line x1="1492.6" y1="62.0" x2="1492.6" y2="832.0" stroke="#000" stroke-width="2.78"/>
</g>
<rect x="1307.0" y="62.0" width="744.0" height="770.0" fill="none" stroke="#000" stroke-width="2.1"/>
<line x1="1297.3" y1="832.0" x2="1307.0" y2="832.0" stroke="#000" stroke-width="2.1"/>
<text x="1288.0" y="847.3" font-size="38.89" text-anchor="end">0.00</text>
<line x1="1297.3" y1="736.0" x2="1307.0" y2="736.0" stroke="#000" stroke-width="2.1"/>
<text x="1288.0" y="751.3" font-size="38.89" text-anchor="end">0.25</text>
<line x1="1297.3" y1="639.2" x2="1307.0" y2="639.2" stroke="#000" stroke-width="2.1"/>
<text x="1288.0" y="654.5" font-size="38.89" text-anchor="end">0.50</text>
<line x1="1297.3" y1="543.0" x2="1307.0" y2="543.0" stroke="#000" stroke-width="2.1"/>
<text x="1288.0" y="558.3" font-size="38.89" text-anchor="end">0.75</text>
<line x1="1297.3" y1="447.0" x2="1307.0" y2="447.0" stroke="#000" stroke-width="2.1"/>
<text x="1288.0" y="462.3" font-size="38.89" text-anchor="end">1.00</text>
<line x1="1297.3" y1="350.3" x2="1307.0" y2="350.3" stroke="#000" stroke-width="2.1"/>
<text x="1288.0" y="365.6" font-size="38.89" text-anchor="end">1.25</text>
<line x1="1297.3" y1="254.0" x2="1307.0" y2="254.0" stroke="#000" stroke-width="2.1"/>
<text x="1288.0" y="269.3" font-size="38.89" text-anchor="end">1.50</text>
<line x1="1297.3" y1="157.0" x2="1307.0" y2="157.0" stroke="#000" stroke-width="2.1"/>
<text x="1288.0" y="172.3" font-size="38.89" text-anchor="end">1.75</text>
<line x1="1307.0" y1="832.0" x2="1307.0" y2="841.7" stroke="#000" stroke-width="2.1"/>
<text x="1306.6" y="881.5" font-size="38.89" text-anchor="middle">−100</text>
<line x1="1492.8" y1="832.0" x2="1492.8" y2="841.7" stroke="#000" stroke-width="2.1"/>
<text x="1492.4" y="881.5" font-size="38.89" text-anchor="middle">−50</text>
<line x1="1678.9" y1="832.0" x2="1678.9" y2="841.7" stroke="#000" stroke-width="2.1"/>
<text x="1678.5" y="881.5" font-size="38.89" text-anchor="middle">0</text>
<line x1="1864.9" y1="832.0" x2="1864.9" y2="841.7" stroke="#000" stroke-width="2.1"/>
<text x="1864.5" y="881.5" font-size="38.89" text-anchor="middle">50</text>
<line x1="2050.9" y1="832.0" x2="2050.9" y2="841.7" stroke="#000" stroke-width="2.1"/>
<text x="2050.5" y="881.5" font-size="38.89" text-anchor="middle">100</text>
<text x="1679.0" y="943.0" font-size="55.56" text-anchor="middle">Velocity (km/s)</text>
<text transform="translate(1177.3,450.0) rotate(-90)" font-size="55.56" text-anchor="middle">Intensity (K)</text>
<text x="1679.0" y="46.0" font-size="33.33" text-anchor="middle">Velocity: -50.3 km/s</text>
</svg></body></html>
